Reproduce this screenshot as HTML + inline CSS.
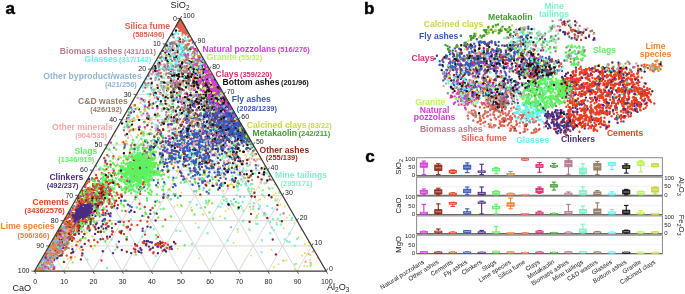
<!DOCTYPE html>
<html><head><meta charset="utf-8"><style>
html,body{margin:0;padding:0;background:#fff;}
svg{display:block;font-family:"Liberation Sans",sans-serif;will-change:transform;}
</style></head><body>
<svg width="685" height="294" viewBox="0 0 685 294">
<rect width="685" height="294" fill="#fff"/>
<g><line x1="49.08" y1="245.94" x2="311.60" y2="245.94" stroke="#d9d9d9" stroke-width="1.00"/><line x1="165.67" y1="43.86" x2="297.03" y2="271.20" stroke="#d9d9d9" stroke-width="1.00"/><line x1="194.84" y1="43.86" x2="63.67" y2="271.20" stroke="#d9d9d9" stroke-width="1.00"/><line x1="63.65" y1="220.68" x2="297.01" y2="220.68" stroke="#d9d9d9" stroke-width="1.00"/><line x1="151.10" y1="69.12" x2="267.86" y2="271.20" stroke="#d9d9d9" stroke-width="1.00"/><line x1="209.44" y1="69.12" x2="92.84" y2="271.20" stroke="#d9d9d9" stroke-width="1.00"/><line x1="78.22" y1="195.42" x2="282.41" y2="195.42" stroke="#d9d9d9" stroke-width="1.00"/><line x1="136.53" y1="94.38" x2="238.69" y2="271.20" stroke="#d9d9d9" stroke-width="1.00"/><line x1="224.03" y1="94.38" x2="122.01" y2="271.20" stroke="#d9d9d9" stroke-width="1.00"/><line x1="92.80" y1="170.16" x2="267.82" y2="170.16" stroke="#d9d9d9" stroke-width="1.00"/><line x1="121.95" y1="119.64" x2="209.52" y2="271.20" stroke="#d9d9d9" stroke-width="1.00"/><line x1="238.63" y1="119.64" x2="151.18" y2="271.20" stroke="#d9d9d9" stroke-width="1.00"/><line x1="107.38" y1="144.90" x2="253.22" y2="144.90" stroke="#d9d9d9" stroke-width="1.00"/><line x1="107.38" y1="144.90" x2="180.35" y2="271.20" stroke="#d9d9d9" stroke-width="1.00"/><line x1="253.22" y1="144.90" x2="180.35" y2="271.20" stroke="#d9d9d9" stroke-width="1.00"/><line x1="121.95" y1="119.64" x2="238.63" y2="119.64" stroke="#d9d9d9" stroke-width="1.00"/><line x1="92.80" y1="170.16" x2="151.18" y2="271.20" stroke="#d9d9d9" stroke-width="1.00"/><line x1="267.82" y1="170.16" x2="209.52" y2="271.20" stroke="#d9d9d9" stroke-width="1.00"/><line x1="136.53" y1="94.38" x2="224.04" y2="94.38" stroke="#d9d9d9" stroke-width="1.00"/><line x1="78.23" y1="195.42" x2="122.01" y2="271.20" stroke="#d9d9d9" stroke-width="1.00"/><line x1="282.41" y1="195.42" x2="238.69" y2="271.20" stroke="#d9d9d9" stroke-width="1.00"/><line x1="151.10" y1="69.12" x2="209.44" y2="69.12" stroke="#d9d9d9" stroke-width="1.00"/><line x1="63.65" y1="220.68" x2="92.84" y2="271.20" stroke="#d9d9d9" stroke-width="1.00"/><line x1="297.01" y1="220.68" x2="267.86" y2="271.20" stroke="#d9d9d9" stroke-width="1.00"/><line x1="165.67" y1="43.86" x2="194.84" y2="43.86" stroke="#d9d9d9" stroke-width="1.00"/><line x1="49.07" y1="245.94" x2="63.67" y2="271.20" stroke="#d9d9d9" stroke-width="1.00"/><line x1="311.60" y1="245.94" x2="297.03" y2="271.20" stroke="#d9d9d9" stroke-width="1.00"/></g>
<g stroke-linecap="round" fill="none"><path stroke="#5ef25e" stroke-width="2.40" d="M145.9 158.1h0M104.4 174.5h0M149.6 161.4h0M123.9 206.4h0M151.4 164.8h0M80.2 213.7h0M139.1 178.6h0M142.3 167.7h0M208.9 200.8h0M131.3 169.9h0M131.1 148.9h0M90.2 229.7h0M126.6 157.9h0M109.2 149.6h0M127.2 163.4h0M104.3 180.1h0M118.2 174.1h0M136.2 171.0h0M54.1 242.0h0M128.8 156.8h0M139.8 173.2h0M75.4 221.3h0M174.1 158.9h0M115.1 185.1h0M96.1 187.0h0M136.8 173.0h0M139.6 186.6h0M153.8 159.7h0M155.1 158.1h0M142.4 132.0h0M136.1 169.3h0M143.3 156.5h0M90.7 221.6h0M73.4 214.2h0M126.6 158.8h0M144.0 165.5h0M184.6 245.3h0M135.2 164.4h0M125.3 175.6h0M150.7 159.6h0"/>
<path stroke="#f2d22c" stroke-width="1.70" d="M189.0 76.8h0M208.4 202.6h0M160.9 93.0h0M173.8 87.6h0M220.0 149.5h0M163.2 172.3h0M179.4 127.2h0M192.3 115.2h0M223.9 135.4h0M161.8 86.2h0M144.9 107.9h0M131.6 124.6h0M194.0 76.1h0M248.9 228.6h0M233.5 125.0h0M152.5 153.4h0M254.2 188.9h0M131.2 145.2h0M225.0 151.8h0M235.2 167.7h0M183.2 154.0h0M199.0 258.3h0M187.5 157.9h0M195.6 148.6h0M185.9 159.4h0M167.4 118.3h0M217.2 183.2h0M274.8 184.6h0M153.0 172.3h0M250.3 203.6h0M203.1 149.5h0M188.5 180.8h0M275.4 199.1h0M168.3 189.7h0M169.0 154.4h0M191.1 149.3h0M170.1 127.7h0M127.2 159.5h0M209.7 189.2h0M169.4 112.3h0"/>
<path stroke="#ee3c1e" stroke-width="2.40" d="M112.3 180.3h0M81.7 231.6h0M127.4 227.6h0M128.9 221.1h0M108.9 173.0h0M168.0 244.7h0M88.9 189.9h0M46.2 253.8h0M78.1 200.8h0M61.1 241.4h0M81.0 221.7h0M82.1 226.9h0M83.6 194.7h0M69.8 224.9h0M85.5 209.9h0M90.2 208.5h0M61.6 226.9h0M80.2 225.4h0M95.0 186.8h0M165.3 219.6h0M97.4 196.0h0M58.4 246.0h0M69.8 222.4h0M149.7 250.1h0M117.3 247.2h0M72.9 215.8h0M54.9 244.2h0M107.3 155.1h0M83.7 202.5h0M76.4 245.3h0M87.5 199.7h0M138.2 251.1h0M76.5 215.1h0M106.5 206.5h0M111.6 189.1h0M93.5 190.1h0M88.4 201.2h0M135.3 252.1h0M92.8 205.8h0M104.2 196.4h0"/>
<path stroke="#3f9e30" stroke-width="2.40" d="M246.5 134.8h0M243.4 132.0h0M245.8 138.9h0M246.4 135.4h0M244.3 134.2h0M245.7 134.7h0M242.4 132.0h0M245.6 136.4h0M249.4 140.6h0M243.9 130.4h0M248.0 137.3h0M243.6 129.7h0M245.6 135.0h0M245.5 134.7h0M239.1 126.0h0M244.8 133.7h0M247.6 138.5h0M245.2 133.8h0M248.2 139.0h0M242.0 135.4h0M244.0 136.1h0M248.0 137.9h0M245.1 132.1h0M243.3 130.8h0M245.6 138.0h0M247.4 136.7h0M241.8 133.1h0M246.0 135.8h0M239.9 127.1h0M244.5 132.3h0M249.3 140.3h0M245.2 136.9h0M242.0 129.0h0M249.1 139.6h0M246.6 135.1h0M241.8 130.5h0M245.2 137.4h0M242.4 130.9h0M243.3 132.3h0M246.8 139.1h0"/>
<path stroke="#6af0f0" stroke-width="2.40" d="M171.9 76.3h0M196.2 73.5h0M190.2 109.9h0M169.0 156.3h0M163.4 57.2h0M176.1 32.6h0M190.6 69.8h0M165.2 59.5h0M151.8 105.2h0M183.8 112.7h0M198.0 63.3h0M189.4 40.6h0M208.5 86.8h0M161.2 58.4h0M178.4 47.1h0M186.2 40.9h0M171.6 66.7h0M218.3 90.7h0M166.0 50.7h0M165.5 67.6h0M144.7 104.9h0M183.7 80.0h0M68.6 222.9h0M53.5 252.1h0M164.3 70.5h0M190.7 65.8h0M177.3 44.7h0M152.9 140.2h0M170.8 73.5h0M59.1 250.8h0M189.9 62.0h0M183.6 77.4h0M151.1 103.8h0M39.2 266.1h0M205.2 75.4h0M44.0 257.8h0M179.5 43.1h0M196.9 51.8h0M174.8 54.9h0M134.1 117.9h0"/>
<path stroke="#5ef25e" stroke-width="2.40" d="M141.1 160.0h0M106.5 165.5h0M83.6 206.9h0M129.0 173.1h0M143.7 169.7h0M135.9 161.3h0M94.2 202.6h0M196.2 191.3h0M113.9 192.0h0M142.6 173.9h0M136.8 171.7h0M144.5 159.9h0M169.8 135.9h0M142.3 169.3h0M138.9 174.6h0M133.5 157.0h0M143.6 151.9h0M145.1 190.8h0M138.3 185.2h0M131.6 166.2h0M143.0 166.9h0M97.9 193.4h0M72.8 221.7h0M78.6 220.0h0M146.9 198.2h0M129.4 189.2h0M144.2 158.5h0M108.2 185.5h0M147.3 172.8h0M141.6 171.1h0M83.7 216.5h0M140.9 153.7h0M138.4 147.7h0M130.8 162.3h0M136.3 171.5h0M135.7 173.1h0M79.4 201.5h0M141.8 159.7h0M132.9 186.4h0M137.0 185.9h0"/>
<path stroke="#3a58b8" stroke-width="2.40" d="M216.6 183.7h0M202.9 132.7h0M233.4 125.1h0M219.8 109.2h0M236.4 121.9h0M229.2 149.2h0M178.2 143.8h0M215.5 116.9h0M187.9 145.6h0M186.0 160.5h0M224.3 122.1h0M211.5 100.7h0M230.8 121.4h0M222.1 136.5h0M154.5 164.6h0M229.4 121.7h0M218.0 108.6h0M171.8 153.2h0M235.1 119.6h0M213.1 144.8h0M171.7 124.0h0M228.2 135.0h0M224.4 165.7h0M204.6 147.8h0M234.0 120.8h0M196.6 119.0h0M222.5 111.7h0M181.1 125.9h0M232.5 113.4h0M166.1 150.6h0M192.8 171.0h0M234.6 122.0h0M221.3 148.8h0M217.4 122.4h0M227.3 111.4h0M175.0 139.8h0M211.6 168.3h0M222.9 102.5h0M198.9 167.0h0M198.8 164.3h0"/>
<path stroke="#4b2b82" stroke-width="2.40" d="M131.1 253.1h0M78.9 233.7h0M101.7 215.0h0M148.1 241.3h0M103.2 189.4h0M72.0 229.1h0M45.9 261.6h0M55.0 242.0h0M102.6 221.1h0M138.9 189.6h0M61.6 254.9h0M102.5 210.1h0M158.0 243.2h0M150.5 210.1h0M60.6 235.5h0M103.3 228.6h0M130.9 112.5h0M117.3 208.3h0M142.7 228.6h0M56.9 244.1h0M127.9 204.6h0M82.9 195.4h0M53.7 259.3h0M83.0 237.2h0M51.5 256.9h0M120.0 221.8h0M158.4 137.9h0M157.9 253.2h0M59.8 231.2h0M141.4 252.6h0M62.5 228.7h0M72.5 224.5h0M134.5 211.9h0M108.5 213.8h0M66.9 235.6h0M86.3 207.6h0M169.7 247.4h0M100.6 239.3h0M72.6 252.4h0M82.4 253.5h0"/>
<path stroke="#f3a7a7" stroke-width="2.40" d="M94.4 195.4h0M205.4 138.5h0M188.8 118.3h0M222.5 128.9h0M205.3 181.1h0M190.0 139.1h0M63.0 234.3h0M215.5 112.9h0M42.0 264.5h0M193.4 84.4h0M227.0 105.6h0M202.0 155.6h0M190.9 117.6h0M41.9 265.3h0M128.9 131.7h0"/>
<path stroke="#e2604c" stroke-width="2.50" d="M183.0 30.0h0M183.6 29.1h0M181.9 25.2h0M182.6 25.8h0M180.9 28.1h0M180.7 21.0h0M182.7 28.3h0M179.9 21.8h0M178.9 22.7h0M180.6 24.1h0M180.3 21.7h0M181.0 22.5h0M182.1 28.6h0M180.9 23.1h0M179.9 20.6h0M183.9 28.4h0M183.4 26.3h0M181.8 24.3h0M182.7 26.1h0M181.4 25.0h0M184.6 30.7h0M180.4 20.4h0M179.8 20.6h0M182.0 23.1h0M182.5 24.2h0M180.5 23.6h0M181.4 22.0h0M181.0 23.4h0M181.9 27.3h0M180.2 23.3h0M182.2 26.4h0M179.5 24.9h0M181.6 22.3h0M184.0 28.2h0M180.2 20.2h0M181.0 26.1h0M180.2 26.1h0M183.0 31.1h0M180.9 22.5h0M186.6 31.0h0"/>
<path stroke="#bcf55c" stroke-width="2.40" d="M209.5 107.2h0M223.0 156.3h0M214.9 83.4h0M192.9 62.3h0M222.1 92.4h0M222.3 100.5h0M223.9 125.6h0M204.5 83.2h0M206.2 82.0h0M170.1 62.7h0M210.2 76.8h0M178.0 71.4h0M219.3 89.8h0M219.2 87.3h0M214.0 96.5h0M200.5 78.2h0M212.0 85.8h0M187.6 48.3h0M180.2 101.1h0M218.3 94.5h0M235.8 128.3h0M193.3 118.3h0M213.9 83.3h0M213.7 79.4h0M213.5 112.3h0M169.4 88.9h0M221.7 93.4h0M200.1 82.7h0M187.1 46.5h0M194.8 66.6h0M221.1 116.2h0M193.0 61.0h0M201.5 57.2h0M197.7 64.5h0M206.7 78.2h0M208.4 77.5h0M207.5 105.5h0M203.0 75.1h0M194.4 55.9h0M193.4 55.8h0"/>
<path stroke="#d8306f" stroke-width="2.40" d="M219.3 98.9h0M217.2 90.8h0M214.1 100.0h0M229.9 124.2h0M218.8 88.2h0M218.2 87.2h0M219.1 98.4h0M222.3 95.7h0M204.2 91.9h0M220.5 93.2h0M229.5 112.1h0M221.4 97.2h0M221.7 94.6h0M221.1 95.9h0M229.4 106.4h0M204.8 74.2h0M215.8 88.9h0M207.2 89.7h0M208.4 73.4h0M225.0 102.0h0M206.1 84.5h0M214.0 93.9h0M211.8 89.2h0M234.4 118.3h0M220.8 106.4h0M214.7 104.8h0M206.7 79.2h0M220.6 100.5h0M216.5 91.4h0M209.4 91.3h0M223.7 100.2h0M221.2 92.0h0M215.9 83.5h0M208.1 102.5h0M216.0 93.9h0M218.6 97.0h0M214.6 86.7h0M227.9 105.6h0M215.4 83.5h0M207.5 68.0h0"/>
<path stroke="#5ef25e" stroke-width="2.40" d="M134.4 169.0h0M143.5 135.6h0M122.0 177.7h0M140.7 177.0h0M138.2 160.2h0M121.0 203.4h0M139.8 180.2h0M208.8 136.0h0M91.9 210.5h0M122.8 166.8h0M87.5 201.2h0M184.5 182.2h0M128.5 182.2h0M104.5 209.4h0M132.0 174.2h0M136.4 157.2h0M142.4 182.9h0M141.2 172.6h0M108.3 167.1h0M84.1 208.3h0M126.3 176.1h0M142.6 173.7h0M104.6 170.3h0M52.2 261.9h0M74.2 217.7h0M100.5 195.2h0M80.2 196.6h0M113.2 181.9h0M163.1 189.5h0M141.7 174.9h0M160.4 160.6h0M139.5 161.2h0M153.6 158.9h0M139.6 177.4h0M151.4 163.4h0M150.5 170.8h0M88.1 206.4h0M148.3 167.3h0M137.2 179.7h0M143.2 162.2h0"/>
<path stroke="#f3a7a7" stroke-width="2.40" d="M179.6 92.9h0M50.8 257.8h0M228.6 130.4h0M241.8 128.6h0M204.5 115.1h0M184.1 76.6h0M163.3 109.4h0M133.1 130.3h0M158.4 86.2h0M240.3 173.4h0M66.9 236.9h0M266.4 182.8h0M192.4 132.8h0M157.2 126.3h0M249.8 164.7h0M243.5 142.3h0M53.1 260.8h0M59.5 231.5h0M182.0 140.3h0M211.1 84.6h0M185.9 145.3h0M185.6 57.6h0M181.4 109.1h0M230.0 110.1h0M209.5 91.3h0M144.9 128.3h0M67.8 234.3h0M212.2 203.4h0M228.2 188.4h0M310.7 262.8h0M188.8 156.7h0M183.7 141.4h0M215.0 152.7h0M173.9 48.8h0M176.8 80.7h0M308.8 254.1h0M137.8 117.3h0M200.7 104.3h0M196.6 110.1h0M313.2 251.4h0"/>
<path stroke="#957d66" stroke-width="2.40" d="M62.0 226.6h0M211.6 163.6h0M95.1 194.2h0M217.7 148.0h0M78.7 231.2h0M171.7 121.0h0M58.6 256.0h0M99.3 169.1h0M162.8 68.6h0M173.4 83.0h0M184.4 71.8h0M89.5 214.8h0M189.9 65.3h0M240.7 128.1h0M179.5 87.8h0M171.1 107.1h0M77.6 223.8h0M201.2 98.7h0M113.0 172.9h0M206.4 111.1h0M184.0 148.5h0M224.4 137.5h0M56.1 258.5h0M235.3 148.5h0M195.5 95.3h0M185.8 81.0h0M207.9 82.0h0M114.0 147.7h0M187.4 132.6h0M211.5 120.6h0M90.0 200.2h0M178.6 95.1h0M220.1 138.8h0M71.0 212.2h0M184.9 80.0h0M69.6 228.6h0M77.6 226.9h0M157.3 85.0h0M203.0 142.2h0M57.3 243.9h0"/>
<path stroke="#5ef25e" stroke-width="2.40" d="M67.2 248.3h0M139.2 190.8h0M144.9 172.7h0M143.1 132.2h0M146.1 181.7h0M105.1 174.3h0M105.0 191.2h0M143.5 171.6h0M141.5 165.4h0M148.7 163.3h0M94.3 211.0h0M119.8 172.5h0M129.9 166.2h0M124.1 179.6h0M181.6 139.2h0M153.9 163.3h0M146.2 166.5h0M146.0 164.8h0M216.0 128.3h0M140.8 180.7h0M142.5 156.7h0M140.0 154.1h0M133.9 177.8h0M133.7 169.6h0M144.8 174.9h0M88.8 211.3h0M110.3 161.1h0M69.2 215.8h0M104.1 157.6h0M150.4 190.0h0M158.6 165.1h0M147.1 161.5h0M95.4 208.2h0M145.1 168.7h0M129.9 162.1h0M171.4 80.0h0M147.4 166.7h0M204.9 174.5h0M141.0 168.2h0M89.7 180.0h0"/>
<path stroke="#8f2a18" stroke-width="2.40" d="M168.2 141.2h0M90.1 189.9h0M70.0 221.2h0M183.0 121.8h0M149.0 246.6h0M97.8 187.0h0M78.1 200.3h0M168.7 144.0h0M178.4 84.2h0M67.6 234.4h0M121.8 196.6h0M130.9 181.4h0M153.5 90.1h0M208.9 99.0h0M232.8 154.6h0M167.1 90.3h0M212.6 139.4h0M194.3 115.3h0M163.2 129.9h0M81.4 200.6h0M206.8 145.0h0M84.8 243.9h0M75.8 214.9h0M235.0 180.8h0M149.6 104.2h0M171.2 161.4h0M77.1 205.2h0M163.3 108.8h0M167.2 116.9h0M227.6 156.0h0M135.7 196.9h0M148.9 102.0h0M224.7 169.0h0M87.2 194.4h0M160.7 143.0h0M183.2 151.3h0M205.1 95.6h0M100.3 184.0h0M236.4 146.7h0M70.5 227.8h0"/>
<path stroke="#3f9e30" stroke-width="2.40" d="M242.5 127.7h0M245.7 133.6h0M241.2 127.8h0M245.9 134.1h0M246.2 135.3h0M244.8 134.1h0M245.4 133.9h0M245.0 132.2h0M249.0 139.6h0M243.6 131.6h0M245.4 134.0h0M246.5 135.0h0M247.3 137.9h0M246.5 135.4h0M245.5 133.1h0M245.3 134.8h0M243.8 137.4h0M243.8 134.3h0M247.7 137.0h0M244.5 131.3h0M242.0 132.2h0M249.5 140.4h0M242.9 128.7h0M247.3 138.4h0M242.0 130.6h0M247.4 138.5h0M240.5 131.8h0M246.7 136.1h0M245.4 133.1h0M244.0 136.5h0M242.0 135.4h0M239.3 126.3h0M247.2 136.3h0M246.0 135.7h0M246.7 136.5h0M245.4 134.8h0M246.7 134.9h0M245.3 133.5h0M249.9 141.3h0M243.7 132.3h0"/>
<path stroke="#b57b90" stroke-width="2.40" d="M178.7 60.4h0M201.0 96.7h0M212.1 78.0h0M176.7 57.7h0M158.4 73.1h0M204.6 106.3h0M189.9 85.5h0M64.6 248.2h0M56.8 239.4h0M171.6 69.3h0M88.2 200.6h0M179.7 76.7h0M53.4 247.2h0M174.0 77.8h0M213.7 83.0h0M211.7 84.2h0M196.9 59.8h0M245.7 183.7h0M167.1 50.6h0M176.7 81.3h0M226.1 130.2h0M167.0 104.2h0M163.3 86.2h0M68.2 216.0h0M223.6 138.8h0M199.1 97.9h0M160.3 73.2h0M222.2 138.3h0M179.5 146.8h0M172.4 43.9h0M191.4 89.2h0M208.3 137.6h0M190.2 80.6h0M212.5 149.2h0M256.1 168.1h0M153.3 72.0h0M177.4 48.8h0M219.8 122.6h0M172.8 46.1h0M178.6 61.7h0"/>
<path stroke="#b57b90" stroke-width="2.40" d="M173.3 42.6h0M173.6 48.8h0M223.6 98.3h0M186.9 129.0h0M204.0 112.6h0M226.0 129.6h0M173.5 110.2h0M198.1 88.4h0M175.7 30.8h0M207.8 115.3h0M178.6 66.3h0M177.3 55.7h0M185.3 97.1h0M179.4 64.6h0M200.0 135.0h0M175.2 99.2h0M191.3 118.0h0M196.2 110.3h0M175.9 83.5h0M194.8 63.7h0M161.5 56.8h0M70.1 232.9h0M193.7 87.9h0M183.9 49.5h0M219.6 104.0h0M226.5 124.5h0M240.4 138.1h0M196.6 121.1h0M205.5 132.9h0M217.5 119.5h0M212.2 164.0h0M166.1 57.2h0M190.8 100.2h0M226.5 112.3h0M198.4 119.8h0M167.9 62.9h0M197.6 131.8h0M193.3 51.9h0M277.1 209.5h0M60.0 234.7h0"/>
<path stroke="#141414" stroke-width="2.40" d="M239.4 136.0h0M209.7 91.3h0M207.4 82.2h0M243.4 140.6h0M191.0 109.6h0M186.6 83.0h0M199.6 136.4h0M217.6 115.0h0M78.7 230.2h0M191.6 134.0h0M177.1 45.4h0M226.0 113.4h0M199.0 69.5h0M197.6 78.5h0M193.7 126.7h0M196.3 72.2h0M177.0 65.9h0M221.4 127.8h0M237.0 132.6h0M216.7 98.7h0M187.9 105.8h0M212.3 105.1h0M167.1 60.4h0M224.4 168.4h0M204.5 140.5h0M198.4 108.0h0M243.8 151.8h0M226.1 106.5h0M207.1 115.7h0M205.0 73.1h0M100.4 199.9h0M236.2 130.0h0M168.4 77.3h0M212.4 138.6h0M206.5 97.5h0M222.6 121.1h0M204.9 75.8h0M193.5 80.7h0M188.4 158.4h0M205.2 117.0h0"/>
<path stroke="#6af0f0" stroke-width="2.40" d="M232.9 129.2h0M187.1 55.2h0M158.2 76.3h0M140.2 98.1h0M176.8 57.4h0M161.7 111.0h0M195.6 60.9h0M185.6 100.0h0M202.7 71.3h0M142.6 87.6h0M59.5 239.4h0M186.0 77.3h0M171.6 55.9h0M224.9 105.6h0M188.7 79.6h0M254.1 203.3h0M179.4 42.7h0M163.0 67.7h0M167.4 46.4h0M220.0 91.5h0M212.7 80.6h0M201.7 124.7h0M169.7 55.3h0M233.2 150.1h0M173.9 44.5h0M195.5 65.3h0M191.5 64.8h0M189.4 50.9h0M173.1 97.4h0M154.4 95.3h0M203.7 85.0h0M62.8 226.1h0M185.0 38.0h0M170.6 50.8h0M200.1 74.8h0M158.0 100.9h0M237.6 127.8h0M174.7 34.3h0M49.6 250.8h0M167.2 57.3h0"/>
<path stroke="#ee3c1e" stroke-width="2.40" d="M140.5 220.7h0M130.0 229.8h0M84.8 218.7h0M62.1 232.7h0M132.3 163.6h0M121.1 233.2h0M78.7 200.3h0M94.2 240.0h0M89.5 211.4h0M109.6 201.5h0M94.8 189.6h0M78.6 199.5h0M62.2 244.3h0M82.7 249.9h0M90.2 210.0h0M93.5 206.2h0M74.7 223.3h0M97.0 223.0h0M97.0 177.9h0M101.9 173.3h0M86.3 202.1h0M58.1 242.3h0M46.5 261.3h0M94.4 179.7h0M64.8 222.4h0M77.4 205.5h0M153.6 252.1h0M66.4 247.4h0M86.9 214.0h0M70.2 223.3h0M67.7 244.0h0M154.0 166.5h0M88.6 199.3h0M82.8 213.2h0M84.5 217.6h0M70.1 227.7h0M59.5 238.1h0M109.1 189.4h0M96.4 197.4h0M166.8 248.0h0"/>
<path stroke="#f2d22c" stroke-width="1.70" d="M200.3 162.3h0M230.1 184.4h0M230.6 154.9h0M221.5 113.0h0M234.0 206.0h0M160.3 69.8h0M197.5 105.3h0M190.2 149.9h0M195.8 131.2h0M181.3 192.5h0M141.4 131.2h0M148.2 122.9h0M258.5 214.1h0M206.6 101.8h0M256.2 167.2h0M216.1 175.7h0M224.5 142.7h0M221.0 98.2h0M277.7 199.1h0M151.7 142.9h0M187.9 132.3h0M183.8 158.0h0M175.2 183.8h0M196.2 113.6h0M163.3 88.1h0M189.7 97.7h0M194.5 86.8h0M177.4 205.2h0M180.9 140.1h0M184.7 177.5h0M149.2 96.4h0M173.5 183.7h0M239.0 165.9h0M256.8 218.1h0M229.3 147.9h0M153.1 165.9h0M177.7 248.7h0M247.6 189.6h0M197.8 131.6h0M182.5 161.1h0"/>
<path stroke="#c9d842" stroke-width="2.40" d="M246.3 134.9h0M222.9 102.3h0M241.6 129.0h0M222.4 98.7h0M245.9 136.6h0M208.5 73.6h0M241.5 131.8h0M254.8 149.7h0M245.3 133.6h0M220.0 91.2h0M217.3 107.2h0M217.1 84.6h0M239.0 130.7h0M234.5 118.9h0M247.5 136.2h0M237.0 125.7h0M243.0 128.5h0M244.8 137.1h0M217.4 88.1h0M242.3 128.6h0M249.7 143.8h0M222.8 101.9h0M198.2 73.4h0M241.7 137.8h0M251.9 147.7h0M247.9 151.0h0M236.2 123.0h0M239.5 125.5h0M246.6 137.9h0M210.2 94.4h0M195.9 77.4h0M246.1 135.1h0M228.8 113.9h0M246.8 137.9h0M242.9 130.5h0M231.4 110.9h0M241.3 130.2h0M247.4 137.4h0M241.5 129.1h0M240.3 124.7h0"/>
<path stroke="#957d66" stroke-width="2.40" d="M191.1 101.2h0M178.3 74.4h0M189.9 109.5h0M164.5 64.6h0M180.4 124.6h0M239.3 158.4h0M45.8 255.4h0M77.2 232.0h0M175.3 115.8h0M107.2 176.9h0M199.6 77.0h0M172.6 100.6h0M74.8 209.6h0M193.6 105.1h0M184.0 150.8h0M208.6 96.0h0M188.4 135.5h0M208.8 103.5h0M132.0 109.9h0M222.3 147.3h0M188.4 82.5h0M183.7 90.2h0M198.9 147.0h0M180.3 124.9h0M56.8 244.7h0M156.9 116.2h0M45.2 267.1h0M180.4 67.1h0M56.9 254.4h0M205.2 108.9h0M195.0 130.4h0M96.9 222.7h0M183.1 164.2h0M170.8 59.1h0M96.3 194.7h0M189.6 102.2h0M218.4 113.8h0M163.2 138.2h0M180.4 81.2h0M194.4 77.2h0"/>
<path stroke="#f3a7a7" stroke-width="2.40" d="M191.8 98.9h0M149.8 119.8h0M167.4 89.1h0M208.6 139.0h0M253.4 206.5h0M163.4 89.3h0M194.3 77.6h0M210.7 133.7h0M110.5 142.9h0M137.5 97.9h0M171.5 129.4h0M53.9 247.8h0M169.9 55.5h0M159.9 90.2h0M182.4 35.3h0M55.5 251.7h0M223.8 107.0h0M194.7 106.0h0M162.2 108.8h0M230.2 113.0h0M187.1 77.2h0M216.5 145.1h0M188.5 113.6h0M199.4 157.3h0M217.1 130.4h0M63.2 240.5h0M260.9 182.5h0M80.6 228.7h0M196.4 123.5h0M61.2 232.4h0M225.8 130.4h0M166.9 87.5h0M158.3 91.5h0M206.8 148.7h0M257.1 159.5h0M225.2 98.7h0M229.2 159.5h0M150.4 73.7h0M305.5 261.8h0M197.9 99.7h0"/>
<path stroke="#141414" stroke-width="2.40" d="M92.4 215.1h0M196.2 92.1h0M179.5 119.1h0M264.6 168.8h0M157.8 98.5h0M221.3 94.1h0M209.4 119.7h0M200.2 98.7h0M199.4 83.2h0M244.8 134.3h0M246.2 134.8h0M126.5 121.6h0M198.4 124.7h0M198.6 119.4h0M210.7 95.9h0M201.9 109.0h0M191.1 131.1h0M160.3 93.3h0M188.7 80.2h0M87.5 208.9h0M211.7 107.3h0M85.9 213.2h0M198.5 95.7h0M194.7 83.9h0M223.2 130.3h0M230.1 116.9h0M221.4 145.8h0M225.4 100.3h0M218.3 141.4h0M127.0 134.1h0"/>
<path stroke="#8f2a18" stroke-width="2.40" d="M206.4 162.2h0M74.2 206.5h0M212.6 140.9h0M61.9 247.5h0M56.4 237.3h0M79.8 210.7h0M45.1 262.2h0M206.1 153.3h0M63.9 261.9h0M65.5 223.9h0M237.6 126.6h0M186.6 122.8h0M181.5 175.9h0M195.4 113.1h0M254.4 192.8h0M194.1 162.6h0M179.8 39.0h0M213.0 113.8h0M237.3 182.3h0M205.8 84.3h0M146.5 159.7h0M125.2 192.4h0M88.7 201.9h0M199.4 155.4h0M127.1 118.5h0M171.4 107.7h0M148.3 217.3h0M101.4 196.6h0M153.3 103.5h0M240.5 140.1h0M267.3 217.9h0M115.6 224.0h0M180.2 41.7h0M139.9 191.4h0M197.3 133.8h0M101.8 195.3h0M191.6 68.3h0M242.9 161.3h0M163.9 122.7h0M237.3 140.6h0"/>
<path stroke="#82f0c8" stroke-width="2.40" d="M197.9 103.4h0M184.8 78.9h0M210.6 152.1h0M187.7 133.7h0M203.0 190.1h0M83.7 216.5h0M105.4 178.9h0M265.2 172.9h0M264.5 183.2h0M233.7 144.7h0M243.3 168.1h0M280.5 214.6h0M191.9 244.3h0M205.5 170.0h0M246.2 170.8h0M228.4 151.5h0M201.5 177.9h0M256.5 170.1h0M248.9 191.5h0M237.9 186.2h0M255.1 173.5h0M273.8 230.0h0M87.3 229.6h0M241.0 206.0h0M209.0 151.3h0M199.1 178.2h0M279.9 220.9h0M272.3 208.3h0M210.1 114.6h0M101.4 189.6h0M276.8 224.4h0M189.8 202.1h0M247.2 180.8h0M224.4 144.2h0M138.3 127.3h0M170.6 145.7h0M238.8 156.7h0M222.1 169.9h0M216.5 183.4h0M266.0 214.4h0"/>
<path stroke="#8fb5d3" stroke-width="2.40" d="M61.9 250.4h0M203.3 99.3h0M78.6 212.4h0M63.9 226.1h0M202.6 103.9h0M53.3 248.6h0M224.2 143.5h0M45.0 268.1h0M168.6 118.5h0M271.9 180.1h0M63.9 230.2h0M219.7 104.1h0M53.6 242.7h0M48.9 248.0h0M48.5 250.2h0M169.1 105.6h0M218.7 174.3h0M60.3 236.1h0M66.0 249.0h0M57.5 242.6h0M60.2 245.8h0M43.6 266.2h0M66.1 230.3h0M53.3 242.1h0M53.6 241.1h0M188.7 87.7h0M56.2 250.0h0M57.7 234.1h0M152.0 74.2h0M62.0 235.8h0M58.3 240.8h0M61.2 238.7h0M44.7 268.0h0M55.8 242.7h0M61.6 236.6h0M45.0 259.1h0M190.1 76.1h0M42.9 258.3h0M194.2 191.4h0M173.9 75.4h0"/>
<path stroke="#5ef25e" stroke-width="2.40" d="M173.8 193.9h0M91.1 211.9h0M152.4 172.9h0M150.9 194.7h0M136.4 164.8h0M148.2 184.5h0M181.5 205.8h0M91.6 208.9h0M115.8 166.2h0M98.1 180.9h0M89.6 196.6h0M61.6 242.3h0M130.4 171.2h0M158.0 179.8h0M71.2 214.7h0M128.7 186.1h0M161.9 155.3h0M129.9 168.4h0M94.3 204.9h0M144.9 164.6h0M131.5 178.2h0M125.6 180.7h0M164.7 184.0h0M133.9 160.8h0M142.9 173.0h0M80.2 201.2h0M151.1 154.0h0M133.3 170.5h0M136.2 173.4h0M137.3 169.6h0M102.5 181.7h0M134.7 180.5h0M90.6 212.0h0M138.5 171.8h0M144.2 174.1h0M129.1 165.7h0M183.8 85.8h0M148.8 168.8h0M145.1 166.2h0M87.0 204.9h0"/>
<path stroke="#5ef25e" stroke-width="2.40" d="M130.3 149.6h0M62.9 239.4h0M77.0 209.0h0M117.3 164.9h0M98.8 201.7h0M149.6 165.5h0M83.5 201.5h0M152.8 171.1h0M142.4 177.3h0M132.4 168.9h0M93.1 196.6h0M128.6 167.2h0M134.8 158.9h0M112.4 198.5h0M240.4 129.8h0M175.6 194.5h0M97.4 192.5h0M138.0 161.0h0M134.6 157.0h0M114.6 181.0h0M148.6 183.6h0M80.6 204.9h0M81.6 204.4h0M174.2 122.9h0M181.5 48.8h0M135.9 179.6h0M137.4 169.2h0M135.7 159.0h0M90.3 194.3h0M149.2 166.8h0M92.5 199.3h0M127.9 182.3h0M137.3 161.0h0M127.7 170.9h0M132.5 163.6h0M135.1 159.2h0M141.1 167.2h0M145.4 161.1h0M131.8 156.5h0M135.8 254.6h0"/>
<path stroke="#5ef25e" stroke-width="2.40" d="M150.0 168.7h0M94.7 245.6h0M71.6 210.6h0M142.5 166.1h0M135.6 172.1h0M160.1 175.0h0M126.9 174.8h0M134.4 178.0h0M143.9 166.4h0M128.6 111.8h0M142.6 176.7h0M133.9 159.5h0M154.3 136.0h0M88.8 191.2h0M48.5 260.7h0M224.5 98.2h0M82.9 220.9h0M152.8 167.5h0M138.0 150.3h0M136.9 165.7h0"/>
<path stroke="#4b2b82" stroke-width="2.40" d="M68.0 233.2h0M156.7 213.6h0M59.5 241.7h0M110.6 213.4h0M81.5 246.9h0M78.4 205.3h0M155.6 220.5h0M65.6 235.3h0M95.1 233.9h0M94.3 206.2h0M101.6 184.5h0M82.6 226.2h0M50.5 255.8h0M68.7 233.5h0M71.7 213.3h0M73.0 213.4h0M45.9 259.7h0M98.8 204.1h0M107.0 236.6h0M113.4 206.9h0M96.1 224.3h0M108.9 203.4h0M65.0 231.7h0M49.5 252.3h0M147.5 142.6h0M131.1 210.5h0M53.9 259.9h0M113.1 253.1h0M84.2 216.8h0M57.8 242.6h0M87.8 204.0h0M162.7 245.9h0M56.8 237.2h0M97.7 212.8h0M58.3 241.1h0M57.2 240.7h0M44.2 255.9h0M150.6 248.9h0M171.4 124.4h0M104.7 218.9h0"/>
<path stroke="#3a58b8" stroke-width="2.40" d="M230.7 148.1h0M199.9 174.8h0M235.8 129.3h0M216.9 114.9h0M220.0 122.8h0M224.8 131.5h0M208.9 108.7h0M220.4 105.6h0M235.9 155.9h0M210.0 121.9h0M158.2 139.8h0M188.2 155.5h0M208.3 149.1h0M170.0 142.4h0M213.7 115.5h0M230.0 135.0h0M237.0 122.5h0M230.9 120.7h0M210.5 160.2h0M253.4 150.7h0M207.4 154.1h0M128.0 226.7h0M222.0 153.8h0M175.3 134.3h0M175.4 143.5h0M189.0 159.4h0M244.5 136.2h0M231.5 123.9h0M219.1 172.3h0M187.1 146.7h0M103.6 219.7h0M201.0 134.8h0M226.3 154.3h0M199.3 142.4h0M195.0 171.4h0M243.5 131.0h0M238.0 125.2h0M211.1 127.1h0M225.3 107.8h0M230.8 127.8h0"/>
<path stroke="#5ef25e" stroke-width="2.40" d="M131.2 180.9h0M155.5 171.8h0M149.6 172.2h0M99.0 187.8h0M135.5 165.8h0M154.9 167.3h0M135.2 168.2h0M147.6 162.3h0M128.9 168.0h0M136.3 163.0h0M158.0 171.2h0M137.5 147.5h0M137.5 192.5h0M101.9 189.3h0M150.3 166.5h0M141.3 154.1h0M72.0 222.2h0M113.9 207.5h0M147.1 200.5h0M137.0 168.6h0M153.6 152.6h0M136.5 168.6h0M132.7 168.6h0M141.7 165.7h0M126.3 159.3h0M137.4 162.6h0M123.0 169.2h0M130.0 183.3h0M106.8 192.8h0M146.3 165.3h0M108.1 194.1h0M131.2 175.3h0M126.1 181.3h0M136.2 173.3h0M89.6 202.0h0M142.3 164.0h0M100.4 168.6h0M146.4 165.2h0M167.8 169.5h0M127.2 126.2h0"/>
<path stroke="#5ef25e" stroke-width="2.40" d="M142.2 175.4h0M149.3 108.6h0M132.4 143.1h0M104.8 170.2h0M150.6 133.4h0M235.9 201.9h0M132.6 159.7h0M236.7 185.8h0M163.4 186.5h0M140.3 178.0h0M129.5 121.7h0M70.3 213.4h0M130.4 184.1h0M140.1 163.1h0M138.2 157.2h0M81.6 192.3h0M82.5 226.1h0M120.7 166.3h0M104.1 231.8h0M72.4 228.2h0M150.6 160.6h0M76.0 206.4h0M145.2 185.0h0M138.8 176.6h0M205.3 171.1h0M106.6 229.4h0M106.0 176.0h0M143.3 166.7h0M145.9 156.4h0M137.0 178.4h0M141.5 162.2h0M79.7 211.6h0M104.5 197.4h0M164.1 174.5h0M148.3 192.6h0M124.9 168.4h0M190.3 90.1h0M135.0 173.2h0M142.2 184.0h0M77.1 222.9h0"/>
<path stroke="#f2d22c" stroke-width="1.80" d="M76.7 241.4h0M298.5 237.5h0M84.7 231.3h0M304.8 244.1h0M311.3 264.6h0M79.0 228.4h0M308.6 242.4h0M286.5 260.2h0M73.7 228.8h0M67.4 245.4h0M87.0 232.9h0M67.7 258.8h0M83.5 238.1h0M72.2 246.7h0M307.0 266.3h0M103.4 224.6h0M83.4 221.6h0M66.5 255.3h0M317.4 257.9h0M310.5 255.2h0M296.4 263.7h0M107.9 222.7h0M286.8 217.7h0M289.5 215.1h0M304.1 265.9h0M84.2 221.2h0M89.7 242.1h0M294.8 269.6h0M79.6 248.8h0M304.8 253.2h0M67.4 235.6h0M283.7 228.3h0M92.0 236.5h0M285.1 206.3h0M53.4 251.0h0M71.2 260.0h0M279.0 192.2h0M310.0 259.9h0M274.2 267.2h0M95.4 245.7h0"/>
<path stroke="#957d66" stroke-width="2.40" d="M171.7 65.0h0M66.5 231.5h0M186.2 109.8h0M190.4 108.9h0M176.8 99.0h0M69.1 224.1h0M196.4 119.4h0M192.4 83.6h0M212.2 99.2h0M217.3 145.2h0M58.2 251.7h0M155.9 77.8h0M89.8 219.7h0M58.5 233.8h0M76.8 221.8h0M269.3 176.2h0M198.5 126.8h0M163.9 149.9h0M172.1 42.4h0M196.9 65.5h0M170.4 44.3h0M187.4 63.1h0M200.2 141.8h0M89.5 210.9h0M151.2 87.7h0M172.7 68.5h0M161.0 135.2h0M220.9 133.4h0M172.2 159.6h0M161.3 82.0h0M211.3 97.4h0M217.5 122.8h0M158.6 65.3h0M172.2 137.5h0M189.5 79.5h0M224.4 124.9h0M180.5 133.9h0M236.9 165.4h0M190.0 74.7h0M150.1 146.8h0"/>
<path stroke="#5ef25e" stroke-width="2.40" d="M138.6 156.7h0M179.8 94.7h0M104.6 199.0h0M73.1 219.0h0M122.2 174.0h0M84.0 199.4h0M78.2 222.1h0M150.8 163.8h0M124.9 191.8h0M96.7 197.0h0M127.0 237.0h0M59.3 230.9h0M147.4 188.6h0M146.8 178.5h0M133.3 170.3h0M202.5 174.7h0M139.8 185.9h0M130.1 179.5h0M143.7 166.9h0M132.9 175.5h0M173.1 150.1h0M207.6 182.2h0M158.1 165.2h0M135.0 170.4h0M124.5 182.0h0M142.8 172.1h0M96.0 203.3h0M142.0 164.7h0M134.0 181.6h0M146.1 142.2h0M143.9 154.0h0M129.7 174.9h0M142.8 154.8h0M142.7 163.0h0M130.7 184.5h0M144.5 166.9h0M130.5 164.3h0M116.7 143.4h0M81.9 226.6h0M159.0 174.3h0"/>
<path stroke="#d63ad8" stroke-width="2.40" d="M222.3 104.5h0M214.9 104.3h0M225.4 102.5h0M175.4 132.0h0M213.4 85.8h0M225.9 114.2h0M215.1 95.6h0M219.9 96.8h0M214.9 86.3h0M209.0 78.6h0M218.8 92.4h0M204.7 84.0h0M195.0 102.7h0M228.3 104.1h0M216.2 88.5h0M221.7 98.1h0M171.8 120.8h0M217.8 85.7h0M93.3 199.1h0M207.9 70.6h0M208.6 79.4h0M185.3 93.5h0M206.2 75.9h0M203.4 81.0h0M215.8 92.7h0M144.8 127.1h0M204.6 77.9h0M215.6 98.8h0M199.7 75.1h0M230.8 115.3h0M212.5 94.6h0M235.8 123.7h0M204.3 71.2h0M202.1 91.0h0M220.3 104.1h0M214.9 101.8h0M234.8 118.2h0M229.4 111.1h0M180.1 98.8h0M201.6 68.4h0"/>
<path stroke="#4b2b82" stroke-width="2.40" d="M108.6 226.4h0M73.1 232.6h0M146.6 241.3h0M144.2 241.2h0M72.6 231.9h0M56.7 237.4h0M66.1 234.2h0M149.0 179.9h0M73.2 238.2h0M46.0 257.7h0M72.4 249.2h0M102.8 251.2h0M133.3 129.4h0M91.5 198.7h0M140.4 248.2h0M140.6 187.4h0M67.0 232.1h0M42.6 268.0h0M109.9 215.7h0M80.9 259.4h0M69.0 216.7h0M161.1 247.4h0M152.9 247.8h0M52.4 265.4h0M71.7 226.4h0M101.5 226.5h0M69.5 221.9h0M78.0 222.0h0M59.4 231.2h0M72.3 224.7h0M155.8 244.5h0M76.5 221.2h0M155.4 201.6h0M169.0 131.0h0M51.4 257.5h0M139.1 127.6h0M61.7 242.9h0M109.9 236.8h0M171.8 249.1h0M77.3 223.9h0"/>
<path stroke="#6af0f0" stroke-width="2.40" d="M209.5 79.6h0M185.5 45.5h0M177.7 45.4h0M164.6 59.2h0M174.4 98.4h0M149.6 78.6h0M167.8 82.2h0M171.3 48.6h0M130.1 115.5h0M180.5 88.7h0M181.2 47.2h0M151.9 82.0h0M179.4 58.1h0M170.5 57.8h0M194.2 72.4h0M174.9 86.1h0M182.4 55.0h0M158.0 60.9h0M185.3 40.4h0M228.4 139.7h0M211.8 93.7h0M168.3 46.4h0M182.2 51.7h0M193.0 42.8h0M226.9 201.6h0M205.4 70.6h0M175.3 73.3h0M51.5 249.8h0M171.5 35.9h0M56.5 252.6h0M177.6 50.6h0M222.8 126.5h0M169.9 50.8h0M184.8 55.9h0M242.8 202.2h0M216.2 93.5h0M182.6 56.0h0M189.9 129.0h0M175.5 95.1h0M176.0 58.2h0"/>
<path stroke="#e2604c" stroke-width="2.50" d="M182.6 27.8h0M179.3 21.9h0M182.0 25.7h0M180.6 23.4h0M180.1 20.4h0M184.4 29.5h0M181.9 27.4h0M179.7 23.4h0M180.2 23.2h0M182.3 25.7h0M182.1 23.2h0M183.5 25.5h0M181.7 23.1h0M181.1 23.0h0M181.9 23.9h0M179.9 22.7h0M180.7 21.3h0M177.8 24.7h0M181.9 23.2h0M183.9 30.5h0M181.4 25.7h0M178.6 23.6h0M180.3 23.8h0M181.0 22.2h0M180.2 24.9h0M181.4 24.7h0M180.6 20.8h0M181.3 23.2h0M180.6 24.9h0M179.9 20.5h0M180.9 24.5h0M179.9 22.7h0M180.3 24.6h0M188.3 37.1h0M179.8 22.9h0M183.9 26.3h0M184.0 29.9h0M180.0 21.2h0M180.2 25.1h0M180.5 22.0h0"/>
<path stroke="#ee3c1e" stroke-width="2.40" d="M88.7 207.8h0M96.1 175.0h0M85.5 192.5h0M151.5 172.4h0M82.5 207.9h0M50.0 254.7h0M83.7 221.4h0M156.9 243.8h0M83.9 201.6h0M76.6 226.4h0M52.1 258.8h0M96.8 212.8h0M83.7 205.5h0M91.0 207.6h0M89.1 181.6h0M91.4 193.1h0M75.1 208.5h0M88.7 208.7h0M93.3 218.4h0M90.8 220.8h0M61.0 236.3h0M100.5 188.8h0M79.4 211.3h0M90.1 190.3h0M90.1 189.0h0M81.3 221.7h0M92.3 206.1h0M163.9 245.1h0M162.4 170.2h0M154.2 143.6h0M91.8 201.2h0M97.3 191.7h0M111.7 203.9h0M104.3 158.3h0M83.1 194.5h0M125.5 211.1h0M91.0 193.2h0M78.7 205.3h0M95.8 201.6h0M89.8 206.7h0"/>
<path stroke="#957d66" stroke-width="2.40" d="M191.6 142.8h0M156.9 128.8h0M59.7 242.0h0M176.7 66.0h0M200.1 55.9h0M47.8 262.1h0M201.4 127.5h0M223.9 133.9h0M189.8 108.9h0M194.0 71.4h0M171.6 164.1h0M64.2 235.3h0M192.1 124.9h0M170.1 56.2h0M53.9 239.2h0M211.7 84.3h0M199.6 147.5h0M201.8 123.6h0M202.7 77.2h0M171.9 152.4h0M221.8 120.1h0M186.5 47.5h0M181.1 138.8h0M204.0 105.5h0M181.1 108.8h0M190.6 67.4h0M153.6 92.6h0M178.9 38.0h0M166.4 112.2h0M66.6 234.3h0M91.1 208.3h0M195.7 59.9h0M220.8 116.7h0M163.9 86.9h0M69.4 236.6h0M172.7 93.1h0M214.7 132.2h0M209.5 120.1h0M190.7 92.6h0M170.7 83.4h0"/>
<path stroke="#d8306f" stroke-width="2.40" d="M231.7 114.7h0M228.3 108.9h0M225.9 106.3h0M234.7 121.1h0M228.3 111.2h0M201.5 73.7h0M225.3 103.7h0M204.8 65.0h0M216.2 92.0h0M221.9 102.4h0M231.1 108.5h0M213.1 85.9h0M216.9 84.5h0M232.7 114.5h0M222.6 116.4h0M213.3 96.4h0M212.8 95.6h0M216.9 98.3h0M221.6 98.1h0M196.9 84.0h0M205.7 80.1h0M215.6 84.1h0M211.3 97.9h0M217.7 96.6h0M217.2 102.9h0M223.4 100.1h0M224.5 110.0h0M223.5 107.4h0M216.7 83.5h0M213.1 85.4h0M218.8 88.3h0M217.0 109.8h0M205.1 92.5h0M225.5 99.7h0M224.6 102.8h0M216.7 94.9h0M231.2 116.1h0M238.9 121.3h0M221.2 109.4h0M215.5 82.0h0"/>
<path stroke="#ee3c1e" stroke-width="2.40" d="M105.8 188.2h0M81.7 216.3h0M79.6 218.0h0M90.5 200.1h0M99.1 203.4h0M43.8 264.2h0M100.6 194.4h0M54.3 268.6h0M62.6 251.8h0M80.6 217.6h0M84.7 209.2h0M54.8 253.5h0M119.5 231.7h0M83.1 219.1h0M94.2 214.9h0M91.6 218.2h0M80.1 210.4h0M55.1 251.2h0M109.4 199.3h0M97.4 188.3h0M57.3 235.4h0M96.1 210.3h0M90.2 189.1h0M131.8 156.9h0M98.4 197.0h0M70.7 257.5h0M82.5 223.5h0M71.2 257.4h0M89.4 217.7h0M85.5 196.1h0M91.4 206.8h0M111.9 196.1h0M123.8 222.1h0M126.4 188.8h0M92.9 213.8h0M81.4 205.0h0M89.2 194.8h0M51.6 253.3h0M57.0 245.3h0M54.8 252.4h0"/>
<path stroke="#d8306f" stroke-width="2.40" d="M233.1 118.4h0M215.4 104.5h0M218.6 103.4h0M218.6 91.9h0M225.0 114.9h0M216.4 93.7h0M226.3 115.2h0M195.8 62.9h0M219.5 98.0h0M217.9 92.0h0M224.1 107.9h0M229.2 104.8h0M212.3 91.1h0M203.7 88.8h0M220.2 102.0h0M218.5 93.0h0M212.4 83.2h0M208.8 74.2h0M209.0 98.1h0M227.9 119.6h0M212.9 101.4h0M213.8 102.1h0M224.0 100.7h0M219.3 104.5h0M209.7 74.0h0M198.6 70.4h0M223.6 106.9h0M225.6 98.6h0M217.2 90.3h0M225.6 104.1h0M219.7 98.4h0M207.3 85.3h0M224.0 110.6h0M228.6 107.3h0M210.4 74.9h0M223.4 113.8h0M216.4 91.8h0M210.9 89.0h0M213.1 90.7h0M224.5 107.0h0"/>
<path stroke="#b57b90" stroke-width="2.40" d="M168.2 60.1h0M214.1 123.6h0M177.4 47.4h0M182.8 97.9h0M189.3 127.1h0M177.8 52.6h0M183.8 59.9h0M182.7 48.5h0M199.5 69.7h0M71.1 225.8h0M174.4 117.0h0M181.1 71.5h0M178.3 65.2h0M153.3 69.2h0M184.7 67.5h0M171.0 50.1h0M182.5 43.1h0M59.4 241.5h0M204.5 68.5h0M157.9 120.6h0"/>
<path stroke="#3a58b8" stroke-width="2.40" d="M220.1 110.4h0M153.6 180.2h0M218.3 117.0h0M250.6 144.0h0M168.5 144.7h0M230.1 108.0h0M175.2 135.8h0M183.1 179.6h0M222.3 125.1h0M225.1 132.5h0M208.5 143.1h0M216.1 132.6h0M182.5 145.6h0M236.3 132.2h0M227.6 127.7h0M205.9 157.8h0M215.7 104.8h0M229.3 125.7h0M193.7 155.1h0M225.8 178.7h0M223.6 123.3h0M190.1 149.9h0M211.7 109.2h0M188.8 150.5h0M234.8 119.8h0M234.6 115.6h0M104.8 219.7h0M217.4 114.5h0M221.8 111.1h0M223.3 122.3h0M237.8 122.9h0M221.4 125.6h0M222.0 125.5h0M197.8 154.1h0M204.3 109.1h0M229.8 140.6h0M213.5 125.0h0M236.5 133.8h0M197.2 174.2h0M235.2 133.7h0"/>
<path stroke="#141414" stroke-width="2.40" d="M203.5 98.3h0M192.6 96.1h0M206.9 83.4h0M212.4 91.6h0M99.3 193.0h0M217.9 102.8h0M207.7 74.7h0M100.8 202.2h0M166.8 108.5h0M219.1 89.6h0M212.6 104.6h0M193.2 149.6h0M177.5 75.5h0M179.2 88.8h0M184.8 76.8h0M202.2 106.6h0M246.8 174.2h0M155.2 66.2h0M216.2 112.3h0M214.3 79.7h0M193.4 103.7h0M228.2 124.9h0M235.9 128.5h0M217.3 110.7h0M200.1 71.5h0M204.3 91.8h0M174.5 84.9h0M213.5 167.4h0M182.8 73.9h0M184.0 166.3h0M194.5 78.2h0M247.8 147.9h0M198.6 80.9h0M219.6 187.8h0M183.2 81.1h0M188.4 126.6h0M261.7 168.3h0M111.4 189.1h0M229.5 116.7h0M96.6 198.4h0"/>
<path stroke="#957d66" stroke-width="2.40" d="M199.9 109.9h0M202.0 127.9h0M173.5 43.3h0M162.8 82.3h0M174.2 58.9h0M130.4 130.3h0M44.4 262.5h0M62.2 244.4h0M219.5 142.3h0M156.7 143.5h0M149.5 133.6h0M70.1 234.3h0M194.7 179.0h0M107.4 191.1h0M127.5 124.6h0M94.8 187.2h0M197.6 118.7h0M88.7 188.5h0M162.1 77.4h0M78.7 206.5h0M216.9 184.7h0M205.7 107.8h0M185.5 62.5h0M227.1 124.1h0M182.6 82.2h0M156.0 71.2h0M60.4 248.4h0M210.9 131.3h0M173.0 98.0h0M165.6 82.9h0M143.4 113.6h0M171.2 73.6h0M86.7 222.3h0M187.4 76.3h0M172.8 103.7h0M193.3 56.3h0M86.1 206.3h0M164.4 98.0h0M157.6 113.7h0M69.7 228.8h0"/>
<path stroke="#3a58b8" stroke-width="2.40" d="M223.5 115.2h0M243.1 129.0h0M214.8 115.5h0M221.5 123.6h0M228.7 127.8h0M228.1 110.5h0M217.1 132.4h0M242.2 132.7h0M224.0 115.4h0M194.1 148.9h0M242.5 131.9h0M216.2 114.5h0M218.5 111.0h0M232.8 120.0h0M150.5 148.6h0M217.9 163.1h0M179.2 144.7h0M184.1 143.9h0M220.1 174.9h0M205.6 126.3h0M202.2 141.9h0M234.1 136.0h0M227.4 109.3h0M194.6 153.1h0M237.9 120.2h0M219.6 128.8h0M225.9 102.7h0M229.8 115.7h0M195.9 141.1h0M181.6 113.2h0M212.9 128.4h0M229.4 115.5h0M149.2 149.4h0M204.7 156.0h0M222.6 106.2h0M184.4 107.8h0M241.5 128.1h0M192.9 142.4h0M206.3 149.8h0M183.0 164.6h0"/>
<path stroke="#5ef25e" stroke-width="2.40" d="M163.6 208.7h0M123.9 163.1h0M148.1 168.4h0M146.0 161.4h0M136.1 178.0h0M146.3 169.9h0M143.9 156.3h0M128.2 165.4h0M148.6 169.5h0M148.3 156.5h0M141.4 168.6h0M209.5 212.4h0M193.7 147.7h0M143.9 172.2h0M145.4 154.1h0M137.0 175.7h0M136.8 170.3h0M151.6 157.6h0M146.2 169.0h0M103.2 179.5h0M130.4 175.5h0M149.2 193.5h0M111.8 223.7h0M136.7 159.7h0M132.8 181.2h0M99.7 216.5h0M146.4 173.4h0M190.6 172.9h0M141.6 158.1h0M162.4 163.1h0M143.8 167.6h0M134.6 168.4h0M101.6 174.4h0M61.5 242.4h0M134.5 163.8h0M161.7 87.6h0M145.0 182.0h0M156.0 163.7h0M148.0 180.2h0M167.4 121.3h0"/>
<path stroke="#8f2a18" stroke-width="2.40" d="M110.6 164.8h0M249.3 176.9h0M88.3 226.0h0M108.3 192.8h0M215.4 176.9h0M92.5 196.0h0M155.3 92.4h0M184.8 158.6h0M77.7 228.9h0M83.4 215.3h0M184.1 48.0h0M94.7 227.0h0M239.2 158.3h0M184.4 153.7h0M158.4 246.5h0M255.8 154.1h0M181.8 73.5h0M101.2 185.3h0M84.4 234.0h0M218.6 163.0h0M193.5 96.6h0M126.8 251.8h0M144.4 121.9h0M63.5 231.8h0M174.0 138.9h0M227.8 185.7h0M157.9 98.9h0M90.2 216.9h0M65.7 231.4h0M173.1 107.3h0M69.3 226.9h0M235.1 147.7h0M161.7 146.4h0M233.8 187.1h0M242.6 164.3h0M134.1 160.4h0M90.5 224.0h0M185.4 120.1h0M177.2 86.2h0M128.5 115.4h0"/>
<path stroke="#d8306f" stroke-width="2.40" d="M218.4 101.8h0M208.0 80.1h0M215.4 90.7h0M209.6 78.6h0M215.8 88.2h0M221.0 98.2h0M229.9 114.9h0M233.4 121.4h0M235.2 125.9h0M213.1 93.2h0M213.3 90.7h0M221.1 92.8h0M227.3 107.0h0M228.1 106.1h0M232.7 111.4h0M220.8 112.3h0M211.0 75.2h0M222.6 105.2h0M226.6 103.0h0M212.3 94.9h0M210.0 89.4h0M214.4 82.3h0M196.8 85.5h0M226.2 109.9h0M216.0 87.6h0M219.4 101.6h0M211.8 84.4h0M229.1 109.4h0M210.2 87.1h0M226.1 100.1h0M220.6 108.2h0M233.4 111.8h0M219.2 105.4h0M221.5 93.8h0M232.4 118.8h0M216.3 94.6h0M206.9 97.8h0M210.6 90.4h0M215.1 88.9h0M211.0 84.5h0"/>
<path stroke="#ee3c1e" stroke-width="2.40" d="M72.7 225.8h0M75.1 221.8h0M60.2 234.0h0M89.9 199.7h0M92.3 193.6h0M90.0 220.3h0M127.8 159.3h0M77.9 223.6h0M96.8 178.0h0M69.3 224.5h0M49.7 248.6h0M77.8 222.3h0M70.9 229.7h0M84.7 208.8h0M73.9 230.8h0M105.6 224.4h0M56.3 253.1h0M58.6 248.9h0M85.0 207.8h0M68.3 242.7h0M92.0 197.7h0M83.0 206.8h0M70.8 233.9h0M70.0 225.8h0M109.5 173.4h0M71.6 226.0h0M95.6 185.3h0M132.9 169.2h0M79.5 216.6h0M143.1 184.2h0M71.2 231.4h0M99.0 199.4h0M69.3 239.9h0M99.9 188.6h0M142.8 242.5h0M95.9 178.1h0M80.2 240.3h0M76.1 214.2h0M78.4 213.7h0M76.7 215.3h0"/>
<path stroke="#4b2b82" stroke-width="2.40" d="M66.5 233.5h0M53.8 245.2h0M55.1 250.1h0M55.6 246.4h0M157.5 246.5h0M64.3 244.8h0M83.9 211.5h0M81.2 196.1h0M102.9 224.2h0M55.7 241.8h0M58.0 246.1h0M60.2 255.6h0M108.0 176.8h0M135.1 244.2h0M73.6 222.0h0M67.0 233.9h0M53.1 256.1h0M150.1 242.1h0M68.5 237.5h0M141.4 249.9h0M67.1 231.9h0M154.4 155.3h0M109.4 194.7h0M147.5 226.6h0M105.6 213.3h0M56.6 235.7h0M92.3 200.9h0M73.2 251.7h0M74.7 217.8h0M76.6 221.1h0M146.2 245.3h0M133.9 111.6h0M89.0 178.9h0M105.4 160.7h0M186.3 156.3h0M77.4 217.5h0M174.0 242.0h0M111.9 228.1h0M95.4 215.9h0M76.5 218.4h0"/>
<path stroke="#ee3c1e" stroke-width="2.40" d="M119.0 197.9h0M96.5 210.5h0M103.8 186.9h0M53.6 248.2h0M65.2 224.7h0M75.1 208.7h0M91.0 220.7h0M82.0 200.4h0M97.1 190.4h0M109.3 203.3h0M81.6 214.0h0M61.5 237.4h0M143.5 182.2h0M78.3 206.8h0M66.7 255.6h0M78.3 218.7h0M111.4 190.3h0M144.1 243.3h0M82.4 193.1h0M90.9 246.2h0M78.7 212.7h0M105.4 162.6h0M114.7 175.1h0M83.8 216.2h0M137.4 225.1h0M96.3 207.3h0M145.1 234.6h0M99.0 213.4h0M144.9 207.0h0M68.7 224.2h0M79.2 204.5h0M89.9 199.3h0M116.7 192.8h0M80.0 222.6h0M93.8 204.9h0M61.3 233.6h0M78.3 216.2h0M79.2 204.7h0M100.0 198.5h0M86.4 196.5h0"/>
<path stroke="#5ef25e" stroke-width="2.40" d="M65.2 236.7h0M89.9 220.3h0M138.5 160.5h0M96.5 184.4h0M130.8 190.2h0M148.7 172.1h0M144.5 179.7h0M104.6 180.6h0M136.1 170.9h0M57.0 245.7h0M154.0 164.8h0M147.7 148.1h0M96.7 200.1h0M141.4 188.9h0M133.3 164.4h0M144.3 176.1h0M141.4 164.2h0M138.6 168.9h0M101.4 178.7h0M106.0 190.3h0M129.3 108.9h0M139.2 172.9h0M103.1 169.1h0M133.6 173.3h0M131.0 180.5h0M84.0 211.2h0M126.2 190.5h0M139.2 160.0h0M120.0 179.1h0M76.4 221.6h0M70.2 225.0h0M155.6 145.0h0M103.4 176.8h0M127.7 157.7h0M122.5 169.4h0M148.9 161.4h0M132.3 166.7h0M147.1 164.6h0M144.0 167.7h0M164.0 70.3h0"/>
<path stroke="#e2604c" stroke-width="2.50" d="M185.7 30.0h0M180.9 22.3h0M179.8 23.2h0M183.5 25.5h0M179.6 23.5h0M180.9 24.6h0M181.8 25.8h0M182.5 24.3h0M180.1 23.9h0M181.8 25.1h0M184.4 29.2h0M181.7 23.6h0M181.9 26.7h0M180.6 28.6h0M178.3 23.8h0M184.9 31.6h0M181.8 24.2h0M186.0 32.7h0M180.4 22.1h0M184.0 27.0h0M185.6 30.7h0M180.8 25.1h0M181.2 27.3h0M181.3 22.3h0M180.2 23.0h0M181.5 23.3h0M180.9 25.5h0M180.6 20.6h0M184.6 30.5h0M179.3 24.9h0M182.1 24.3h0M181.7 22.5h0M182.5 24.9h0M182.1 23.5h0M181.8 27.0h0M180.3 22.1h0M179.0 27.0h0M183.5 26.7h0M180.2 20.2h0M181.7 24.5h0"/>
<path stroke="#d8306f" stroke-width="2.40" d="M207.6 89.1h0M220.7 112.8h0M220.0 91.0h0M204.5 75.5h0M217.0 84.9h0M223.5 97.0h0M218.4 101.7h0M199.3 67.2h0M222.0 104.7h0M234.2 121.1h0"/>
<path stroke="#82f0c8" stroke-width="2.40" d="M97.7 188.7h0M241.4 179.1h0M86.4 195.4h0M106.5 196.0h0M267.3 173.5h0M249.7 230.1h0M217.2 144.0h0M246.1 185.6h0M216.3 174.9h0M267.2 206.0h0M232.5 176.2h0M218.1 130.4h0M247.4 165.9h0M104.0 197.4h0M219.6 131.4h0M206.6 202.2h0M228.7 160.2h0M115.2 249.6h0M195.8 174.2h0M155.6 256.0h0M224.3 183.0h0M248.4 166.1h0M173.3 133.4h0M225.4 154.4h0M270.3 233.3h0M100.6 167.5h0M205.9 155.0h0M198.7 227.5h0M248.4 189.8h0M221.1 141.7h0M219.9 155.7h0M227.7 240.6h0M222.1 203.6h0M259.9 205.7h0M220.4 206.7h0M180.4 231.1h0M238.2 208.9h0M204.1 109.5h0M176.5 177.8h0M72.7 262.4h0"/>
<path stroke="#5ef25e" stroke-width="2.40" d="M114.3 188.5h0M159.1 115.6h0M134.6 174.8h0M95.0 195.9h0M128.2 168.2h0M146.0 148.0h0M134.2 171.8h0M70.7 222.4h0M124.1 175.2h0M106.8 181.5h0M148.5 178.9h0M138.7 176.0h0M138.7 157.0h0M131.3 174.4h0M152.9 148.9h0M94.3 207.3h0M151.2 175.9h0M137.0 159.3h0M128.2 171.9h0M146.1 153.4h0M130.7 167.5h0M159.9 152.8h0M155.1 170.7h0M138.5 183.1h0M141.9 170.8h0M76.2 215.5h0M145.1 176.6h0M143.0 170.0h0M138.7 182.9h0M245.4 178.1h0M171.4 83.3h0M147.5 162.4h0M150.4 152.4h0M144.0 165.2h0M106.2 181.4h0M135.4 165.3h0M127.8 178.2h0M135.2 179.7h0M88.8 214.9h0M137.6 170.7h0"/>
<path stroke="#3a58b8" stroke-width="2.40" d="M69.2 226.7h0M204.9 110.8h0M156.2 185.3h0M203.4 154.7h0M225.0 174.6h0M176.8 97.4h0M220.8 130.7h0M194.9 106.9h0M173.4 177.7h0M240.1 124.5h0M214.8 121.9h0M210.8 125.2h0M234.7 130.5h0M236.6 125.8h0M237.3 123.1h0M202.6 139.6h0M222.8 118.5h0M227.1 133.7h0M174.5 184.3h0M209.9 113.0h0M231.5 136.2h0M205.1 148.7h0M184.4 179.0h0M194.4 141.7h0M218.9 167.2h0M184.0 148.6h0M220.0 114.3h0M244.9 138.3h0M225.7 102.9h0M203.3 119.3h0M219.9 111.3h0M215.9 130.9h0M232.1 113.7h0M173.9 150.7h0M214.7 109.7h0M207.1 129.4h0M219.4 142.2h0M204.0 115.6h0M209.1 156.3h0M143.1 177.1h0"/>
<path stroke="#f2d22c" stroke-width="1.80" d="M309.2 245.6h0M280.5 204.6h0M92.9 249.1h0M68.5 267.8h0M302.1 255.5h0M273.9 195.2h0M74.9 256.9h0M276.2 222.4h0M301.0 229.7h0M101.9 228.6h0M276.8 200.6h0"/>
<path stroke="#ee3c1e" stroke-width="2.40" d="M107.5 238.5h0M113.0 231.7h0M59.9 243.6h0M60.1 233.1h0M59.5 230.4h0M71.9 218.3h0M106.0 194.7h0M93.3 198.4h0M58.3 252.6h0M89.9 189.6h0M75.0 219.6h0M79.7 196.8h0M81.6 199.3h0M53.9 246.9h0M43.8 269.6h0M102.8 187.7h0M100.6 195.6h0M66.8 228.7h0M155.4 244.8h0M81.4 215.3h0M101.2 187.5h0M74.1 234.7h0M141.2 133.4h0M126.7 227.0h0M80.9 205.8h0M83.0 225.5h0M86.7 207.8h0M84.3 201.1h0M132.3 164.3h0M56.2 252.7h0M96.5 204.9h0M85.7 199.8h0M86.8 214.6h0M56.9 243.0h0M71.3 213.0h0M74.7 221.0h0M145.3 87.6h0M103.0 210.2h0M102.8 186.3h0M102.9 189.2h0"/>
<path stroke="#5ef25e" stroke-width="2.40" d="M126.0 164.2h0M141.9 156.7h0M147.7 170.8h0M75.7 222.8h0M132.0 182.1h0M148.6 157.4h0M95.3 202.0h0M146.1 171.4h0M172.8 180.1h0M153.3 174.8h0M135.2 172.0h0M125.9 200.7h0M136.9 163.3h0M140.3 171.1h0M95.8 200.8h0M138.2 163.3h0M75.9 223.0h0M139.0 172.9h0M148.8 186.5h0M140.9 169.1h0M93.4 202.7h0M152.2 178.4h0M142.6 165.7h0M133.6 149.0h0M148.0 171.5h0M111.3 180.4h0M109.3 173.8h0M124.6 173.4h0M140.6 165.9h0M102.7 198.9h0M129.0 174.0h0M135.1 167.5h0M135.0 170.8h0M146.4 181.3h0M158.8 138.0h0M81.1 224.7h0M138.4 159.6h0M221.0 143.7h0M86.8 202.5h0M138.6 172.3h0"/>
<path stroke="#5ef25e" stroke-width="2.40" d="M138.6 165.0h0M151.7 191.8h0M133.3 173.0h0M147.4 163.6h0M146.3 173.0h0M143.2 161.9h0M154.1 139.8h0M138.2 155.9h0M88.2 217.7h0M129.0 179.9h0M138.7 155.8h0M137.3 176.7h0M122.2 189.9h0M138.2 162.3h0M126.4 177.4h0M143.6 165.7h0M141.4 168.8h0M177.9 197.8h0M132.3 174.9h0M127.2 184.3h0M157.8 147.4h0M140.9 170.5h0M103.8 201.9h0M85.4 238.2h0M144.0 175.0h0M127.8 174.3h0M131.0 171.5h0M130.9 165.3h0M78.7 214.5h0M134.9 178.4h0M113.2 168.9h0M128.1 174.3h0M126.3 178.2h0M154.6 157.3h0M141.4 171.7h0M144.5 156.8h0M151.4 153.7h0M108.0 192.3h0M136.0 178.7h0M131.3 181.5h0"/>
<path stroke="#ee3c1e" stroke-width="2.40" d="M120.7 232.7h0M97.4 186.2h0M87.1 182.9h0M67.1 225.1h0M93.9 211.8h0M82.2 202.3h0M87.0 209.3h0M99.4 185.5h0M70.2 236.1h0M91.7 193.8h0M123.4 142.2h0M97.7 200.9h0M134.2 176.8h0M78.0 223.0h0M94.3 193.3h0M138.9 159.7h0M79.0 198.7h0M77.9 208.5h0M63.4 247.5h0M152.7 172.4h0M77.4 209.8h0M73.5 226.7h0M86.0 209.0h0M162.7 250.7h0M106.8 223.4h0M91.8 209.4h0M161.2 246.3h0M93.0 184.2h0M147.3 221.6h0M97.3 187.8h0M72.9 225.4h0M43.2 259.5h0M85.0 219.3h0M57.0 234.3h0M106.5 169.1h0M107.1 163.9h0M87.5 228.2h0M158.1 236.9h0M79.5 203.7h0M110.1 183.0h0"/>
<path stroke="#5ef25e" stroke-width="2.40" d="M136.2 171.3h0M148.2 164.8h0M138.2 163.5h0M137.0 154.6h0M150.2 145.7h0M108.6 188.1h0M89.4 201.0h0M141.7 171.6h0M148.8 160.7h0M140.4 157.9h0M57.0 248.1h0M135.3 168.1h0M143.8 133.3h0M140.7 169.4h0M103.1 173.7h0M143.9 164.3h0M81.0 193.6h0M120.7 169.1h0M131.5 171.7h0M135.2 155.7h0M72.5 224.5h0M159.2 57.4h0M145.2 212.6h0M149.9 173.7h0M144.5 122.6h0M142.9 164.7h0M145.0 171.4h0M124.4 188.2h0M126.1 176.3h0M131.0 175.3h0M154.0 163.2h0M153.6 152.1h0M92.2 194.4h0M126.9 172.8h0M56.0 247.6h0M132.9 165.6h0M143.8 169.5h0M137.9 165.9h0M128.0 187.2h0M148.3 170.2h0"/>
<path stroke="#b57b90" stroke-width="2.40" d="M75.4 222.7h0M192.3 140.0h0M178.0 70.3h0M189.6 73.2h0M182.4 62.4h0M210.2 103.7h0M170.5 48.8h0M186.7 92.8h0M173.6 37.4h0M191.3 69.4h0M62.0 253.9h0M214.0 107.6h0M233.6 117.3h0M173.1 88.2h0M89.8 200.1h0M208.3 98.5h0M180.1 68.5h0M182.5 100.3h0M240.1 158.8h0M173.0 84.4h0M191.1 67.6h0M186.9 68.7h0M238.6 130.0h0M190.5 117.4h0M213.5 128.9h0M222.5 94.7h0M66.3 243.4h0M191.6 75.1h0M178.3 120.0h0M248.4 159.5h0M156.8 97.1h0M195.5 84.7h0M208.6 82.9h0M222.9 97.2h0M174.6 87.2h0M201.9 75.0h0M188.2 127.0h0M177.6 50.2h0M68.7 248.1h0M213.1 127.5h0"/>
<path stroke="#3a58b8" stroke-width="2.40" d="M237.1 156.9h0M225.7 140.9h0M186.5 159.5h0M221.3 114.3h0M227.2 115.1h0M236.7 128.4h0M191.4 177.6h0M218.5 122.9h0M216.9 123.5h0M214.4 144.1h0M177.3 161.6h0M175.8 151.0h0M234.6 127.7h0M211.9 124.9h0M197.6 134.0h0M222.1 108.0h0M203.1 124.3h0M217.6 115.2h0M186.4 131.6h0M142.6 231.0h0M142.4 215.9h0M215.4 154.5h0M167.4 166.3h0M209.6 120.0h0M221.9 149.0h0M225.2 129.1h0M203.4 180.5h0M241.9 137.4h0M236.5 145.9h0M209.4 95.9h0M213.9 106.3h0M249.1 140.0h0M234.1 133.0h0M219.6 115.8h0M217.4 115.7h0M228.0 104.1h0M197.6 172.0h0M220.4 101.0h0M196.7 150.4h0M236.1 125.9h0"/>
<path stroke="#6af0f0" stroke-width="2.40" d="M178.9 45.5h0M173.1 67.8h0M192.0 63.4h0M184.4 100.4h0M171.6 61.0h0M235.2 116.3h0M184.3 53.3h0M167.7 42.1h0M150.6 85.2h0M215.6 163.6h0"/>
<path stroke="#8f2a18" stroke-width="2.40" d="M200.1 130.8h0M57.6 241.7h0M99.6 183.8h0M194.2 131.3h0M228.7 162.9h0M76.1 217.8h0M132.4 121.0h0M70.0 214.0h0M149.2 133.9h0M110.1 191.2h0M177.0 93.0h0M162.9 95.5h0M71.2 253.1h0M158.2 132.9h0M250.9 175.5h0M164.3 65.8h0M175.4 243.6h0M82.9 195.8h0M160.1 243.9h0M49.3 259.5h0M82.1 204.8h0M187.0 97.5h0M60.8 232.6h0M162.6 242.6h0M211.3 141.8h0M213.8 121.4h0M79.4 228.0h0M171.9 150.5h0M149.2 134.0h0M197.3 143.8h0M97.7 207.5h0M62.6 229.8h0M251.2 171.1h0M246.4 149.0h0M219.3 143.7h0M234.3 181.9h0M75.2 218.0h0M275.9 254.4h0M272.7 239.5h0M92.8 196.6h0"/>
<path stroke="#3a58b8" stroke-width="2.40" d="M214.3 119.2h0M234.5 118.7h0M199.5 144.4h0M209.7 116.5h0M221.1 133.9h0M183.1 129.1h0M196.4 159.2h0M233.2 122.3h0M234.1 123.0h0M193.4 144.5h0M207.2 148.6h0M205.9 101.5h0M232.4 120.9h0M175.7 157.7h0M224.8 115.5h0M221.7 112.9h0M191.0 158.7h0M171.4 159.8h0M195.0 164.8h0M234.3 156.7h0M224.6 107.3h0M187.8 96.2h0M226.5 114.1h0M207.4 106.7h0M199.6 139.5h0M226.5 115.5h0M227.1 163.9h0M118.5 221.9h0M214.2 120.1h0M234.3 172.5h0M191.6 153.5h0M215.1 114.5h0M255.8 165.3h0M225.6 126.1h0M240.7 130.7h0M236.7 141.4h0M235.5 129.8h0M238.3 160.9h0M224.4 111.6h0M232.7 131.0h0"/>
<path stroke="#8f2a18" stroke-width="2.40" d="M101.1 189.7h0M91.1 219.6h0M248.5 177.4h0M86.6 207.0h0M235.7 141.0h0M73.6 227.7h0M198.7 137.0h0M215.1 106.0h0M119.5 186.9h0M60.9 235.5h0M141.6 99.1h0M207.4 163.2h0M234.8 141.3h0M231.9 167.8h0M209.0 162.4h0M61.8 255.4h0M99.9 203.2h0M201.8 167.0h0"/>
<path stroke="#8fb5d3" stroke-width="2.40" d="M206.2 123.5h0M238.2 122.6h0M44.0 260.9h0M190.1 181.4h0M192.8 96.5h0M236.8 142.6h0M184.9 139.7h0M65.7 228.3h0M43.9 258.6h0M73.3 239.4h0M222.8 127.2h0M191.0 123.5h0M177.6 99.2h0M144.5 109.4h0M188.4 106.8h0M171.1 160.4h0M58.2 239.1h0M129.4 113.2h0M190.5 135.1h0M51.5 257.9h0M46.1 266.9h0M269.3 188.6h0M160.9 83.0h0M189.6 109.7h0M191.4 75.5h0M57.0 242.9h0M56.2 253.4h0M51.6 245.3h0M186.4 131.6h0M45.4 262.6h0M236.7 153.7h0M184.9 114.8h0M148.4 156.3h0M43.6 267.6h0M57.4 244.8h0M50.7 244.9h0M72.6 232.7h0M62.0 235.4h0M212.7 126.4h0M154.5 89.4h0"/>
<path stroke="#957d66" stroke-width="2.40" d="M198.1 94.6h0M185.8 48.5h0M91.4 214.3h0M191.7 122.7h0M81.2 222.0h0M206.5 82.5h0M209.0 109.6h0M53.7 249.7h0M238.8 183.6h0M183.8 126.8h0M60.2 243.0h0M193.8 105.5h0M189.8 123.0h0M191.4 75.3h0M49.8 252.9h0M208.6 93.4h0M188.1 112.1h0M171.0 69.0h0M206.9 148.7h0M190.3 69.9h0M151.6 146.9h0M202.4 60.6h0M109.6 191.1h0M72.5 224.5h0M73.8 227.4h0M179.1 119.3h0M96.7 187.9h0M186.8 59.8h0M125.4 135.3h0M76.5 202.5h0M201.9 80.1h0M51.9 261.9h0M183.0 41.8h0M216.0 131.6h0M101.4 178.9h0M197.9 119.5h0M68.3 224.0h0M68.7 223.2h0M206.3 151.8h0M188.9 137.3h0"/>
<path stroke="#3a58b8" stroke-width="2.40" d="M182.1 135.5h0M205.8 128.0h0M138.2 160.2h0M219.7 125.9h0M179.7 140.8h0M199.1 115.8h0M245.3 135.3h0M204.0 121.9h0M184.2 161.8h0M235.0 145.4h0M224.3 119.4h0M234.4 129.5h0M241.6 132.4h0M223.3 127.6h0M192.8 145.4h0M217.8 111.7h0M213.5 149.0h0M197.0 141.8h0M235.9 149.1h0M235.9 116.1h0M239.6 130.5h0M180.2 135.8h0M220.3 174.0h0M213.4 145.8h0M208.2 155.0h0M184.5 142.1h0M230.4 139.0h0M226.3 126.4h0M208.8 156.0h0M230.4 129.5h0M212.0 129.1h0M195.3 131.2h0M232.3 132.3h0M168.6 170.7h0M228.5 127.6h0M213.1 107.0h0M218.7 126.2h0M215.7 137.6h0M237.7 137.0h0M193.7 106.2h0"/>
<path stroke="#5ef25e" stroke-width="2.40" d="M152.3 166.2h0M209.3 132.4h0M137.3 168.7h0M134.0 164.0h0M107.6 201.4h0M149.1 178.5h0M207.1 160.2h0M139.5 175.8h0M143.1 161.8h0M135.4 144.6h0M127.9 168.7h0M129.7 168.0h0M135.5 163.1h0M145.6 171.8h0M98.9 231.9h0M150.3 177.4h0M143.9 165.9h0M156.0 163.1h0M136.2 171.4h0M90.2 212.3h0M143.5 172.6h0M144.2 150.7h0M176.6 136.9h0M106.1 183.7h0M140.1 157.6h0M154.7 163.1h0M123.4 161.0h0M140.8 167.3h0M80.7 214.4h0M149.4 166.6h0M120.6 157.4h0M147.1 153.7h0M130.0 181.2h0M134.5 152.2h0M181.6 155.0h0M124.1 189.0h0M96.1 166.1h0M119.1 171.8h0M141.8 166.1h0M142.3 166.9h0"/>
<path stroke="#5ef25e" stroke-width="2.40" d="M76.0 207.1h0M146.0 174.0h0M105.5 241.3h0M127.0 174.8h0M110.4 186.9h0M77.0 220.7h0M136.2 177.8h0M125.3 187.2h0M143.0 187.9h0M138.9 179.8h0M134.0 190.6h0M151.4 162.8h0M153.3 151.7h0M134.3 177.6h0M139.4 145.6h0M81.0 222.8h0M130.4 165.5h0M147.3 155.2h0M146.0 170.3h0M116.2 149.5h0M145.0 161.8h0M128.3 163.6h0M132.2 157.7h0M143.3 133.6h0M160.1 163.4h0M141.5 176.9h0M131.2 193.2h0M150.0 158.8h0M215.6 124.5h0M97.8 212.1h0M140.0 168.8h0M155.0 157.1h0M83.1 207.9h0M98.1 200.4h0M89.6 205.5h0M134.9 166.5h0M135.1 163.6h0M96.5 190.2h0M94.6 222.0h0M135.2 147.6h0"/>
<path stroke="#5ef25e" stroke-width="2.40" d="M74.6 217.4h0M143.2 158.5h0M150.6 133.1h0M146.1 167.6h0M76.7 217.8h0M80.7 239.2h0M177.6 135.4h0M73.3 229.5h0M128.9 190.9h0M167.6 197.8h0M113.9 164.4h0M144.3 162.9h0M142.0 169.1h0M80.8 225.5h0M154.8 174.8h0M145.1 107.3h0M146.5 148.1h0M119.4 173.1h0M194.4 214.5h0M136.5 155.1h0M156.2 235.3h0M129.2 167.8h0M139.1 163.5h0M142.2 165.2h0M96.5 196.6h0M140.1 158.2h0M136.7 207.4h0M100.2 182.9h0M134.1 157.6h0M65.8 230.4h0M98.0 214.7h0M149.1 168.4h0M170.9 154.9h0M144.2 158.4h0M142.2 174.9h0M138.3 164.8h0M147.1 182.1h0M84.9 193.3h0M104.6 165.6h0M114.9 172.7h0"/>
<path stroke="#f3a7a7" stroke-width="2.40" d="M237.3 120.9h0M223.8 95.6h0M205.0 107.9h0M187.6 164.7h0M153.3 90.3h0M202.3 180.8h0M283.4 260.6h0M134.6 120.6h0M144.8 157.6h0M224.6 140.5h0M195.0 121.3h0M184.7 105.2h0M189.2 89.4h0M194.6 88.4h0M232.2 128.2h0M147.8 145.9h0M196.9 109.3h0M194.1 144.4h0M255.7 161.3h0M77.6 205.7h0M166.0 75.2h0M251.6 158.5h0M50.5 247.3h0M197.0 131.7h0M71.0 239.3h0M186.7 128.3h0M62.7 241.9h0M81.1 213.1h0M207.0 137.6h0M216.5 140.7h0M207.4 105.0h0M226.5 108.5h0M163.6 91.0h0M199.8 98.9h0M57.0 247.8h0M193.4 94.6h0M228.9 111.9h0M52.5 266.9h0M188.2 99.5h0M74.1 222.8h0"/>
<path stroke="#5ef25e" stroke-width="2.40" d="M131.2 179.2h0M124.9 169.9h0M159.5 202.1h0M130.1 175.7h0M85.8 187.6h0M121.6 163.3h0M158.3 167.5h0M104.2 188.3h0M134.9 170.4h0M128.5 158.6h0M143.7 157.1h0M237.2 121.0h0M108.8 180.2h0M141.1 144.2h0M142.1 161.1h0M142.0 157.6h0M150.4 162.0h0M144.8 150.6h0M79.3 200.1h0M85.7 223.7h0M68.0 229.7h0M135.6 191.4h0M97.5 188.3h0M131.9 163.5h0M113.1 163.0h0M132.7 148.7h0M136.6 173.1h0M190.5 102.5h0M75.7 219.0h0M147.8 162.7h0M94.1 186.1h0M141.4 188.1h0M103.3 202.7h0M92.8 205.9h0M180.9 182.6h0M166.6 108.4h0M78.7 206.4h0M134.5 168.4h0M176.7 157.5h0M129.4 126.6h0"/>
<path stroke="#5ef25e" stroke-width="2.40" d="M56.9 254.6h0M223.0 105.8h0M136.9 187.8h0M143.3 143.1h0M91.3 189.8h0M121.6 181.1h0M122.6 174.1h0M110.7 166.8h0M129.1 163.1h0M153.4 172.1h0M119.0 170.4h0M98.9 199.7h0M98.4 213.9h0M107.1 198.3h0M149.4 165.4h0M143.1 162.0h0M145.0 140.0h0M144.8 168.1h0M138.5 175.1h0M151.4 155.3h0M64.5 229.0h0M125.5 168.8h0M105.1 188.3h0M126.9 170.5h0M124.3 156.2h0M135.5 180.1h0M144.1 178.4h0M139.2 170.1h0M212.9 179.2h0M126.9 169.0h0M143.1 161.4h0M124.0 148.6h0M94.6 184.0h0M154.6 173.4h0M105.4 183.2h0M178.0 94.5h0M65.2 225.8h0M101.9 204.7h0M132.7 154.1h0M104.9 197.7h0"/>
<path stroke="#3f9e30" stroke-width="2.40" d="M247.6 138.7h0M246.6 135.2h0M252.8 145.6h0M248.0 137.2h0M246.4 137.1h0M247.7 140.1h0M246.1 136.4h0M245.8 133.7h0M246.2 137.3h0M243.6 132.3h0M243.0 133.6h0M246.2 135.8h0M244.4 133.9h0M246.0 134.0h0M246.3 138.1h0M246.7 136.4h0M246.7 136.8h0M246.2 135.8h0M243.9 130.2h0M244.2 130.9h0M245.4 134.4h0M248.4 139.7h0M249.0 139.7h0M242.6 135.5h0M247.2 138.6h0M240.4 128.9h0M241.0 130.9h0M244.9 133.5h0M249.5 140.4h0M242.0 128.2h0M247.3 138.0h0M244.7 131.5h0M246.2 138.6h0M241.2 131.6h0M240.8 127.7h0M248.2 137.6h0M241.9 132.0h0M247.7 136.7h0M241.8 133.6h0M243.5 131.2h0"/>
<path stroke="#141414" stroke-width="2.40" d="M224.2 98.0h0M216.3 125.1h0M223.2 108.6h0M196.7 91.9h0M182.1 89.5h0M246.6 143.4h0M188.5 83.5h0M184.7 77.7h0M209.7 78.9h0M197.0 102.0h0M204.7 125.8h0M200.8 120.1h0M199.5 132.4h0M212.4 102.6h0M94.8 211.0h0M199.7 162.8h0M213.8 92.0h0M66.5 238.4h0M75.6 223.5h0M207.5 71.3h0M204.3 172.5h0M181.9 63.8h0M216.3 84.1h0M214.6 164.5h0M176.5 87.3h0M208.9 107.7h0M269.0 195.3h0M164.1 82.5h0M202.2 97.8h0M206.7 74.6h0M182.9 51.7h0M218.6 132.2h0M177.3 51.8h0M174.8 148.0h0M157.6 87.9h0M165.3 52.6h0M220.5 127.1h0M188.2 78.3h0M224.9 183.0h0M213.2 80.8h0"/>
<path stroke="#8fb5d3" stroke-width="2.40" d="M65.6 225.1h0M189.3 146.6h0M52.2 260.2h0M38.2 266.3h0M56.1 246.7h0M61.7 238.1h0M65.6 238.8h0M57.8 240.4h0M63.4 228.0h0M222.1 134.6h0M50.4 248.0h0M51.0 260.3h0M219.8 119.7h0M217.7 114.7h0M240.1 196.6h0M71.1 237.7h0M208.0 81.2h0M66.4 226.4h0M258.3 165.5h0M215.5 142.2h0M185.9 127.6h0M70.3 227.2h0M48.2 254.4h0M49.2 249.5h0M172.3 98.8h0M164.7 87.7h0M59.5 236.2h0M264.4 213.2h0M40.4 267.4h0M203.9 188.3h0M108.6 156.2h0M211.8 155.6h0M44.4 256.3h0M179.6 112.8h0M187.5 120.0h0M61.4 235.9h0M45.1 258.5h0M154.7 164.9h0M65.7 240.2h0M57.0 240.7h0"/>
<path stroke="#4b2b82" stroke-width="2.40" d="M62.7 247.9h0M164.4 249.8h0M73.0 216.1h0M57.7 236.3h0M166.1 251.4h0M151.9 242.5h0M118.9 241.6h0M105.4 189.5h0M50.3 251.5h0M69.0 213.5h0M135.3 249.6h0M99.7 199.0h0M139.2 251.9h0M121.8 250.0h0M96.0 199.6h0M164.9 250.3h0M86.8 223.7h0M89.5 230.5h0M163.3 146.3h0M57.3 258.0h0M58.7 244.6h0M171.2 246.8h0M106.0 228.2h0"/>
<path stroke="#f28232" stroke-width="2.40" d="M57.9 240.9h0M48.1 253.5h0M94.9 199.7h0M63.6 240.8h0M76.6 230.8h0M83.3 203.3h0M71.3 213.9h0M47.8 256.8h0M66.7 221.4h0M63.9 223.3h0M67.1 217.1h0M67.4 225.8h0M47.8 259.4h0M52.0 252.9h0M59.9 243.3h0M45.1 262.9h0M87.2 209.6h0M66.8 217.4h0M58.1 235.7h0M78.2 202.0h0M88.1 213.8h0M45.9 268.6h0M61.4 234.1h0M88.8 191.7h0M88.3 197.1h0M58.6 250.2h0M58.5 240.1h0M48.0 261.7h0M88.7 205.0h0M66.0 222.3h0M75.0 213.4h0M52.9 252.5h0M49.3 259.7h0M50.7 262.1h0M52.4 251.1h0M54.6 241.2h0M72.2 214.9h0M83.0 208.4h0M59.3 242.4h0M43.6 259.1h0"/>
<path stroke="#5ef25e" stroke-width="2.40" d="M150.6 151.2h0M146.6 169.9h0M136.5 169.0h0M138.4 178.3h0M145.7 178.8h0M81.6 214.7h0M175.9 109.7h0M137.8 173.2h0M146.0 164.5h0M137.8 163.5h0M228.6 167.4h0M162.7 158.1h0M140.3 182.0h0M133.7 173.2h0M145.8 176.6h0M126.6 170.7h0M87.9 190.3h0M146.3 167.8h0M153.2 172.7h0M191.9 210.3h0M78.1 215.0h0M223.5 134.7h0M98.4 186.3h0M152.6 167.9h0M151.1 175.4h0M121.7 169.9h0M137.1 168.1h0M112.3 177.2h0M122.0 194.6h0M209.1 79.4h0M90.6 198.9h0M138.3 168.2h0M73.5 207.9h0M140.3 208.9h0M153.2 151.7h0M148.4 168.9h0M131.8 189.7h0M140.6 112.0h0M129.9 174.1h0M205.1 207.3h0"/>
<path stroke="#3a58b8" stroke-width="2.40" d="M216.8 113.5h0M228.6 109.9h0M233.9 117.2h0M182.2 142.8h0M232.8 117.6h0M196.6 172.4h0M202.5 149.1h0M182.2 130.6h0M206.7 132.0h0M207.8 148.1h0M230.1 110.4h0M196.2 162.1h0M245.7 135.3h0M189.7 157.6h0M164.2 182.2h0M214.5 141.7h0M235.0 129.0h0M234.1 119.5h0M219.7 140.7h0M110.5 216.3h0M225.8 134.1h0M196.9 109.6h0M170.7 124.1h0M162.1 136.3h0M187.0 148.0h0M171.7 157.7h0M239.9 127.2h0M204.2 146.6h0M218.1 148.9h0M223.8 110.5h0M230.5 131.1h0M180.2 150.0h0M236.4 126.3h0M216.5 118.1h0M229.2 205.0h0M230.7 116.5h0M237.3 119.4h0M224.1 135.4h0M202.4 182.5h0M226.1 133.8h0"/>
<path stroke="#3a58b8" stroke-width="2.40" d="M193.1 161.9h0M163.3 161.9h0M189.0 134.9h0M214.2 155.2h0M252.4 146.6h0M129.5 212.0h0M239.6 128.8h0M236.0 123.4h0M238.4 121.2h0M238.8 123.8h0M205.9 115.2h0M214.2 144.6h0M191.8 155.1h0M176.8 135.6h0M230.1 138.5h0M202.2 158.5h0M225.3 102.0h0M196.3 115.2h0M202.2 180.6h0M169.6 162.1h0M220.9 147.2h0M223.3 121.4h0M195.0 134.7h0M228.5 123.0h0M237.4 127.8h0M124.5 200.7h0M193.4 160.4h0M205.1 159.1h0M167.2 163.3h0M204.5 163.2h0M197.9 151.9h0M238.8 126.9h0M205.4 150.5h0M207.9 128.0h0M218.7 128.9h0M217.0 126.6h0M221.6 185.7h0M234.2 145.1h0M188.9 128.6h0M188.7 125.7h0"/>
<path stroke="#3a58b8" stroke-width="2.40" d="M191.5 161.4h0M224.3 108.7h0M229.4 117.2h0M238.8 144.9h0M185.2 151.3h0M228.7 121.3h0M214.8 119.8h0M168.6 158.8h0M216.3 113.8h0M159.9 154.2h0M220.4 184.9h0M208.0 154.2h0M236.3 125.5h0M205.1 113.1h0M181.0 172.6h0M224.6 147.1h0M183.2 152.5h0M238.9 132.7h0M175.4 128.9h0M232.9 123.7h0M218.6 122.1h0M227.0 122.7h0M234.0 134.4h0M173.0 187.1h0M173.4 141.9h0M178.2 167.3h0M213.0 154.8h0M180.4 147.7h0M205.7 114.4h0M222.8 125.4h0M237.5 119.3h0M236.9 169.3h0M206.0 145.0h0M201.6 146.4h0M240.5 128.9h0M243.5 130.9h0M165.5 162.5h0M216.0 118.7h0M229.6 116.8h0M187.0 122.2h0"/>
<path stroke="#3a58b8" stroke-width="2.40" d="M223.6 104.0h0M150.3 213.9h0M102.2 203.7h0M222.8 132.1h0M234.3 127.7h0M217.6 135.0h0M165.6 141.1h0M194.9 130.4h0M162.9 141.8h0M206.7 191.8h0M225.4 143.2h0M227.0 137.6h0M216.0 125.8h0M225.6 137.9h0M197.6 103.9h0M125.1 144.7h0M227.8 117.6h0M206.6 143.4h0M211.1 125.4h0M219.9 111.8h0M199.6 149.3h0M229.0 104.3h0M212.7 124.6h0M169.4 138.7h0M243.8 141.7h0M222.7 122.9h0M195.6 131.1h0M129.7 205.8h0M222.2 114.8h0M187.3 155.1h0M163.7 194.5h0M238.0 149.0h0M214.3 121.3h0M185.0 154.2h0M231.2 109.8h0M242.4 138.5h0M229.6 111.2h0M207.8 134.7h0M185.7 102.1h0M227.4 116.4h0"/>
<path stroke="#3a58b8" stroke-width="2.40" d="M178.6 155.1h0M145.2 141.2h0M229.6 113.2h0M183.0 148.4h0M213.7 99.2h0M240.8 137.9h0M239.3 130.6h0M160.3 142.8h0M230.3 151.4h0M173.4 168.0h0M243.2 133.9h0M188.4 131.6h0M202.5 158.2h0M213.3 115.3h0M231.8 149.9h0M220.0 103.4h0M241.7 133.7h0M222.8 119.3h0M196.8 138.0h0M177.9 122.5h0M205.7 115.0h0M209.8 133.1h0M230.1 110.4h0M198.6 141.6h0M247.0 144.1h0M216.5 125.1h0M227.2 123.5h0M189.5 148.0h0M190.7 157.8h0M232.4 130.0h0M215.9 93.9h0M230.6 129.8h0M223.1 183.3h0M237.7 131.8h0M218.6 168.8h0M121.1 200.7h0M239.1 134.4h0M201.9 139.6h0M223.1 165.8h0M246.9 163.4h0"/>
<path stroke="#5ef25e" stroke-width="2.40" d="M195.5 182.8h0M152.0 170.5h0M147.1 173.3h0M170.9 216.4h0M131.2 177.6h0M104.3 184.7h0M134.4 170.7h0M149.8 161.7h0M143.9 157.2h0M161.2 175.8h0M132.8 182.3h0M162.8 226.4h0M136.6 175.2h0M140.9 163.5h0M213.1 218.6h0M96.5 194.8h0M72.9 215.8h0M142.3 162.4h0M90.5 192.5h0M95.1 189.8h0M151.0 158.5h0M104.6 221.8h0M138.9 181.6h0M147.8 152.2h0M137.9 155.4h0M136.8 159.7h0M143.5 159.5h0M123.5 225.3h0M139.0 175.3h0M124.2 181.9h0M153.8 172.9h0M122.1 172.4h0M139.3 156.0h0M137.4 166.0h0M142.0 166.2h0M133.0 173.8h0M158.3 217.4h0M163.4 163.5h0M161.1 159.6h0M132.0 166.4h0"/>
<path stroke="#d63ad8" stroke-width="2.40" d="M221.1 92.3h0M203.5 64.9h0M211.7 91.6h0M215.1 86.2h0M201.4 75.4h0M180.9 65.2h0M203.1 85.2h0M205.0 66.6h0M198.9 57.9h0M85.4 212.2h0M213.1 96.5h0M157.5 108.2h0M216.4 86.8h0M223.7 97.5h0M213.8 91.8h0M48.0 252.5h0M216.3 91.8h0M220.1 109.0h0M82.5 201.4h0M230.8 122.2h0M42.8 265.2h0M207.7 89.4h0M200.2 60.4h0M187.9 54.0h0M216.1 84.3h0M168.7 136.1h0M210.2 79.9h0M181.8 107.4h0M215.0 108.4h0M214.2 87.2h0M206.7 84.2h0M181.1 102.2h0M213.5 83.4h0M213.9 90.1h0M233.6 113.9h0M219.0 96.0h0M208.0 81.4h0M208.3 88.7h0M203.2 75.5h0M205.6 95.3h0"/>
<path stroke="#82f0c8" stroke-width="2.40" d="M84.3 210.8h0M181.0 147.7h0M262.8 190.2h0M238.6 203.0h0M139.2 191.5h0M207.6 233.2h0M245.5 184.2h0M224.6 154.2h0M91.3 217.6h0M224.7 97.2h0M200.6 208.0h0M216.9 155.9h0M244.3 196.9h0M202.4 109.5h0M203.2 158.3h0M280.9 224.5h0M184.5 166.7h0M156.3 124.7h0M231.0 138.9h0M235.4 164.5h0M250.7 154.5h0M270.2 222.3h0M234.4 132.3h0M208.9 182.9h0M130.8 219.1h0M253.2 209.2h0M126.2 270.2h0M213.2 162.8h0M102.1 179.8h0M149.3 118.2h0M178.7 59.9h0M272.5 188.1h0M212.4 129.0h0M232.2 147.9h0M170.2 97.5h0M189.6 152.9h0M252.3 183.9h0M193.3 153.9h0M145.1 231.4h0M238.4 180.9h0"/>
<path stroke="#ee3c1e" stroke-width="2.40" d="M74.8 207.8h0M88.0 202.5h0M89.1 227.8h0M153.3 253.2h0M88.7 217.9h0M76.1 219.6h0M93.0 186.2h0M54.0 255.2h0M85.5 190.1h0M65.7 242.4h0M53.5 244.9h0M118.0 205.0h0M73.9 238.4h0M84.8 212.5h0M98.0 205.5h0M82.7 211.0h0M90.2 200.0h0M120.9 194.7h0M95.7 195.8h0M99.1 201.4h0M113.8 170.8h0M135.2 172.4h0M97.2 184.2h0M75.6 220.5h0M82.7 216.8h0M79.3 212.1h0M87.7 189.4h0M105.9 181.5h0M110.5 194.0h0M103.1 239.0h0M103.4 187.4h0M140.2 193.9h0M158.9 244.5h0M82.6 206.3h0M82.1 220.6h0M127.2 180.8h0M84.5 223.1h0M88.1 188.2h0M83.1 208.1h0M52.4 246.1h0"/>
<path stroke="#f2d22c" stroke-width="1.70" d="M278.5 264.2h0M260.8 159.7h0M263.4 168.1h0M215.9 164.8h0M156.3 135.0h0M152.7 85.8h0M220.0 216.3h0M255.5 217.5h0M179.1 107.2h0M163.1 139.3h0M187.7 98.7h0M212.2 182.9h0M195.2 105.4h0M144.5 175.8h0M242.3 208.0h0M248.0 176.2h0M149.8 154.7h0M250.3 162.1h0M159.4 172.8h0M142.7 141.4h0M229.1 125.3h0M223.7 196.9h0M245.4 155.0h0M202.5 213.8h0M204.8 100.4h0M233.6 242.9h0M184.1 110.7h0M218.4 154.4h0M258.1 158.7h0M228.7 108.6h0M217.7 152.6h0M131.6 119.8h0M170.9 74.2h0M229.2 114.7h0M183.5 106.5h0M185.7 112.0h0M238.7 145.3h0M186.0 138.1h0M223.8 199.8h0M250.5 185.5h0"/>
<path stroke="#f2d22c" stroke-width="1.70" d="M260.2 199.4h0M156.4 89.2h0M176.4 51.4h0M195.5 223.3h0M191.2 207.5h0M294.4 222.5h0M189.6 150.4h0M161.9 122.9h0M174.0 165.6h0M198.2 121.2h0M223.3 190.9h0M148.4 85.3h0M177.4 133.4h0M203.5 214.7h0M171.0 191.1h0M200.0 94.5h0M178.3 152.3h0M246.8 136.3h0M121.8 142.0h0M239.0 124.3h0"/>
<path stroke="#141414" stroke-width="2.40" d="M179.0 76.5h0M224.3 101.3h0M201.1 81.6h0M228.3 204.3h0M180.3 158.1h0M209.3 111.3h0M172.3 75.7h0M197.0 67.4h0M174.3 56.6h0M178.7 115.1h0M211.6 91.0h0M252.7 146.2h0M184.9 97.2h0M212.1 92.8h0M101.9 184.1h0M208.8 124.4h0M157.2 106.3h0M200.7 89.7h0M227.8 139.7h0M215.6 86.9h0M236.4 166.9h0M230.8 111.6h0M186.5 119.0h0M225.4 109.1h0M237.3 134.6h0M238.5 147.9h0M222.2 119.8h0M155.1 114.7h0M223.7 133.2h0M200.4 59.1h0M185.6 165.8h0M203.5 94.6h0M213.3 95.1h0M212.0 119.6h0M211.2 87.7h0M213.3 102.8h0M236.7 122.9h0M194.5 89.8h0M195.3 49.1h0M237.5 148.9h0"/>
<path stroke="#e2604c" stroke-width="2.50" d="M181.5 24.8h0M183.1 25.5h0M180.7 23.2h0M180.7 24.4h0M178.9 25.8h0M183.9 26.9h0M180.5 21.9h0M182.5 26.4h0M183.4 25.8h0M180.3 22.8h0M187.4 33.4h0M182.1 23.2h0M180.6 27.9h0M178.8 26.8h0M177.5 25.8h0M181.4 23.6h0M182.9 25.6h0M180.9 21.9h0M184.0 26.4h0M180.9 23.9h0M179.8 26.3h0M179.4 24.7h0M178.8 23.0h0M182.4 26.0h0M183.3 27.4h0M184.0 28.8h0M182.8 26.9h0M180.1 21.8h0M182.7 27.2h0M179.0 28.1h0M183.3 27.5h0M180.9 23.5h0M181.2 23.5h0M181.7 26.0h0M186.5 31.3h0M180.2 25.3h0M181.1 21.4h0M180.9 25.0h0M184.3 28.4h0M179.1 24.4h0"/>
<path stroke="#3a58b8" stroke-width="2.40" d="M211.1 109.7h0M196.4 117.6h0M163.3 197.3h0M181.5 133.4h0M221.9 104.9h0M238.2 135.5h0M207.3 121.1h0M218.2 189.5h0M194.1 136.8h0M240.0 124.0h0M199.5 151.1h0M173.5 133.5h0M199.1 157.7h0M189.3 150.0h0M232.4 159.1h0M232.3 116.9h0M242.3 138.8h0M227.6 133.8h0M182.8 150.8h0M205.0 141.2h0M220.2 94.6h0M235.3 122.6h0M220.4 160.0h0M188.5 174.6h0M193.7 118.3h0M208.4 104.6h0M219.1 135.8h0M244.9 132.6h0M244.3 134.8h0M201.3 104.2h0M232.0 118.3h0M216.6 131.5h0M192.7 153.4h0M178.4 106.8h0M195.5 162.9h0M232.8 135.4h0M216.3 112.9h0M235.8 126.7h0M166.8 166.4h0M197.9 144.4h0"/>
<path stroke="#957d66" stroke-width="2.40" d="M225.3 115.6h0M214.5 88.5h0M165.3 118.8h0M207.7 79.0h0M172.5 144.5h0M70.0 232.7h0M147.7 107.5h0M172.6 90.7h0M218.6 125.8h0M67.7 226.2h0M146.0 152.5h0M144.6 82.8h0M222.1 135.4h0M97.7 208.9h0M168.8 48.6h0M229.3 118.0h0M197.3 110.3h0M148.6 75.7h0M168.0 84.8h0M145.7 84.8h0M202.6 124.9h0M177.6 65.5h0M79.7 203.8h0M148.6 116.1h0M73.0 219.1h0M182.8 68.6h0M161.6 85.9h0M61.3 234.6h0M216.3 116.4h0M220.4 102.2h0M171.0 78.9h0M220.3 114.4h0M188.1 118.5h0M237.1 155.1h0M159.0 67.7h0M93.6 179.1h0M52.0 247.8h0M161.2 125.0h0M159.0 79.4h0M175.6 67.0h0"/>
<path stroke="#b57b90" stroke-width="2.40" d="M202.5 76.2h0M59.5 244.3h0M185.3 107.2h0M180.9 69.3h0M211.6 117.9h0M180.9 90.6h0M188.4 49.8h0M159.0 75.6h0M224.4 101.8h0M218.1 123.5h0M167.5 63.8h0M186.7 59.6h0M76.4 215.3h0M200.1 133.7h0M59.2 251.7h0M61.5 244.7h0M173.8 53.8h0M169.8 77.4h0M189.4 78.0h0M205.0 157.9h0M193.0 74.0h0M201.2 120.5h0M70.6 237.5h0M201.8 83.1h0M228.1 119.1h0M182.4 101.0h0M209.3 126.5h0M182.4 83.8h0M188.6 43.9h0M217.4 110.1h0M218.5 139.6h0M183.3 67.1h0M201.1 67.8h0M204.4 148.5h0M232.4 116.6h0M174.1 76.9h0M192.8 47.3h0M66.4 237.9h0M197.2 87.2h0M178.0 82.5h0"/>
<path stroke="#5ef25e" stroke-width="2.40" d="M122.8 166.1h0M120.9 186.6h0M94.6 199.2h0M140.2 183.6h0M97.4 210.9h0M136.2 175.1h0M171.3 155.5h0M133.4 174.0h0M137.8 153.2h0M133.1 174.3h0M120.1 166.2h0M147.2 159.7h0M130.9 173.3h0M64.0 227.7h0M139.5 173.9h0M135.1 199.2h0M143.7 160.6h0M125.4 183.8h0M140.4 180.1h0M138.3 148.3h0M93.6 221.2h0M196.1 164.9h0M132.2 163.7h0M116.3 183.7h0M143.4 173.6h0M210.9 133.5h0M139.5 170.1h0M144.2 173.0h0M143.2 166.5h0M156.0 130.5h0M162.5 190.1h0M153.7 162.5h0M153.9 172.9h0M149.0 181.6h0M141.1 168.4h0M117.8 183.7h0M136.2 172.7h0M141.6 157.8h0M141.3 159.3h0M133.4 178.9h0"/>
<path stroke="#d8306f" stroke-width="2.40" d="M208.1 69.4h0M217.6 103.3h0M217.7 89.2h0M206.8 67.8h0M231.5 111.4h0M213.5 93.5h0M233.1 121.2h0M207.6 71.6h0M204.8 72.5h0M225.5 102.9h0M211.7 88.3h0M220.6 109.9h0M215.5 103.9h0M225.1 101.9h0M227.7 105.8h0M202.6 75.5h0M201.7 77.8h0M198.0 66.6h0M232.0 118.8h0M206.3 67.8h0M218.1 95.3h0M214.5 83.5h0M221.6 97.0h0M224.1 96.6h0M221.5 96.8h0M216.2 83.7h0M222.1 99.8h0M231.8 115.0h0M202.5 72.6h0M222.9 98.1h0M231.4 118.1h0M211.6 85.9h0M216.5 108.0h0M221.8 98.1h0M208.3 97.6h0M202.1 69.4h0M204.9 63.7h0M203.9 81.0h0M223.5 100.7h0M223.9 102.8h0"/>
<path stroke="#f2d22c" stroke-width="1.70" d="M275.7 193.2h0M216.3 156.4h0M167.9 90.5h0M163.4 156.5h0M231.6 184.3h0M205.9 170.0h0M238.0 232.0h0M155.5 73.6h0M233.0 185.1h0M209.9 180.1h0M264.9 197.2h0M202.0 120.2h0M163.2 105.5h0M168.0 56.4h0M209.7 219.0h0M166.7 85.7h0M256.9 215.3h0M115.1 135.9h0M137.1 107.5h0M193.0 143.4h0M228.8 184.8h0M140.2 102.9h0M249.4 157.7h0M249.7 143.8h0M189.6 120.6h0M217.2 179.9h0M204.9 174.4h0M192.3 210.8h0M128.1 121.6h0M223.8 197.0h0M209.3 160.0h0M207.7 205.0h0M250.8 209.1h0M258.7 200.1h0M121.8 167.0h0M144.7 216.0h0M264.7 166.7h0M251.6 191.4h0M271.6 249.6h0M248.7 176.3h0"/>
<path stroke="#d63ad8" stroke-width="2.40" d="M200.8 75.4h0M216.3 89.1h0M220.9 94.1h0M194.1 58.4h0M215.3 87.3h0M199.3 146.8h0M190.8 73.6h0M197.7 61.1h0M207.1 72.3h0M186.4 56.7h0M211.6 84.0h0M214.6 90.5h0M212.5 84.8h0M215.5 96.4h0M216.9 88.6h0M213.1 90.4h0M206.6 69.6h0M206.3 80.9h0M203.2 73.7h0M210.2 93.9h0M219.6 98.8h0M200.5 75.6h0M205.5 75.9h0M213.5 83.1h0M214.3 82.6h0M219.3 90.9h0M205.1 72.7h0M208.4 95.3h0M50.5 261.3h0M128.5 127.3h0M64.4 229.5h0M210.8 85.8h0M195.2 70.4h0M208.2 80.4h0M212.6 83.7h0M207.8 74.0h0M203.4 81.2h0M215.8 89.5h0M229.2 106.8h0M205.6 72.5h0"/>
<path stroke="#f28232" stroke-width="2.40" d="M54.2 243.8h0M70.6 227.3h0M71.0 223.2h0M81.6 210.1h0M78.4 196.8h0M79.7 218.9h0M53.4 250.6h0M59.6 240.8h0M60.6 232.9h0M48.4 257.3h0M54.6 239.3h0M51.0 245.8h0M52.8 252.7h0M77.7 223.9h0M39.4 270.2h0M52.3 247.8h0M55.6 242.3h0M76.1 224.7h0M82.2 195.6h0M52.9 249.0h0M71.9 229.1h0M80.7 205.1h0M63.2 235.5h0M85.3 212.4h0M66.5 222.5h0M60.6 227.8h0M64.9 228.9h0M49.6 252.2h0M79.4 220.3h0M78.5 208.4h0M47.3 266.6h0M69.0 232.3h0M78.7 210.7h0M80.8 205.5h0M89.0 210.1h0M68.4 215.9h0M62.1 234.5h0M56.0 248.4h0M89.6 197.7h0M78.0 241.6h0"/>
<path stroke="#82f0c8" stroke-width="2.40" d="M126.2 238.4h0M190.1 111.4h0M237.0 181.7h0M287.2 241.3h0M295.2 264.3h0M223.5 133.5h0M226.5 198.9h0M186.5 102.9h0M200.0 117.6h0M269.5 174.5h0M237.6 119.5h0M199.1 137.6h0M279.6 192.7h0M264.0 215.2h0M89.7 196.7h0M232.4 164.7h0M168.2 110.2h0M196.8 204.7h0M230.1 156.5h0M219.2 145.5h0M209.1 92.5h0M222.5 172.6h0M95.5 202.6h0M250.7 196.0h0M237.7 229.4h0M136.4 186.1h0M294.8 245.6h0M310.3 265.8h0M277.8 219.0h0M217.8 107.3h0M224.2 161.7h0M231.9 180.4h0M202.2 179.2h0M237.2 187.6h0M273.0 219.3h0M156.3 238.7h0M83.8 207.3h0M192.3 177.6h0M261.9 240.3h0M242.9 170.4h0"/>
<path stroke="#6af0f0" stroke-width="2.40" d="M170.7 68.1h0M197.8 62.9h0M195.4 72.2h0M38.9 270.1h0M157.4 64.1h0M196.3 69.2h0M212.1 85.5h0M248.5 188.1h0M175.7 40.7h0M146.5 115.8h0M175.4 70.4h0M189.7 50.7h0M126.7 123.5h0M194.8 70.7h0M228.0 112.7h0M229.1 150.6h0M206.4 72.8h0M154.5 91.2h0M176.5 64.2h0M194.1 44.2h0M163.4 98.2h0M169.4 69.2h0M129.0 116.8h0M42.9 261.3h0M179.7 44.0h0M194.2 62.5h0M189.2 155.8h0M151.5 90.2h0M157.3 76.5h0M64.2 227.9h0M169.5 66.6h0M46.6 270.5h0M193.6 52.5h0M171.6 64.4h0M181.8 47.2h0M233.3 113.0h0M177.9 37.8h0M192.7 55.3h0M200.4 63.3h0M190.0 61.9h0"/>
<path stroke="#6af0f0" stroke-width="2.40" d="M177.2 48.6h0M180.3 46.2h0M166.3 70.4h0M166.4 44.7h0M206.3 94.7h0M168.3 46.6h0M175.5 57.4h0M174.9 50.6h0M175.5 59.7h0M196.1 62.2h0M211.6 138.3h0M188.8 112.9h0M173.9 78.3h0M147.8 84.6h0M183.6 109.8h0M160.0 76.5h0M150.6 117.9h0M157.9 64.7h0M184.2 77.3h0M131.2 120.2h0M176.5 60.1h0M168.9 46.0h0M62.8 241.0h0M132.2 108.7h0M163.8 92.2h0M218.8 92.3h0M196.4 67.9h0M206.9 143.0h0M57.2 240.8h0M215.6 101.5h0M195.8 130.9h0M202.0 101.4h0M173.6 47.9h0M178.2 67.4h0M167.0 66.3h0M162.3 86.3h0M188.2 40.3h0M143.1 85.4h0M147.8 94.0h0M178.8 44.6h0"/>
<path stroke="#8fb5d3" stroke-width="2.40" d="M222.8 121.3h0M162.3 104.3h0M206.3 86.2h0M197.1 125.7h0M72.6 214.5h0M252.1 180.0h0M57.8 237.7h0M44.0 269.8h0M172.3 130.0h0M46.8 263.8h0M59.6 244.0h0M190.4 109.9h0M151.2 141.0h0M206.0 129.2h0M59.1 248.8h0M60.1 244.4h0M57.9 244.0h0M45.7 263.0h0M171.7 100.8h0M73.5 217.5h0M61.7 242.2h0M45.0 268.6h0M232.7 142.9h0M60.8 231.9h0M197.2 135.8h0M232.1 134.5h0M63.2 238.7h0M69.5 229.2h0M151.5 134.0h0M85.0 207.2h0M185.4 130.8h0M184.1 66.5h0M63.3 233.7h0M50.4 269.6h0M172.4 161.8h0M56.9 238.6h0M46.3 263.2h0M55.3 241.6h0M46.4 262.4h0M130.2 169.9h0"/>
<path stroke="#d63ad8" stroke-width="2.40" d="M204.6 117.3h0M218.4 94.3h0M203.1 61.1h0M218.2 94.7h0M206.3 85.7h0M221.9 94.9h0M193.7 48.6h0M157.8 130.2h0M238.2 123.6h0M217.1 104.2h0M203.6 63.9h0M141.8 99.0h0M204.9 69.5h0M62.8 234.0h0M206.2 69.4h0M215.0 83.6h0M217.8 85.6h0M212.9 92.5h0M62.3 231.0h0M64.8 229.4h0M220.2 97.5h0M201.8 73.7h0M196.9 63.6h0M215.9 85.7h0M206.8 87.1h0M212.5 87.5h0M199.5 61.4h0M194.2 75.6h0M213.9 82.9h0M54.3 266.9h0M213.4 80.3h0M192.9 58.6h0M219.8 88.8h0M81.9 213.4h0M219.3 104.7h0M225.4 100.1h0M198.6 71.3h0M218.8 113.6h0M225.9 102.0h0M199.1 68.5h0"/>
<path stroke="#8f2a18" stroke-width="2.40" d="M39.4 268.4h0M74.9 225.2h0M52.8 252.2h0M193.6 138.7h0M111.7 207.5h0M80.1 225.4h0M222.4 125.8h0M169.6 156.3h0M194.4 101.7h0M139.0 109.3h0M197.2 141.4h0M200.4 94.6h0M261.6 179.4h0M79.8 226.9h0M147.4 125.2h0M227.3 120.4h0M168.8 124.4h0M215.2 140.4h0M175.3 159.2h0M74.4 219.9h0M163.1 129.2h0M222.0 136.7h0M162.5 141.4h0M96.9 187.3h0M172.5 111.8h0M239.8 150.8h0M197.6 116.3h0M181.9 124.5h0M177.5 146.7h0M206.3 185.5h0M192.6 126.3h0M129.9 152.8h0M216.8 143.2h0M93.4 192.8h0M57.5 240.1h0M162.9 50.8h0M210.5 124.4h0M89.3 199.4h0M91.2 201.7h0M134.7 105.2h0"/>
<path stroke="#e2604c" stroke-width="2.50" d="M184.0 30.5h0M185.5 30.3h0M181.5 27.2h0M178.6 23.0h0M183.8 28.3h0M182.0 25.6h0M180.4 22.0h0M180.0 22.3h0M180.3 23.1h0M181.5 24.2h0M182.8 26.5h0M181.7 24.3h0M179.2 21.8h0M179.2 22.4h0M181.0 24.6h0M185.0 30.2h0M180.7 22.2h0M179.8 21.3h0M184.0 26.7h0M181.6 25.9h0M183.0 27.8h0M179.6 21.0h0M183.3 28.3h0M180.1 22.3h0M180.0 21.6h0M182.3 24.0h0M183.4 28.3h0M178.2 23.5h0M180.5 20.3h0M179.4 22.4h0M180.4 22.1h0M182.7 24.3h0M181.2 24.1h0M176.9 25.9h0M179.4 25.9h0M180.0 21.8h0M182.7 25.3h0M180.7 21.9h0M180.7 24.8h0M180.4 23.1h0"/>
<path stroke="#8fb5d3" stroke-width="2.40" d="M52.2 247.4h0M208.3 83.3h0M44.8 264.3h0M160.2 148.9h0M47.7 251.2h0M165.9 115.0h0M182.6 69.6h0M60.7 247.5h0M155.3 79.9h0M54.2 239.3h0M209.0 117.9h0M155.6 78.1h0M144.4 101.8h0M52.9 256.6h0M189.4 116.2h0M209.7 119.0h0M63.2 229.3h0M227.8 134.0h0M232.3 142.5h0M54.4 244.3h0M224.2 148.8h0M62.6 233.1h0M55.4 252.8h0M52.2 260.2h0M210.5 132.0h0M168.1 126.5h0M64.6 232.5h0M65.1 234.0h0M213.8 168.3h0M54.1 256.7h0M54.2 247.1h0M48.4 267.2h0M64.9 243.9h0M53.4 252.2h0M66.4 223.0h0M153.2 89.6h0M231.1 227.1h0M64.6 238.8h0M183.2 69.9h0M227.3 156.4h0"/>
<path stroke="#bcf55c" stroke-width="2.40" d="M199.3 80.6h0M235.8 156.6h0M193.2 60.1h0M203.3 79.1h0M204.9 74.1h0M211.9 105.0h0M204.4 96.9h0M205.8 96.8h0M184.3 60.2h0M203.4 96.4h0M227.5 108.4h0M224.0 102.1h0M189.4 66.1h0M204.7 127.5h0M181.6 60.0h0M215.4 95.1h0M207.9 103.4h0M219.8 93.9h0M219.0 97.7h0M231.0 153.4h0M168.8 86.8h0M198.4 61.4h0M200.9 83.8h0M237.1 127.3h0M202.5 81.6h0M218.0 95.5h0M197.6 74.5h0M163.8 74.1h0M213.0 81.7h0M164.3 54.5h0M204.3 74.8h0M213.0 82.7h0M198.9 76.3h0M212.5 76.4h0M199.7 62.8h0M222.8 107.4h0M215.9 82.9h0M219.8 109.4h0M198.8 89.5h0M268.5 187.6h0"/>
<path stroke="#f2d22c" stroke-width="2.40" d="M133.5 105.2h0M126.1 141.3h0M150.1 118.5h0M150.7 129.6h0M119.3 157.0h0M144.7 110.9h0M163.3 146.4h0M131.4 129.4h0M172.4 145.3h0M193.7 155.9h0M137.0 115.7h0M135.5 129.2h0M131.8 119.7h0M177.0 171.2h0M176.8 129.7h0M138.1 134.9h0M145.4 106.6h0M178.0 151.5h0M200.4 132.1h0M212.1 150.2h0"/>
<path stroke="#957d66" stroke-width="2.40" d="M160.6 103.7h0M162.5 153.4h0M217.5 121.9h0M61.0 231.1h0M41.6 265.3h0M180.4 80.6h0M158.7 66.6h0M231.9 132.6h0M221.1 115.9h0M131.8 157.3h0M174.0 128.8h0M188.1 115.6h0M163.2 123.7h0M158.6 133.1h0M150.3 94.2h0M168.0 88.5h0M176.5 137.5h0M62.6 253.5h0M176.7 86.7h0M152.0 126.9h0M190.4 112.8h0M165.5 59.9h0M184.6 72.3h0M210.8 165.7h0M87.3 181.2h0M114.5 200.6h0M80.9 224.8h0M100.2 196.3h0M188.2 78.0h0M192.7 61.6h0M86.0 220.2h0M58.0 242.8h0M252.9 151.2h0M230.6 137.0h0M191.8 121.8h0M72.2 228.2h0M67.5 241.6h0M187.4 84.8h0M183.8 132.8h0M143.6 145.3h0"/>
<path stroke="#8f2a18" stroke-width="2.40" d="M182.3 82.5h0M59.3 239.5h0M208.2 128.3h0M219.8 116.7h0M172.6 95.7h0M165.3 100.8h0M84.1 216.7h0M101.4 188.1h0M149.2 105.6h0M58.1 231.6h0M101.1 231.6h0M198.6 157.5h0M134.5 145.0h0M209.9 160.5h0M221.2 139.1h0M154.2 173.1h0M237.7 126.0h0M247.0 160.0h0M240.0 172.8h0M269.7 179.4h0M86.6 194.2h0M206.0 150.7h0M176.9 114.7h0M97.9 231.9h0M151.0 78.6h0M281.9 221.2h0M213.8 94.5h0M94.7 187.5h0M84.9 186.5h0M86.5 214.8h0M108.6 184.1h0M230.2 125.0h0M228.9 107.1h0M66.3 227.1h0M90.5 222.1h0M154.1 95.1h0M180.9 125.3h0M82.7 190.6h0M248.4 181.2h0M212.3 149.0h0"/>
<path stroke="#ee3c1e" stroke-width="2.40" d="M102.1 190.8h0M86.2 208.6h0M110.0 193.9h0M114.8 203.0h0M55.5 242.8h0M125.7 173.8h0M100.1 216.1h0M91.3 190.5h0M152.6 208.0h0M112.1 231.2h0M47.3 254.3h0M55.7 239.7h0M130.4 229.1h0M78.1 226.1h0M83.4 215.3h0M96.1 189.4h0M88.0 207.1h0M77.1 230.5h0M65.8 219.2h0M70.0 224.6h0M131.6 224.8h0M87.7 196.2h0M74.7 218.5h0M98.7 204.8h0M77.5 209.3h0M102.5 202.1h0M117.6 194.6h0M71.1 233.2h0M102.1 193.4h0M105.4 215.1h0M89.7 201.3h0M92.4 193.5h0M66.4 231.8h0M78.8 196.9h0M87.3 196.1h0M108.8 199.9h0M86.9 216.7h0M103.0 184.5h0M92.1 203.0h0M85.7 184.6h0"/>
<path stroke="#5ef25e" stroke-width="2.40" d="M131.2 168.5h0M65.0 242.7h0M138.5 162.5h0M78.0 213.6h0M130.6 162.1h0M122.9 167.0h0M140.3 167.7h0M145.0 183.9h0M137.5 175.4h0M120.7 178.9h0M144.1 176.7h0M142.6 161.6h0M80.9 192.4h0M192.8 101.7h0M146.0 157.9h0M144.3 178.3h0M90.7 196.7h0M141.3 170.6h0M137.0 173.2h0M56.9 244.3h0M126.5 170.7h0M156.4 173.6h0M151.6 163.0h0M132.8 188.8h0M138.8 161.6h0M161.0 157.1h0M139.3 158.6h0M148.0 168.8h0M143.6 162.6h0M124.0 176.6h0M139.8 153.0h0M146.7 181.7h0M171.1 114.6h0M119.3 179.4h0M141.5 161.7h0M139.5 177.8h0M139.0 163.7h0M130.3 173.0h0M125.6 173.7h0M151.1 166.3h0"/>
<path stroke="#8f2a18" stroke-width="2.40" d="M249.6 221.8h0M184.2 153.5h0M251.6 196.2h0M244.2 174.3h0M81.3 204.8h0M211.9 166.5h0M199.7 147.4h0M85.4 222.1h0M144.7 150.8h0M100.7 231.8h0M198.6 103.5h0M180.8 88.7h0M164.7 163.9h0M208.8 145.2h0M199.3 102.1h0M148.3 157.9h0M200.3 194.6h0M226.2 171.2h0M70.1 238.8h0M167.8 98.1h0M180.0 171.5h0M89.6 204.8h0M102.9 191.8h0M212.6 114.5h0M176.6 120.3h0M126.7 239.5h0M90.7 218.9h0M271.5 197.2h0M112.3 182.4h0M235.8 153.6h0M194.0 168.4h0M193.9 88.3h0M204.9 114.0h0M137.0 245.6h0M178.4 58.6h0M95.7 229.2h0M162.4 122.5h0M209.9 89.5h0M165.7 119.1h0M62.0 241.9h0"/>
<path stroke="#3a58b8" stroke-width="2.40" d="M195.4 152.9h0M229.8 124.8h0M155.3 141.2h0M209.1 168.4h0M235.3 137.8h0M232.9 123.6h0M124.5 147.2h0M208.8 156.7h0M185.2 136.2h0M207.1 131.5h0M226.1 116.0h0M243.2 145.7h0M238.0 131.8h0M203.6 158.2h0M238.3 134.1h0M246.4 138.0h0M234.1 114.2h0M233.3 121.2h0M219.0 141.0h0M209.9 152.1h0M203.3 126.5h0M231.1 126.3h0M213.4 126.6h0M206.4 145.1h0M217.0 104.7h0M163.3 145.5h0M226.9 130.2h0M220.5 178.0h0M209.5 100.3h0M207.3 159.4h0M162.3 170.4h0M220.0 130.3h0M103.3 215.1h0M193.1 176.1h0M193.2 135.1h0M174.3 145.9h0M224.7 130.1h0M195.8 150.0h0M203.5 158.3h0M160.5 134.3h0"/>
<path stroke="#c9d842" stroke-width="2.40" d="M246.9 136.8h0M205.3 90.1h0M197.0 67.1h0M235.0 123.4h0M241.5 127.9h0M213.7 80.3h0M244.0 132.3h0M245.3 132.5h0M229.1 114.6h0M252.3 145.9h0M244.4 134.0h0M242.9 132.8h0M210.3 76.8h0M237.9 121.7h0M214.7 82.2h0M214.6 86.8h0M227.1 106.1h0M232.7 117.5h0M243.0 130.9h0M249.3 142.9h0M241.5 129.7h0M218.9 92.9h0M244.1 132.0h0M235.8 130.9h0M237.4 124.9h0M240.7 126.7h0M243.8 142.2h0M213.1 81.8h0M238.7 132.4h0M223.5 99.4h0M254.7 154.5h0M235.7 129.9h0M247.4 138.9h0M248.8 142.6h0M217.4 96.4h0M205.8 77.0h0M235.9 123.8h0M243.5 137.1h0M205.4 77.0h0M233.1 128.9h0"/>
<path stroke="#5ef25e" stroke-width="2.40" d="M76.1 232.5h0M132.6 170.4h0M152.4 170.3h0M130.5 126.0h0M141.2 178.4h0M148.2 184.6h0M125.7 156.3h0M131.7 186.1h0M152.0 172.5h0M64.6 233.9h0M154.5 212.8h0M149.4 180.8h0M123.8 174.7h0M155.1 205.5h0M148.8 176.2h0M154.0 174.3h0M173.1 100.6h0M136.8 167.4h0M138.5 162.4h0M133.8 180.7h0M138.7 185.7h0M128.3 167.7h0M126.7 175.0h0M146.4 154.7h0M183.3 142.2h0M110.1 180.9h0M144.2 173.4h0M149.2 164.5h0M159.6 141.4h0M133.3 162.4h0M55.4 237.8h0M132.1 157.6h0M135.9 174.4h0M136.9 186.6h0M136.6 162.7h0M199.5 188.8h0M105.9 185.7h0M128.4 166.3h0M149.3 168.3h0M122.3 179.4h0"/>
<path stroke="#82f0c8" stroke-width="2.40" d="M83.5 229.7h0M238.4 190.2h0M155.8 117.0h0M292.2 217.7h0M236.8 195.3h0M206.3 203.4h0M99.5 209.8h0M217.8 140.9h0M284.8 239.3h0M223.3 185.5h0M238.1 174.7h0M242.7 181.6h0M204.0 112.6h0M230.8 201.1h0M257.0 216.7h0M174.9 132.8h0M224.9 218.4h0M250.9 184.3h0M98.1 187.4h0M291.5 219.7h0M251.8 188.7h0M116.5 244.4h0M267.2 180.5h0M82.3 225.1h0M214.1 104.4h0M178.5 121.3h0M221.1 173.8h0M261.5 252.2h0M257.6 223.9h0M84.9 210.7h0M250.1 193.8h0M160.6 209.0h0M208.2 124.6h0M232.9 204.8h0M297.1 238.9h0M175.1 140.3h0M224.0 200.4h0M223.3 176.0h0M87.4 259.6h0M199.1 155.2h0"/>
<path stroke="#6af0f0" stroke-width="2.40" d="M195.1 53.0h0M200.9 64.8h0M173.0 88.7h0M203.7 62.7h0M175.3 55.8h0M143.4 91.2h0M178.6 69.5h0M54.3 241.7h0M170.9 64.4h0M172.3 49.8h0M159.3 68.4h0M174.9 139.6h0M156.0 74.3h0M190.9 70.0h0M174.2 53.9h0M249.8 148.0h0M207.3 73.3h0M175.4 61.9h0M176.4 61.6h0M185.2 53.8h0M221.4 92.0h0M178.3 33.8h0M183.8 66.1h0M159.4 90.0h0M180.0 71.7h0M179.3 53.6h0M184.4 47.5h0M39.3 264.5h0M181.3 52.7h0M165.2 50.7h0M218.9 96.5h0M202.2 58.7h0M191.0 47.2h0M191.6 55.2h0M182.4 44.1h0M162.6 76.7h0M193.2 152.0h0M204.3 62.6h0M50.3 265.1h0M164.4 78.1h0"/>
<path stroke="#b57b90" stroke-width="2.40" d="M160.7 53.8h0M209.9 75.6h0M198.9 124.5h0M174.6 73.4h0M221.9 119.0h0M186.8 58.3h0M211.0 84.9h0M154.5 70.6h0M166.7 51.8h0M182.9 39.6h0M56.4 249.4h0M212.9 77.4h0M195.2 52.9h0M254.2 159.8h0M159.2 70.2h0M173.3 66.1h0M211.9 89.4h0M193.1 67.0h0M198.1 97.3h0M221.5 141.1h0M233.9 117.9h0M179.4 60.9h0M166.5 69.1h0M184.6 60.9h0M165.6 49.1h0M46.3 266.6h0M196.4 95.6h0M198.0 61.5h0M198.4 73.2h0M220.5 112.7h0M175.6 64.2h0M168.0 65.8h0M175.2 53.0h0M219.3 167.8h0M168.8 69.7h0M211.1 150.5h0M169.5 51.5h0M57.5 249.2h0M179.5 91.5h0M210.2 134.2h0"/>
<path stroke="#5ef25e" stroke-width="2.40" d="M119.1 184.9h0M103.0 178.4h0M191.7 163.5h0M112.2 188.5h0M162.5 174.6h0M103.5 207.9h0M66.3 234.6h0M138.1 170.3h0M141.4 181.5h0M111.4 203.6h0M123.5 170.0h0M130.6 186.7h0M145.1 160.0h0M152.3 159.7h0M144.6 157.3h0M124.5 127.2h0M142.2 174.4h0M147.3 171.7h0M135.7 159.3h0M137.8 177.6h0M139.0 164.4h0M126.0 187.1h0M137.4 175.2h0M113.0 158.4h0M148.2 170.0h0M129.3 168.3h0M158.2 173.4h0M84.3 197.7h0M170.7 199.2h0M97.1 193.2h0M147.2 175.1h0M121.6 172.9h0M203.0 178.4h0M189.3 168.2h0M140.6 175.2h0M140.1 165.3h0M113.3 189.3h0M135.1 166.4h0M64.9 231.0h0M140.1 178.3h0"/>
<path stroke="#f2d22c" stroke-width="1.70" d="M242.0 145.3h0M165.2 85.6h0M227.5 105.2h0M197.3 99.2h0M208.4 203.4h0M182.7 120.4h0M202.3 134.2h0M145.4 183.0h0M234.7 167.4h0M192.2 124.7h0M213.8 132.9h0M190.6 115.8h0M220.5 129.6h0M227.4 154.4h0M230.1 150.5h0M211.9 186.0h0M192.7 75.5h0M263.7 172.9h0M174.5 206.7h0M232.7 134.2h0M174.5 166.3h0M186.8 167.2h0M228.8 209.2h0M259.4 187.7h0M215.3 127.2h0M201.5 195.8h0M158.6 133.8h0M191.4 159.0h0M175.9 134.4h0M198.1 157.7h0M158.1 116.2h0M132.7 118.8h0M215.6 142.1h0M157.5 218.1h0M230.0 180.2h0M251.1 255.6h0M180.8 204.6h0M225.4 211.0h0M201.4 90.9h0M166.4 72.4h0"/>
<path stroke="#ee3c1e" stroke-width="2.40" d="M97.6 242.2h0M63.5 239.7h0M91.9 192.8h0M64.7 237.2h0M53.4 268.9h0M81.7 200.3h0M48.5 268.6h0M81.7 199.0h0M79.1 214.0h0M113.4 156.2h0M86.7 220.5h0M95.4 198.3h0M165.4 243.1h0M73.0 209.4h0M73.5 218.5h0M93.3 186.3h0M92.2 179.6h0M85.3 214.6h0M54.8 243.1h0M79.9 214.0h0M101.9 198.2h0M75.3 234.4h0M68.9 230.0h0M68.7 221.8h0M99.1 188.5h0M107.3 182.0h0M100.2 184.7h0M133.9 248.8h0M85.0 201.8h0M111.9 234.4h0M67.6 218.3h0M139.5 203.8h0M69.3 227.4h0M115.2 174.5h0M58.5 245.2h0M94.7 189.8h0M89.8 203.0h0M71.9 236.6h0"/>
<path stroke="#d63ad8" stroke-width="2.40" d="M228.3 114.9h0M223.5 97.7h0M131.1 107.5h0M191.6 130.6h0M220.7 95.2h0M228.8 108.4h0M85.3 185.9h0M212.6 80.9h0M226.6 105.4h0M218.9 89.6h0M219.3 109.6h0M210.8 79.8h0"/>
<path stroke="#141414" stroke-width="2.40" d="M220.6 92.1h0M193.3 82.5h0M148.3 118.8h0M233.7 151.7h0M189.3 61.2h0M196.5 82.4h0M214.5 80.6h0M192.6 105.0h0M215.9 149.1h0M214.1 124.9h0M98.0 205.4h0M199.8 69.3h0M223.3 140.5h0M205.3 82.6h0M180.3 110.0h0M111.4 175.6h0M191.4 62.1h0M206.9 108.4h0M160.8 101.2h0M178.0 78.7h0M209.7 95.2h0M224.9 116.6h0M221.5 136.1h0M210.3 87.7h0M164.2 108.4h0M233.1 122.8h0M217.0 91.4h0M224.7 110.4h0M198.6 83.0h0M188.4 112.8h0M201.7 115.9h0M241.3 135.4h0M198.4 85.3h0M169.0 54.0h0M216.9 133.0h0M244.2 134.0h0M184.1 159.0h0M189.9 125.4h0M228.3 120.1h0M203.0 72.7h0"/>
<path stroke="#3a58b8" stroke-width="2.40" d="M234.9 124.4h0M214.6 172.4h0M193.9 126.4h0M248.2 140.8h0M218.7 121.5h0M172.0 156.7h0M182.3 139.2h0M232.4 118.0h0M228.3 138.9h0M215.2 97.7h0M218.6 109.8h0M240.2 137.8h0M218.5 124.2h0M187.5 160.8h0M237.9 143.1h0M242.7 133.2h0M216.6 118.0h0M209.5 122.9h0M181.4 173.3h0M143.2 154.5h0M177.5 141.0h0M213.9 111.2h0M226.2 120.3h0M193.4 143.0h0M225.4 108.8h0M245.4 134.4h0M212.3 102.1h0M238.8 127.3h0M197.0 134.7h0M213.2 106.7h0M228.2 115.0h0M211.4 147.0h0M241.6 142.4h0M221.4 183.4h0M207.6 176.8h0M218.9 180.6h0M220.3 101.9h0M217.7 175.3h0M230.8 120.3h0M220.2 134.7h0"/>
<path stroke="#5ef25e" stroke-width="2.40" d="M118.3 173.3h0M96.0 188.7h0M141.7 159.0h0M97.1 192.7h0M134.2 162.1h0M169.3 189.4h0M131.7 178.9h0M130.2 168.7h0M145.2 165.0h0M119.8 180.3h0M157.0 200.9h0M154.4 173.4h0M141.8 165.4h0M131.2 147.9h0M146.9 168.3h0M151.6 164.9h0M133.0 171.1h0M106.7 148.4h0M137.1 181.3h0M93.8 205.7h0M234.6 144.4h0M86.5 197.2h0M95.9 203.4h0M134.7 177.8h0M147.8 175.4h0M146.6 163.4h0M95.1 181.2h0M209.2 190.1h0M115.1 184.1h0M141.5 189.2h0M84.0 223.5h0M86.1 192.8h0M151.3 164.4h0M84.5 193.9h0M144.8 162.2h0M90.2 215.9h0M89.7 199.9h0M130.4 165.5h0M160.3 161.9h0M92.5 179.2h0"/>
<path stroke="#3a58b8" stroke-width="2.40" d="M217.8 93.6h0M225.6 115.5h0M179.8 157.8h0M234.0 134.1h0M215.5 119.2h0M165.7 138.1h0M203.8 170.7h0M189.8 151.1h0M225.0 164.7h0M242.7 136.4h0M230.1 126.0h0M173.5 157.8h0M167.3 149.5h0M225.2 102.2h0M184.8 118.3h0M183.8 139.9h0M176.6 138.4h0M219.6 113.4h0M195.5 136.9h0M219.8 103.3h0M180.5 144.1h0M232.6 118.2h0M209.9 102.5h0M204.7 131.3h0M191.6 138.6h0M200.0 114.5h0M231.9 130.2h0M205.7 166.2h0M181.3 136.7h0M165.1 151.4h0M202.7 182.5h0M216.0 125.4h0M192.0 103.2h0M223.5 121.2h0M208.2 107.1h0M212.3 161.0h0M199.6 179.3h0M181.1 132.7h0M221.5 134.3h0M234.8 125.7h0"/>
<path stroke="#82f0c8" stroke-width="2.40" d="M231.1 149.8h0M191.1 184.1h0M250.0 206.7h0M222.3 158.5h0M172.4 111.9h0M228.9 165.6h0M256.2 223.6h0M96.4 203.5h0M232.0 203.8h0M275.6 200.2h0M229.9 169.7h0M242.8 221.3h0M243.3 210.7h0M218.0 206.4h0M87.1 224.3h0M193.0 156.2h0M289.5 242.0h0M289.5 233.8h0M222.8 196.4h0M142.3 236.7h0M178.7 115.0h0M153.8 229.2h0M206.0 200.8h0M106.9 267.9h0M262.2 194.7h0M207.5 130.1h0M198.5 160.2h0M243.7 220.4h0M111.6 239.5h0M176.3 230.7h0M190.6 133.9h0M233.8 147.1h0M100.8 215.5h0M237.0 142.7h0M263.3 195.6h0M212.1 177.0h0M232.0 158.3h0M225.4 157.5h0M241.0 185.1h0M242.9 176.0h0"/>
<path stroke="#3f9e30" stroke-width="2.40" d="M246.8 136.1h0M241.4 130.0h0M236.7 124.9h0M240.9 130.4h0M248.6 140.8h0M245.7 134.3h0M247.7 137.5h0M245.7 134.2h0M243.1 128.9h0M244.5 132.9h0M240.7 127.9h0M244.0 130.9h0M245.9 136.3h0M243.7 132.4h0M246.0 136.3h0M247.5 139.1h0M240.4 129.0h0M243.9 134.9h0M247.2 136.7h0M242.8 132.8h0M242.3 130.1h0M246.9 136.5h0M248.0 137.2h0M244.7 134.3h0M246.5 134.9h0M246.6 135.0h0M248.5 139.1h0M244.5 135.2h0M246.3 135.3h0M250.0 141.0h0"/>
<path stroke="#d63ad8" stroke-width="2.40" d="M208.6 82.5h0M56.0 243.2h0M70.9 210.7h0M241.3 131.6h0M230.6 110.1h0M202.7 84.0h0M221.2 106.0h0M157.4 71.1h0M188.5 69.6h0M193.2 68.8h0M170.4 139.0h0M90.7 194.1h0M207.0 83.6h0M199.4 69.1h0M211.9 82.6h0M216.0 85.0h0M211.3 84.4h0M199.5 58.8h0M231.1 107.8h0M207.9 77.2h0M221.0 113.7h0M207.7 72.1h0M200.9 90.0h0M205.2 80.2h0M215.3 81.6h0M193.6 65.2h0M194.7 106.7h0M128.6 118.1h0M201.0 67.2h0M192.8 42.3h0M215.6 82.8h0M224.9 111.9h0M226.4 100.3h0M185.4 55.0h0M227.9 110.6h0M80.3 216.5h0M212.0 81.2h0M175.1 82.6h0M202.2 59.8h0M220.2 95.9h0"/>
<path stroke="#3a58b8" stroke-width="2.40" d="M200.3 152.4h0M180.4 156.7h0M222.8 139.5h0M209.1 136.9h0M212.6 116.6h0M214.4 111.8h0M212.8 104.2h0M187.2 134.2h0M229.8 122.6h0M202.9 149.2h0M206.6 138.6h0M230.8 122.0h0M240.8 125.1h0M237.0 135.8h0M177.6 151.5h0M227.2 114.0h0M186.5 132.0h0M245.0 133.4h0M185.0 147.1h0M215.9 114.7h0M210.0 180.8h0M224.1 138.0h0M188.3 133.6h0M227.7 113.0h0M188.4 114.0h0M235.6 140.0h0M195.9 160.4h0M211.0 100.6h0M175.6 185.6h0M227.3 114.1h0M196.8 141.5h0M222.0 112.4h0M238.7 122.5h0M208.2 141.2h0M199.9 169.2h0M200.0 155.5h0M224.9 152.0h0M196.3 133.1h0M230.8 134.2h0M237.6 122.6h0"/>
<path stroke="#3a58b8" stroke-width="2.40" d="M162.8 159.3h0M236.8 119.6h0M220.5 140.8h0M222.7 150.7h0M239.3 144.6h0M224.6 133.1h0M218.7 116.5h0M174.1 154.2h0M235.1 127.9h0M218.8 121.7h0M226.1 101.6h0M218.0 150.8h0M221.3 120.7h0M244.2 141.8h0M230.0 126.3h0M231.9 114.7h0M236.9 120.5h0M151.4 146.2h0M215.4 113.1h0M228.2 124.5h0M199.2 99.4h0M228.4 130.2h0M232.2 179.1h0M207.6 168.1h0M222.3 129.6h0M206.0 138.3h0M157.7 128.6h0M200.7 113.8h0M231.3 157.6h0M225.8 107.3h0"/>
<path stroke="#f3a7a7" stroke-width="2.40" d="M160.0 93.6h0M128.2 119.3h0M184.1 145.1h0M177.3 122.5h0M155.7 128.4h0M192.8 120.5h0M154.5 97.9h0M183.1 144.4h0M172.9 53.9h0M78.1 214.1h0M224.0 177.1h0M217.3 161.6h0M53.6 244.7h0M182.1 108.9h0M194.0 144.6h0M69.0 229.2h0M152.1 82.0h0M210.8 143.6h0M197.5 138.9h0M201.0 133.2h0M207.4 181.8h0M204.9 107.2h0M222.9 134.9h0M198.0 80.5h0M262.3 174.3h0M211.5 132.5h0M128.0 137.8h0M58.8 247.0h0M192.2 171.7h0M212.6 146.1h0M126.8 143.8h0M211.2 153.6h0M52.6 259.7h0M227.5 160.9h0M180.7 81.4h0M172.0 119.8h0M182.7 83.5h0M221.7 109.2h0M206.6 182.1h0M48.2 255.0h0"/>
<path stroke="#5ef25e" stroke-width="2.40" d="M80.9 228.2h0M136.9 165.5h0M128.0 172.2h0M94.2 214.9h0M133.5 165.3h0M103.8 194.2h0M135.5 159.0h0M121.3 188.0h0M146.2 166.8h0M93.7 194.8h0M99.0 181.1h0M143.8 170.2h0M138.5 164.5h0M154.5 163.5h0M135.0 173.3h0M143.5 175.0h0M157.8 187.1h0M160.4 171.2h0M146.5 140.2h0M151.1 179.9h0M145.5 168.6h0M143.0 169.4h0M147.3 157.5h0M134.0 162.5h0M135.7 172.8h0M127.6 168.3h0M147.8 175.8h0M81.0 224.0h0M150.6 176.1h0M120.9 173.1h0M186.1 181.5h0M137.5 165.0h0M136.5 195.9h0M131.9 163.3h0M142.5 168.0h0M154.0 171.3h0M129.2 170.8h0M145.8 214.1h0M113.0 198.4h0M129.7 182.2h0"/>
<path stroke="#d63ad8" stroke-width="2.40" d="M215.5 106.3h0M221.9 92.5h0M211.9 82.4h0M206.1 72.2h0M194.1 89.5h0M238.2 124.3h0M200.8 78.4h0M219.2 95.1h0M211.4 85.4h0M50.7 251.4h0M204.2 86.4h0M230.1 106.1h0M218.5 101.7h0M205.4 77.5h0M219.7 90.0h0M222.0 92.6h0M87.4 193.4h0M214.8 87.5h0M198.9 80.5h0M201.6 61.2h0M200.0 82.9h0M226.4 100.4h0M206.6 81.8h0M203.9 85.4h0M211.2 97.4h0M207.6 77.6h0M211.1 83.0h0M234.3 113.7h0M110.9 142.6h0M194.3 54.7h0M217.9 88.3h0M188.1 63.3h0M212.6 90.5h0M152.6 108.0h0M214.9 104.7h0M228.7 103.9h0M217.8 100.3h0M217.4 103.9h0M206.5 72.9h0M202.2 61.0h0"/>
<path stroke="#3a58b8" stroke-width="2.40" d="M195.6 169.4h0M228.4 114.3h0M218.9 123.6h0M158.0 182.8h0M239.4 126.0h0M192.2 102.3h0M187.2 143.3h0M195.0 170.1h0M219.6 143.1h0M231.0 124.1h0M171.8 156.1h0M195.3 161.1h0M216.4 113.0h0M220.2 114.2h0M204.7 161.1h0M207.2 99.6h0M219.6 154.6h0M214.1 141.5h0M205.4 131.2h0M146.0 167.9h0M178.0 162.4h0M241.6 133.1h0M241.0 130.0h0M231.8 115.1h0M227.3 172.3h0M221.5 118.1h0M231.5 122.8h0M160.0 153.1h0M206.5 156.5h0M224.9 121.3h0M164.8 147.8h0M150.6 227.2h0M228.3 149.1h0M222.5 109.1h0M200.7 138.3h0M231.6 172.6h0M238.9 134.3h0M166.0 142.4h0M213.5 185.9h0M206.5 113.6h0"/>
<path stroke="#141414" stroke-width="2.40" d="M205.6 85.5h0M214.5 93.1h0M186.9 128.6h0M209.2 89.2h0M241.8 164.0h0M237.8 157.0h0M188.8 77.3h0M238.1 148.5h0M190.4 107.3h0M251.3 171.0h0M207.5 136.1h0M202.4 161.3h0M156.7 142.0h0M105.9 175.1h0M221.0 99.0h0M202.7 80.1h0M233.0 113.0h0M194.5 70.8h0M206.3 92.2h0M180.3 66.5h0M229.8 156.6h0M175.8 111.3h0M243.0 130.3h0M171.5 97.1h0M237.9 138.9h0M200.1 56.6h0M201.9 66.5h0M170.8 73.6h0M263.8 174.4h0M225.5 136.8h0M194.9 149.7h0M227.1 107.4h0M227.1 126.3h0M195.8 78.0h0M232.4 132.8h0M170.9 72.0h0M195.7 100.9h0M201.0 100.5h0M210.6 123.1h0M200.2 131.1h0"/>
<path stroke="#3a58b8" stroke-width="2.40" d="M188.8 120.5h0M236.4 130.3h0M238.3 131.4h0M207.2 132.0h0M220.3 131.3h0M184.6 159.8h0M208.3 107.0h0M232.4 131.1h0M216.5 135.5h0M179.0 152.8h0M221.2 112.5h0M232.5 120.7h0M196.3 144.5h0M220.1 168.0h0M233.6 116.7h0M175.0 195.6h0M203.2 149.0h0M212.3 143.4h0M217.7 139.5h0M194.6 167.4h0M224.0 173.4h0M188.6 127.8h0M233.3 125.3h0M204.2 159.6h0M218.1 116.3h0M226.4 127.3h0M187.5 150.7h0M232.8 122.4h0M212.9 145.4h0M241.6 138.4h0M217.9 113.5h0M223.2 122.6h0M209.5 110.8h0M234.1 128.6h0M171.9 159.6h0M207.0 112.5h0M194.5 133.5h0M217.9 169.5h0M195.9 154.4h0M230.2 131.9h0"/>
<path stroke="#b57b90" stroke-width="2.40" d="M207.0 110.2h0M168.5 115.4h0M180.0 83.2h0M180.4 85.6h0M283.6 213.4h0M158.2 63.6h0M159.4 63.0h0M183.6 70.2h0M157.2 74.4h0M220.1 94.5h0M186.2 70.9h0M196.1 104.2h0M183.9 119.1h0M160.5 64.6h0M198.4 60.7h0M63.9 227.3h0M66.4 245.7h0M180.9 114.1h0M215.1 92.7h0M189.6 62.9h0M191.2 103.4h0M193.7 62.1h0M218.5 132.9h0M210.5 142.2h0M216.2 111.5h0M166.5 55.1h0M182.1 66.6h0M187.8 50.3h0M172.0 48.4h0M180.7 55.2h0M208.5 77.6h0M175.2 57.1h0M229.1 134.8h0M196.6 119.4h0M169.7 73.6h0M194.2 71.7h0M161.0 73.0h0M184.9 66.4h0M84.6 200.4h0M184.0 47.4h0"/>
<path stroke="#141414" stroke-width="2.40" d="M190.6 94.9h0M187.9 76.0h0M217.6 116.4h0M222.4 150.3h0M189.0 99.8h0M173.8 117.5h0M204.2 116.7h0M122.0 123.4h0M206.8 101.8h0M176.5 75.3h0M224.5 110.8h0M172.5 34.4h0M199.1 107.1h0M209.4 83.6h0M155.7 93.3h0M162.8 155.3h0M192.8 110.4h0M155.6 68.3h0M171.0 92.5h0M204.2 87.5h0M182.4 76.4h0M85.6 190.6h0M234.3 124.2h0M203.8 69.5h0M217.9 87.1h0M226.2 108.0h0M190.4 48.7h0M123.9 153.2h0M159.3 63.0h0M224.3 102.4h0M204.7 126.6h0M214.1 110.2h0M204.2 98.0h0M178.1 102.0h0M165.5 103.6h0M247.5 144.9h0M214.9 138.9h0M182.1 68.1h0M203.9 109.6h0M176.1 30.4h0"/>
<path stroke="#141414" stroke-width="2.40" d="M167.9 60.9h0M182.2 62.5h0M229.1 124.2h0M216.7 103.6h0M203.8 109.9h0M243.3 151.8h0M198.7 103.3h0M171.0 117.3h0M132.0 124.6h0M241.3 140.6h0M228.1 103.0h0M222.1 130.8h0M206.0 94.7h0M174.2 75.2h0M240.3 161.2h0M198.1 87.6h0M210.8 84.3h0M80.5 209.1h0M88.7 207.3h0M178.7 87.6h0M197.7 75.1h0M190.2 105.1h0M221.3 118.9h0M197.7 94.9h0M174.7 56.7h0M229.3 120.4h0M180.0 84.4h0M180.7 131.6h0M192.1 74.4h0M198.3 87.9h0M168.5 109.6h0M66.6 222.4h0M206.8 84.9h0M101.1 192.8h0M213.1 135.4h0M252.7 173.7h0M170.8 80.9h0M211.7 124.2h0M212.6 185.8h0M204.3 81.8h0"/>
<path stroke="#3a58b8" stroke-width="2.40" d="M208.9 175.7h0M231.2 115.0h0M222.5 126.3h0M243.7 134.4h0M209.1 119.0h0M194.9 124.8h0M205.4 142.5h0M217.9 158.0h0M237.3 123.7h0M238.4 124.9h0M209.4 145.4h0M225.8 114.2h0M221.3 96.6h0M180.4 195.9h0M191.6 143.0h0M184.0 156.9h0M214.7 106.6h0M231.9 143.2h0M204.6 160.0h0M187.3 145.6h0M221.9 124.1h0M232.0 142.0h0M153.3 153.9h0M238.4 126.5h0M231.5 133.3h0M238.3 125.6h0M197.4 141.1h0M219.9 135.0h0M210.0 115.8h0M188.3 141.2h0M211.1 130.7h0M171.5 157.8h0M242.1 135.5h0M171.4 147.1h0M218.0 120.6h0M176.4 144.7h0M234.4 121.0h0M240.1 174.5h0M224.0 127.3h0M217.5 139.9h0"/>
<path stroke="#e2604c" stroke-width="2.40" d="M184.2 41.1h0M196.7 60.1h0M189.5 63.1h0M188.6 35.9h0M200.5 56.6h0M193.3 79.2h0M175.8 43.7h0M187.7 44.3h0M191.0 47.7h0M195.4 49.7h0M191.3 39.7h0M194.1 72.5h0M191.6 58.6h0M186.5 59.8h0M208.8 71.9h0M192.6 53.4h0M189.4 41.0h0M186.6 68.5h0M185.8 45.4h0M188.2 44.7h0M179.7 30.9h0M179.4 30.9h0M204.9 62.8h0M204.8 63.8h0M178.5 41.0h0M194.2 51.5h0M198.3 56.1h0M197.0 53.4h0M196.6 53.5h0M197.4 50.8h0"/>
<path stroke="#141414" stroke-width="2.40" d="M187.8 99.5h0M189.1 68.8h0M196.7 70.1h0M219.6 103.8h0M220.4 127.7h0M186.5 77.9h0M211.8 96.9h0M228.2 103.5h0M172.1 145.6h0M177.0 45.6h0M208.0 86.7h0M165.8 58.1h0M82.6 215.7h0M230.6 110.9h0M224.4 99.8h0M230.8 116.3h0M214.8 136.6h0M105.0 198.1h0M214.3 80.1h0M172.9 50.1h0M103.6 194.6h0M233.2 163.0h0M231.6 134.8h0M240.5 133.2h0M206.9 121.8h0M173.6 100.6h0M174.2 91.9h0M221.1 93.9h0M186.8 116.3h0M235.7 178.3h0M206.2 162.3h0M183.9 103.1h0M235.8 128.1h0M182.0 113.0h0M190.5 67.4h0M230.9 126.4h0M154.9 93.7h0M166.7 45.4h0M220.9 111.3h0M177.6 119.2h0"/>
<path stroke="#3a58b8" stroke-width="2.40" d="M225.5 118.0h0M217.8 151.5h0M204.5 154.7h0M204.3 114.6h0M242.0 142.8h0M222.3 112.9h0M218.8 137.3h0M199.4 146.7h0M197.4 152.6h0M226.0 113.2h0M229.7 132.4h0M199.9 164.6h0M208.2 158.5h0M172.4 133.1h0M171.7 149.7h0M195.1 175.2h0M193.4 106.1h0M233.0 112.7h0M216.2 145.4h0M173.8 120.7h0M201.3 150.6h0M198.3 133.7h0M241.2 129.1h0M234.8 119.4h0M226.5 109.3h0M246.5 134.8h0M217.8 90.7h0M170.3 157.9h0M230.1 118.7h0M199.3 142.4h0M189.1 143.9h0M241.0 125.0h0M168.0 124.8h0M174.9 144.6h0M229.4 131.5h0M206.8 167.7h0M212.7 119.3h0M193.9 105.2h0M186.4 131.0h0M239.8 126.7h0"/>
<path stroke="#3a58b8" stroke-width="2.40" d="M197.0 114.4h0M221.7 122.0h0M203.6 133.6h0M191.9 143.5h0M187.9 108.8h0M188.9 164.4h0M160.3 162.4h0M198.2 122.9h0M219.5 121.0h0M179.1 128.1h0M234.3 118.6h0M198.9 143.1h0M195.5 153.5h0M221.0 142.6h0M207.5 153.1h0M214.7 117.3h0M223.0 118.8h0M237.6 135.4h0M205.5 137.0h0M140.2 168.3h0M245.7 137.5h0M161.1 133.3h0M230.4 122.5h0M209.7 138.6h0M204.8 150.0h0M217.7 172.3h0M183.4 176.6h0M197.9 133.8h0M233.9 121.3h0M227.7 109.3h0M150.1 147.2h0M235.6 121.1h0M233.6 132.5h0M209.3 114.6h0M206.0 116.8h0M227.6 112.9h0M167.5 152.4h0M238.6 132.9h0M241.0 128.8h0M227.0 127.2h0"/>
<path stroke="#3a58b8" stroke-width="2.40" d="M233.5 180.7h0M221.9 117.1h0M179.1 157.1h0M223.9 124.2h0M250.2 148.9h0M197.6 137.3h0M217.8 116.8h0M233.9 125.7h0M157.8 168.7h0M207.7 144.1h0M230.8 125.9h0M233.4 130.6h0M199.6 119.2h0M221.7 103.4h0M155.3 145.8h0M242.2 136.2h0M214.6 97.3h0M199.0 186.2h0M215.3 135.9h0M243.6 129.8h0M198.5 144.5h0M230.5 128.2h0M218.9 107.7h0M179.6 161.1h0M217.7 125.7h0M226.2 122.6h0M165.8 159.6h0M213.6 129.7h0M198.4 172.8h0M202.0 163.9h0M169.2 144.4h0M212.5 106.9h0M244.5 136.9h0M197.4 125.2h0M144.1 187.1h0M220.0 114.9h0M129.9 181.7h0M170.5 153.0h0M219.6 136.2h0M214.0 125.5h0"/>
<path stroke="#8fb5d3" stroke-width="2.40" d="M169.7 116.7h0M58.7 242.3h0M60.2 229.0h0M47.9 251.2h0M172.0 108.0h0M234.4 168.7h0M56.5 238.9h0M63.8 227.0h0M63.3 235.9h0M193.3 113.6h0M172.6 142.0h0M55.3 255.9h0M50.0 261.7h0M43.6 259.0h0M151.7 123.4h0M242.4 171.8h0M86.4 208.9h0M49.0 258.7h0M61.0 252.0h0M192.9 140.1h0M42.0 261.1h0M50.7 257.6h0M65.5 242.5h0M49.3 254.6h0M164.4 69.8h0M50.5 254.0h0M61.8 239.6h0M49.7 247.8h0M76.8 204.1h0M186.8 113.7h0M49.6 255.9h0M211.5 147.1h0M50.9 246.6h0M63.4 239.4h0M55.1 257.6h0M50.5 254.1h0M224.6 114.2h0M55.8 255.7h0M63.3 239.5h0M51.0 267.0h0"/>
<path stroke="#141414" stroke-width="2.40" d="M143.1 148.5h0M207.5 90.4h0M190.4 95.2h0M155.2 70.8h0M236.7 152.1h0M61.3 239.0h0M98.6 228.0h0M218.3 100.1h0M238.7 207.5h0M196.7 98.9h0M220.4 104.3h0M212.0 107.9h0M187.0 136.7h0M211.7 108.2h0M202.6 129.2h0M216.2 93.0h0M227.9 171.7h0M217.1 101.8h0M187.6 130.7h0M193.6 71.7h0M213.0 124.8h0M165.8 97.0h0M194.0 85.9h0M153.8 147.3h0M193.9 69.1h0M222.3 110.2h0M194.2 81.6h0M232.5 148.2h0M231.7 121.6h0M264.1 172.3h0M139.1 119.9h0M246.4 135.2h0M192.1 117.6h0M207.3 79.6h0M224.6 135.9h0M238.1 131.0h0M163.8 123.8h0M188.2 129.2h0M176.2 56.8h0M171.3 86.4h0"/>
<path stroke="#8fb5d3" stroke-width="2.40" d="M143.0 100.6h0M180.8 92.4h0M48.8 251.8h0M56.0 240.5h0M211.5 98.3h0M204.5 141.6h0M206.6 159.0h0M215.7 105.1h0M64.9 234.0h0M53.8 239.9h0M61.6 247.2h0M58.0 240.2h0M47.7 257.8h0M221.5 114.3h0M157.9 126.2h0M59.5 241.4h0M146.2 84.3h0M159.5 122.8h0M67.0 232.8h0M187.8 86.1h0M51.0 265.5h0M52.6 264.6h0M258.6 208.8h0M50.7 252.3h0M67.0 230.8h0M234.1 199.1h0M185.0 131.5h0M197.4 95.1h0M203.6 148.9h0M188.9 122.1h0M53.2 251.8h0M235.8 135.9h0M46.1 260.4h0M155.9 102.3h0M44.1 259.0h0M67.0 239.6h0M49.5 255.8h0M50.3 254.0h0M229.3 146.9h0M59.6 246.8h0"/>
<path stroke="#8f2a18" stroke-width="2.40" d="M80.3 203.2h0M96.6 196.2h0M237.7 144.1h0M79.1 210.2h0M45.5 257.5h0M71.9 223.5h0M203.4 87.8h0M70.3 233.4h0M240.4 124.3h0M219.5 119.8h0M183.6 111.1h0M215.8 143.3h0M91.7 189.3h0M70.1 227.7h0M96.0 204.4h0M107.7 226.4h0M206.7 104.1h0M174.5 134.4h0M163.4 197.8h0M195.5 116.8h0M79.7 219.3h0M226.5 153.0h0M197.2 115.3h0M147.0 118.1h0M160.1 241.6h0M176.6 122.0h0M154.4 136.8h0M188.7 109.7h0M151.2 157.9h0M121.6 230.9h0M235.1 160.0h0M76.4 216.5h0M187.2 93.9h0M206.8 134.1h0M74.4 221.6h0M161.3 242.9h0M215.3 117.7h0M144.1 100.1h0M214.3 134.8h0M191.7 86.0h0"/>
<path stroke="#c9d842" stroke-width="2.40" d="M247.9 140.6h0M247.5 142.5h0M240.4 130.3h0M246.3 136.5h0M248.2 140.1h0M235.8 121.1h0M210.8 82.9h0M212.1 86.9h0M239.9 127.9h0M246.5 135.5h0"/>
<path stroke="#f3a7a7" stroke-width="2.40" d="M70.2 228.9h0M162.7 159.2h0M244.1 177.9h0M206.9 143.9h0M221.5 144.3h0M224.4 166.1h0M42.5 269.7h0M224.0 161.4h0M216.2 154.0h0M141.7 115.3h0M223.1 182.7h0M60.8 238.3h0M168.5 131.2h0M229.8 147.0h0M230.9 136.0h0M149.8 100.1h0M67.3 235.3h0M197.1 142.5h0M163.6 65.0h0M238.3 120.9h0M64.9 229.9h0M219.3 167.0h0M260.1 159.1h0M214.6 136.4h0M206.7 76.7h0M223.2 111.8h0M199.6 129.7h0M225.6 131.5h0M72.5 223.6h0M186.4 101.2h0M179.9 128.1h0M52.4 251.3h0M178.7 118.4h0M208.9 93.0h0M174.3 48.4h0M229.4 137.1h0M220.9 173.7h0M144.4 147.6h0M221.1 138.0h0M252.2 153.1h0"/>
<path stroke="#bcf55c" stroke-width="2.40" d="M201.6 75.7h0M235.0 119.2h0M196.2 71.5h0M211.8 100.7h0M168.2 104.4h0M215.3 92.9h0M220.3 103.3h0M215.3 96.9h0M204.8 81.7h0M193.1 55.0h0M230.9 112.0h0M190.5 69.1h0M214.2 111.8h0M203.8 88.5h0M210.8 87.7h0M199.7 70.9h0M207.3 68.5h0M209.1 85.2h0M221.8 94.8h0M195.6 124.4h0M195.5 70.8h0M213.2 93.1h0M220.9 93.0h0M186.7 88.1h0M183.0 68.6h0M204.6 87.7h0M213.3 98.5h0M201.5 72.7h0M201.2 150.7h0M196.1 116.3h0M215.9 100.7h0M169.3 111.5h0M138.0 108.0h0M218.9 101.4h0M220.9 95.8h0M207.7 146.6h0M200.5 55.4h0M205.8 106.0h0M207.0 72.6h0M193.1 54.6h0"/>
<path stroke="#f28232" stroke-width="2.40" d="M43.3 270.4h0M49.8 263.9h0M53.1 257.9h0M55.2 248.4h0M66.3 245.1h0M77.2 229.6h0M77.3 212.2h0M70.7 233.3h0M95.4 187.9h0M55.6 242.5h0M39.5 268.6h0M80.2 216.8h0M84.1 218.7h0M47.8 249.7h0M54.7 245.2h0M57.5 255.5h0M89.1 216.0h0M54.0 246.9h0M49.5 246.8h0M73.0 209.5h0M52.7 248.9h0M51.2 254.7h0M81.2 207.3h0M57.0 238.0h0M50.3 253.4h0M54.7 252.9h0M61.1 227.7h0M96.2 195.9h0M76.9 216.4h0M66.9 232.7h0M63.3 233.1h0M51.3 255.2h0M79.4 208.0h0M41.0 262.5h0M78.4 206.3h0M53.5 242.5h0M64.6 249.9h0M79.7 216.2h0M75.2 222.4h0M86.8 182.3h0"/>
<path stroke="#e2604c" stroke-width="2.50" d="M183.1 25.9h0M181.7 25.1h0M183.1 27.8h0M180.9 27.8h0M181.1 30.3h0M180.1 30.6h0M184.2 29.4h0M181.3 25.4h0M182.4 23.5h0M180.0 23.0h0M181.3 24.5h0M182.4 24.1h0M180.0 25.3h0M180.1 21.1h0M179.0 22.7h0M182.8 25.6h0M185.8 30.1h0M180.2 21.4h0M184.1 29.4h0M181.9 23.0h0M184.6 28.2h0M181.4 29.5h0M183.0 26.2h0M183.4 29.4h0M180.7 21.8h0M178.6 23.3h0M182.1 24.8h0M185.1 31.0h0M184.5 28.2h0M181.2 30.0h0M180.6 25.6h0M182.6 25.9h0M180.3 26.0h0M179.9 21.1h0M186.2 30.5h0M184.5 27.3h0M177.5 26.7h0M182.0 24.7h0M184.0 31.1h0M187.6 33.3h0"/>
<path stroke="#f28232" stroke-width="2.40" d="M76.0 212.9h0M50.7 246.6h0M58.3 250.8h0M44.8 266.2h0M64.8 221.3h0M64.9 237.5h0M41.4 270.3h0M36.7 270.0h0M60.9 241.9h0M80.7 219.8h0M86.8 216.6h0M40.2 269.2h0M37.0 269.4h0M47.8 263.4h0M90.9 191.0h0M71.9 217.0h0M61.0 236.1h0M87.6 191.0h0M57.6 253.2h0M54.1 239.0h0M59.3 252.8h0M46.9 262.7h0M54.0 245.8h0M55.5 253.8h0M75.7 225.6h0"/>
<path stroke="#5ef25e" stroke-width="2.40" d="M133.6 170.7h0M139.0 180.6h0M136.1 184.2h0M142.3 163.5h0M115.9 178.1h0M143.7 173.9h0M135.0 177.5h0M156.0 171.9h0M140.0 154.6h0M149.7 149.6h0M68.7 243.4h0M156.9 194.5h0M137.7 170.5h0M125.7 171.1h0M129.9 169.4h0M79.4 215.7h0M149.7 175.0h0M136.6 171.1h0M149.6 170.6h0M85.6 214.6h0M141.5 167.2h0M143.0 166.3h0M110.8 180.4h0M139.0 180.5h0M145.9 177.6h0M121.5 167.9h0M91.3 202.2h0M138.3 182.0h0M140.9 164.3h0M137.1 172.0h0M144.5 158.6h0M101.3 183.8h0M130.8 171.6h0M145.4 170.3h0M154.8 163.6h0M131.0 176.0h0M130.2 174.9h0M140.2 180.8h0M145.5 165.8h0M144.2 159.4h0"/>
<path stroke="#8f2a18" stroke-width="2.40" d="M75.0 234.5h0M229.3 142.0h0M79.0 212.1h0M86.2 200.5h0M217.5 126.8h0M72.1 240.7h0M146.3 243.9h0M120.9 232.4h0M139.9 167.8h0M88.6 240.5h0M69.0 233.8h0M78.1 225.2h0M254.9 196.7h0M121.8 196.5h0M173.6 89.2h0M69.7 216.5h0M78.3 197.9h0M189.9 111.4h0M101.7 196.0h0M234.6 120.9h0M258.0 177.0h0M277.5 205.1h0M187.4 137.6h0M251.0 213.9h0M161.3 76.4h0M176.3 151.4h0M59.6 234.3h0M180.0 96.4h0M116.2 200.8h0M114.4 205.7h0M79.2 201.4h0M167.7 171.7h0M234.7 158.9h0M87.0 210.0h0M207.6 153.5h0M60.4 230.5h0M90.4 207.4h0M205.6 184.6h0M188.1 73.7h0M159.5 130.2h0"/>
<path stroke="#f3a7a7" stroke-width="2.40" d="M186.8 178.6h0M214.9 144.1h0M178.9 134.1h0M202.0 129.5h0M194.3 88.5h0M168.1 127.3h0M173.5 84.9h0M192.4 146.3h0M193.8 142.9h0M229.8 125.2h0M54.7 253.2h0M67.3 231.3h0M193.4 127.6h0M66.1 223.3h0M203.4 102.8h0M206.3 141.0h0M198.7 178.2h0M187.9 159.1h0M63.0 235.3h0M229.6 146.7h0M219.4 115.5h0M196.5 74.3h0M173.9 141.2h0M174.6 80.0h0M234.4 162.1h0M183.1 100.2h0M230.2 111.0h0M162.8 146.0h0M271.7 227.4h0M219.5 133.8h0M181.7 122.5h0M146.5 156.8h0M212.4 133.6h0M203.2 92.8h0M129.3 156.3h0M144.9 100.3h0M63.6 237.7h0M169.5 82.1h0M241.2 179.6h0M196.3 121.5h0"/>
<path stroke="#d63ad8" stroke-width="2.40" d="M201.3 80.8h0M221.9 101.6h0M215.2 95.1h0M222.0 93.8h0M204.5 64.4h0M208.4 74.5h0M214.0 88.4h0M220.8 90.3h0M203.5 91.0h0M207.5 67.2h0M220.3 100.0h0M209.1 96.1h0M204.4 65.3h0M207.5 81.4h0M227.0 104.8h0M210.7 79.7h0M225.2 114.9h0M210.3 77.5h0M205.9 72.1h0M205.5 76.5h0M92.1 193.5h0M197.0 51.8h0M226.7 145.6h0M229.5 105.6h0M200.6 68.4h0M216.9 83.9h0M204.3 79.6h0M180.7 148.2h0M201.7 77.6h0M207.1 71.8h0M216.6 84.7h0M73.8 214.0h0M218.0 92.5h0M211.8 101.0h0M213.9 84.5h0M213.9 98.2h0M215.0 84.8h0M207.6 80.9h0M218.2 90.1h0M214.0 99.0h0"/>
<path stroke="#957d66" stroke-width="2.40" d="M66.1 227.2h0M177.3 107.8h0M209.3 120.4h0M57.4 252.3h0M131.1 145.5h0M188.4 81.2h0M221.8 122.8h0M118.3 159.3h0M179.6 70.8h0M186.9 65.9h0M200.9 113.3h0M62.9 238.3h0M77.4 224.0h0M67.4 243.4h0M93.3 225.3h0M90.3 201.8h0M183.2 109.1h0M174.7 89.5h0M210.7 123.4h0M124.6 144.0h0M99.0 181.2h0M92.1 178.2h0M100.8 204.4h0M89.0 219.1h0M90.4 212.2h0M148.6 115.6h0M96.3 187.1h0M95.1 195.0h0M201.1 78.2h0M172.3 61.1h0M206.2 138.0h0M188.3 55.5h0M160.2 58.0h0M50.1 257.9h0M165.1 46.6h0M65.0 233.7h0M93.0 205.5h0M94.8 188.2h0M123.9 130.3h0M69.5 237.6h0"/>
<path stroke="#141414" stroke-width="2.40" d="M202.8 61.9h0M267.3 180.5h0M208.8 91.2h0M245.0 132.3h0M211.6 98.9h0M223.4 103.2h0M197.1 84.0h0M205.8 96.3h0M219.3 89.6h0M229.8 134.9h0M218.2 87.4h0M191.2 76.7h0M233.3 152.3h0M259.2 172.9h0M206.4 82.4h0M236.0 123.9h0M229.9 114.3h0M223.4 145.2h0M139.2 129.6h0M217.0 98.6h0M200.0 77.0h0M92.4 198.3h0M223.5 98.1h0M195.6 73.5h0M239.5 136.3h0M113.4 182.8h0M223.7 117.7h0M212.6 105.7h0M197.3 123.3h0M231.6 108.9h0M151.7 83.3h0M185.9 87.2h0M226.1 130.1h0M204.7 105.7h0M196.5 81.7h0M120.9 170.6h0M228.5 128.8h0M215.7 98.0h0M172.8 137.9h0M178.9 74.1h0"/>
<path stroke="#5ef25e" stroke-width="2.40" d="M132.5 176.4h0M122.0 210.7h0M95.9 192.8h0M84.5 205.0h0M146.8 162.6h0M143.9 167.5h0M125.5 170.8h0M147.5 134.2h0M141.9 178.0h0M130.5 183.1h0M141.4 139.0h0M132.2 155.1h0M145.7 168.8h0M134.1 171.7h0M104.8 189.4h0M138.6 159.7h0M124.0 174.6h0M137.1 165.4h0M105.9 179.0h0M137.2 166.9h0M143.9 155.4h0M155.9 151.8h0M87.5 215.4h0M106.2 195.5h0M142.9 149.1h0M135.4 178.2h0M144.6 153.9h0M194.9 181.4h0M115.6 195.7h0M123.5 205.1h0M141.4 165.4h0M137.6 173.2h0M167.4 95.2h0M136.1 160.5h0M141.9 163.4h0M130.4 177.3h0M131.3 181.0h0M141.7 161.2h0M173.2 104.2h0M100.4 200.3h0"/>
<path stroke="#3a58b8" stroke-width="2.40" d="M163.9 166.7h0M227.3 170.1h0M226.2 121.6h0M232.0 122.4h0M190.5 143.6h0M169.7 145.0h0M179.0 132.1h0M178.6 101.4h0M223.4 131.2h0M163.2 150.2h0M230.5 113.3h0M220.4 131.8h0M240.9 125.3h0M216.2 141.7h0M226.7 139.3h0M194.4 133.7h0M238.7 124.3h0M230.6 133.4h0M186.8 148.5h0M219.0 92.1h0M194.2 163.5h0M218.2 134.0h0M190.5 139.2h0M238.7 121.4h0M228.6 126.5h0M196.9 155.9h0M194.4 148.2h0M223.4 132.5h0M203.4 125.9h0M228.8 134.0h0M228.3 120.5h0M201.3 137.1h0M222.5 107.8h0M220.8 130.4h0M228.5 124.1h0M237.1 123.2h0M230.3 116.8h0M205.3 146.7h0M230.0 115.3h0M202.3 133.7h0"/>
<path stroke="#b57b90" stroke-width="2.40" d="M178.8 45.5h0M198.8 83.0h0M170.6 82.6h0M173.2 80.8h0M229.9 163.0h0M167.9 67.1h0M174.8 59.8h0M209.3 119.5h0M175.0 162.6h0M158.1 63.7h0M199.5 66.2h0M226.1 133.0h0M182.1 103.9h0M233.7 154.4h0M187.1 70.6h0M166.4 73.7h0M174.2 42.4h0M70.5 229.4h0M55.3 253.9h0M165.2 67.1h0M173.3 70.2h0M186.6 72.4h0M171.9 85.7h0M209.8 111.7h0M168.2 77.8h0M168.6 73.2h0M64.6 244.1h0M170.0 47.0h0M212.7 105.2h0M213.3 82.3h0M60.9 250.5h0M173.7 72.7h0M188.4 58.5h0M208.2 134.3h0M192.8 65.0h0M218.3 135.0h0M204.4 102.8h0M161.8 61.0h0M206.6 105.7h0M178.5 59.2h0"/>
<path stroke="#6af0f0" stroke-width="2.40" d="M251.5 146.3h0M159.4 97.1h0M174.4 56.0h0M232.3 110.3h0M147.3 86.7h0M183.3 51.9h0M196.5 52.9h0M169.8 48.2h0M169.8 52.8h0M169.5 68.1h0M179.0 59.8h0M177.7 44.3h0M183.7 30.8h0M226.9 108.7h0M199.0 75.0h0M185.9 35.4h0M226.1 119.1h0M180.1 49.6h0M74.1 207.7h0M201.5 75.1h0M132.3 111.1h0M175.8 63.3h0M146.8 79.1h0M201.1 59.1h0M192.2 117.1h0M209.6 79.4h0M171.2 72.6h0M200.5 67.8h0M162.8 120.3h0M200.7 66.8h0M154.9 94.7h0M180.3 56.2h0M188.7 62.5h0M178.5 57.3h0M183.2 48.9h0M168.9 60.0h0M163.9 58.9h0M203.3 61.3h0M222.3 94.0h0M195.7 71.6h0"/>
<path stroke="#3a58b8" stroke-width="2.40" d="M192.3 141.6h0M134.6 149.2h0M227.8 105.8h0M219.9 131.2h0M187.9 111.7h0M209.2 157.4h0M237.4 129.5h0M232.6 180.1h0M236.0 123.4h0M226.9 122.3h0M174.5 151.1h0M222.9 148.8h0M247.5 139.7h0M231.7 125.8h0M233.9 129.5h0M207.6 138.3h0M233.8 125.1h0M161.7 157.0h0M236.7 124.9h0M225.7 113.7h0M210.5 113.2h0M239.3 136.6h0M192.6 184.8h0M174.9 158.8h0M246.4 141.5h0M241.6 138.9h0M198.3 183.4h0M200.9 157.3h0M230.6 135.5h0M226.8 126.6h0M236.3 157.8h0M183.3 137.1h0M199.9 141.2h0M211.7 133.7h0M232.0 147.7h0M208.3 117.2h0M230.1 120.1h0M161.8 153.8h0M233.3 129.1h0M168.3 195.5h0"/>
<path stroke="#ee3c1e" stroke-width="2.40" d="M124.0 234.1h0M82.2 207.9h0M103.2 212.8h0M202.6 160.3h0M104.0 199.7h0M66.1 247.4h0M85.2 207.6h0M105.2 192.4h0M100.1 192.3h0M86.5 194.6h0M86.8 216.8h0M169.8 249.0h0M98.7 202.0h0M135.7 245.5h0M95.9 196.7h0M72.8 208.1h0M107.0 210.7h0M81.2 205.8h0M121.6 176.7h0M77.0 206.9h0M85.0 209.5h0M101.5 260.5h0M98.0 203.5h0M86.2 193.9h0M87.3 205.7h0M86.5 212.8h0M108.2 186.9h0M73.7 213.5h0M109.7 220.6h0M110.0 190.2h0M107.8 177.2h0M65.7 223.9h0M78.4 204.9h0M117.8 184.4h0M87.8 210.1h0M111.5 206.8h0M81.9 255.4h0M82.9 203.9h0M86.7 197.8h0M91.7 196.3h0"/>
<path stroke="#e2604c" stroke-width="2.50" d="M182.3 23.8h0M181.0 23.1h0M181.2 30.2h0M181.7 24.9h0M179.9 26.7h0M180.0 23.9h0M181.4 23.6h0M180.3 21.0h0M182.2 29.1h0M183.8 31.7h0M182.9 25.4h0M180.6 21.5h0M185.7 33.8h0M183.1 25.8h0M180.7 23.1h0M182.9 31.4h0M182.6 33.2h0M180.6 21.0h0M181.2 21.5h0M181.0 25.6h0M181.4 25.2h0M180.9 22.2h0M182.9 29.7h0M179.9 22.2h0M180.8 28.4h0M180.5 22.1h0M177.4 24.9h0M183.8 30.7h0M178.9 24.1h0M181.6 27.3h0M180.5 24.1h0M179.9 21.0h0M185.3 33.5h0M180.1 24.4h0M180.4 20.5h0M179.4 23.6h0M182.1 25.9h0M185.5 31.1h0M180.1 20.3h0M180.8 24.7h0"/>
<path stroke="#5ef25e" stroke-width="2.40" d="M139.6 182.3h0M127.4 173.1h0M130.0 165.3h0M126.6 170.6h0M115.9 175.0h0M149.5 185.3h0M139.8 173.3h0M134.3 163.5h0M93.2 180.7h0M141.7 155.9h0M150.9 149.3h0M134.8 166.0h0M133.0 173.6h0M143.5 149.6h0M151.1 157.7h0M129.5 155.1h0M162.6 179.0h0M94.3 199.9h0M141.2 157.4h0M133.9 185.3h0M162.6 135.7h0M160.5 104.4h0M133.1 140.2h0M96.9 189.2h0M152.0 172.4h0M157.3 175.1h0M136.8 137.2h0M90.1 187.4h0M135.4 155.6h0M144.9 166.7h0M85.0 190.1h0M139.1 171.1h0M140.9 159.7h0M138.4 175.9h0M168.6 177.3h0M203.7 96.4h0M143.1 175.0h0M130.0 169.1h0M131.4 178.1h0M74.7 214.0h0"/>
<path stroke="#957d66" stroke-width="2.40" d="M226.6 123.7h0M224.2 163.1h0M135.5 109.1h0M231.8 123.8h0M98.2 180.7h0M210.4 107.0h0M152.7 67.9h0M164.6 121.5h0M204.9 101.5h0M64.7 232.4h0M192.6 121.5h0M184.4 54.5h0M170.9 108.2h0M228.4 119.9h0M191.4 111.6h0M146.9 152.4h0M148.4 83.1h0M210.4 108.9h0M242.2 161.6h0M98.3 201.0h0M80.0 196.7h0M215.1 88.5h0M218.8 106.1h0M53.1 243.6h0M198.6 58.8h0M170.3 43.1h0M72.2 219.9h0M177.6 84.2h0M171.2 95.5h0M175.9 118.8h0M184.9 105.2h0M190.0 72.2h0M218.5 141.1h0M69.9 216.7h0M160.9 132.0h0M74.6 228.5h0M60.0 246.0h0M196.0 124.0h0M156.9 134.3h0M185.1 117.7h0"/>
<path stroke="#8fb5d3" stroke-width="2.40" d="M163.1 89.6h0M65.7 229.6h0M65.9 234.6h0M224.2 106.5h0M55.6 243.1h0M52.3 264.4h0M43.3 266.5h0M180.0 99.6h0M202.0 116.5h0M252.6 155.7h0"/>
<path stroke="#3a58b8" stroke-width="2.40" d="M204.9 181.0h0M248.9 141.6h0M236.3 133.3h0M226.5 137.0h0M238.9 122.1h0M186.9 118.7h0M190.0 168.4h0M246.7 147.9h0M232.7 128.4h0M210.1 130.1h0M224.1 134.1h0M212.9 167.8h0M212.8 146.7h0M169.3 153.4h0M215.7 112.6h0M131.7 207.1h0M234.6 124.6h0M220.2 122.3h0M217.1 117.5h0M175.7 154.4h0M235.8 149.0h0M208.7 193.4h0M205.6 157.9h0M229.5 121.9h0M192.1 101.0h0M210.5 130.4h0M226.5 127.1h0M190.5 171.0h0M199.7 130.6h0M242.2 133.3h0M221.0 108.5h0M241.1 133.6h0M209.3 172.3h0M201.7 145.8h0M228.7 169.2h0M218.6 108.3h0M184.3 137.1h0M218.6 108.6h0M150.4 149.4h0M234.7 136.8h0"/>
<path stroke="#d63ad8" stroke-width="2.40" d="M167.4 152.4h0M207.0 81.6h0M208.6 84.3h0M220.0 91.2h0M207.6 76.8h0M210.6 75.5h0M209.5 74.1h0M139.7 126.8h0M233.3 115.1h0M61.0 236.1h0M47.8 259.9h0M59.7 242.5h0M226.5 103.8h0M214.4 81.4h0M228.8 118.1h0M210.8 88.9h0M210.4 95.5h0M216.9 102.8h0M199.9 75.3h0M201.6 78.5h0M216.9 91.2h0M215.8 90.8h0M108.3 188.0h0M45.1 266.7h0M195.5 64.6h0M213.1 80.5h0M187.2 122.4h0M216.2 93.5h0M203.1 130.8h0M225.5 109.2h0M225.9 102.9h0M212.9 82.8h0M199.4 81.3h0M231.1 108.0h0M217.1 104.8h0M145.1 106.4h0M92.5 213.0h0M147.3 113.5h0M218.6 90.1h0M234.2 116.1h0"/>
<path stroke="#4b2b83" stroke-width="2.40" d="M86.1 205.6h0M83.0 216.6h0M92.1 205.8h0M80.4 215.9h0M90.5 208.7h0M77.0 215.1h0M80.9 211.3h0M81.8 208.5h0M84.7 215.2h0M82.8 213.1h0M84.3 210.7h0M80.9 208.2h0M79.4 212.4h0M84.5 209.3h0M77.5 217.1h0M75.8 219.5h0M80.6 209.7h0M90.9 207.2h0M84.7 216.2h0M75.1 216.2h0M79.6 209.6h0M80.5 210.7h0M79.4 210.3h0M82.8 211.7h0M76.9 217.2h0M88.1 212.6h0M86.7 208.1h0M84.0 212.4h0M82.4 210.6h0M84.3 213.6h0M84.0 213.5h0M75.7 220.3h0M89.4 208.8h0M77.1 214.4h0M82.4 214.8h0M83.6 209.4h0M86.9 208.4h0M87.2 207.6h0M79.5 215.4h0M87.5 209.1h0"/>
<path stroke="#4b2b83" stroke-width="2.40" d="M76.2 215.5h0M78.7 214.9h0M84.5 212.7h0M85.4 209.6h0M87.9 210.3h0M89.6 212.9h0M84.5 214.1h0M85.7 209.4h0M81.2 211.4h0M75.2 216.7h0M84.1 213.8h0M88.1 211.9h0M80.0 213.6h0M89.3 207.6h0M82.6 212.4h0M89.2 205.2h0M81.3 216.3h0M86.1 214.1h0M89.2 215.6h0M85.9 213.3h0M76.3 215.0h0M81.8 213.4h0M79.7 213.4h0M82.7 210.2h0M83.6 204.7h0M85.3 205.1h0M85.0 211.7h0M85.3 210.7h0M83.3 209.8h0M82.8 213.3h0M87.9 207.8h0M85.3 205.6h0M79.7 213.7h0M77.9 217.9h0M83.6 210.6h0M84.0 212.7h0M86.8 206.4h0M80.5 213.8h0M82.5 211.7h0M75.3 219.5h0"/>
<path stroke="#4b2b83" stroke-width="2.40" d="M80.6 213.7h0M82.1 212.8h0M89.3 213.3h0M88.7 207.4h0M75.2 215.3h0M82.4 208.3h0M82.6 212.4h0M84.9 212.7h0M82.0 213.7h0M84.6 209.3h0M82.5 209.9h0M88.8 208.9h0M75.4 218.4h0M83.0 218.5h0M87.7 211.6h0M78.3 213.2h0M77.0 216.7h0M80.4 208.0h0M82.5 210.1h0M88.0 205.9h0M78.6 218.2h0M85.4 212.8h0M84.7 217.0h0M76.8 209.7h0M85.8 209.2h0M80.8 212.9h0M77.7 212.7h0M85.1 216.5h0M81.2 206.3h0M80.2 212.9h0M77.5 216.5h0M80.7 212.2h0M79.9 215.6h0M84.3 208.2h0M87.1 211.9h0M85.2 211.9h0M90.0 208.3h0M77.7 217.7h0M81.8 208.0h0M81.8 215.7h0"/>
<path stroke="#4b2b83" stroke-width="2.40" d="M77.1 215.8h0M89.7 211.7h0M75.9 215.9h0M89.2 211.3h0M87.1 213.9h0M77.6 214.3h0M90.4 208.8h0M84.2 208.1h0M87.3 211.8h0M82.9 211.0h0M81.3 212.7h0M84.6 211.3h0M79.7 210.2h0M76.0 215.5h0M75.7 214.3h0M87.3 208.5h0M79.0 218.6h0M81.0 208.1h0M81.8 215.7h0M81.0 212.9h0M82.0 213.7h0M84.7 212.6h0M84.6 211.3h0M81.3 217.1h0M83.3 214.1h0M88.3 206.3h0M77.9 212.2h0M80.1 214.2h0M89.6 212.0h0M72.5 215.5h0M80.4 216.2h0M82.4 212.1h0M83.2 214.2h0M81.6 215.9h0M82.5 212.9h0M81.7 213.6h0M87.8 210.5h0M83.6 214.5h0M78.5 214.9h0M81.6 209.3h0"/>
<path stroke="#4b2b83" stroke-width="2.40" d="M86.5 208.4h0M78.6 216.2h0M83.4 211.4h0M80.8 212.0h0M87.2 205.4h0M89.6 207.5h0M84.3 213.4h0M76.3 218.3h0M78.5 209.4h0M86.6 211.6h0M84.9 213.4h0M90.0 208.5h0M87.4 209.3h0M91.2 211.7h0M85.1 216.0h0M81.3 208.6h0M86.4 213.7h0M79.5 214.7h0M80.2 210.8h0M85.3 207.2h0M82.9 217.1h0M83.9 212.8h0M83.8 213.1h0M81.6 213.4h0M78.1 212.3h0M86.2 209.7h0M79.9 208.1h0M79.7 214.1h0M81.4 210.8h0M78.1 215.9h0M77.0 215.7h0M79.8 211.7h0M79.2 212.2h0M85.1 207.0h0M78.6 214.4h0M81.2 213.7h0M84.5 209.4h0M88.1 209.0h0M80.7 214.4h0M85.3 213.5h0"/>
<path stroke="#4b2b83" stroke-width="2.40" d="M79.8 214.6h0M92.2 208.9h0M90.8 207.7h0M95.4 204.1h0M86.8 213.9h0M78.8 211.4h0M78.5 221.7h0M86.4 213.4h0M72.8 214.9h0M76.5 212.3h0M85.2 207.8h0M84.2 211.4h0M88.0 208.1h0M77.0 219.9h0M84.2 213.7h0M86.0 215.7h0M81.0 211.7h0M84.5 207.6h0M77.9 215.0h0M86.0 211.5h0M87.0 214.2h0M80.0 213.9h0M86.8 209.7h0M73.7 215.8h0M88.3 208.9h0M87.5 204.6h0M87.6 215.2h0M81.2 205.5h0M78.9 214.4h0M80.6 215.5h0M86.8 211.4h0M80.1 215.7h0M86.8 214.0h0M85.7 212.0h0M85.2 209.9h0M87.0 212.5h0M77.3 209.9h0M76.3 212.6h0M82.7 214.9h0M87.5 211.0h0"/>
<path stroke="#4b2b83" stroke-width="2.40" d="M76.0 210.3h0M87.3 205.4h0M85.9 207.0h0M84.1 215.5h0M77.3 214.0h0M89.3 212.2h0M77.9 211.0h0M87.4 209.4h0M81.3 213.2h0M82.7 211.5h0M79.9 217.8h0M78.6 206.1h0M83.6 212.2h0M86.1 211.7h0M86.6 208.1h0M79.6 212.5h0M89.8 208.8h0M81.2 205.9h0M81.8 208.0h0M87.4 211.6h0M87.4 214.6h0M81.1 213.3h0M81.8 213.6h0M87.3 208.7h0M85.8 213.0h0M78.9 211.6h0M86.5 211.6h0M77.6 213.1h0M80.3 212.5h0M86.6 208.1h0M77.9 214.6h0M85.6 214.2h0M79.1 210.0h0M87.3 209.5h0M87.4 206.9h0M85.5 212.8h0M78.1 211.3h0M75.2 221.7h0M88.0 209.2h0M87.1 214.0h0"/>
<path stroke="#4b2b83" stroke-width="2.40" d="M78.8 215.4h0M79.8 215.5h0M77.2 213.5h0M80.9 213.7h0M86.6 210.3h0M84.2 212.6h0M79.1 208.7h0M85.1 212.2h0M79.1 218.2h0M82.7 211.9h0M88.1 212.6h0M86.8 207.1h0M88.6 207.2h0M75.2 215.3h0M84.0 209.6h0M83.6 212.0h0M86.5 209.4h0M89.5 212.3h0M79.7 214.7h0M80.0 214.0h0M85.3 207.6h0M89.2 211.6h0M81.2 213.2h0M91.1 209.2h0M79.5 211.5h0M88.4 209.5h0M78.2 214.6h0M82.5 213.4h0M79.3 212.1h0M83.6 216.7h0M90.5 204.2h0M79.9 214.9h0M73.3 217.5h0M78.8 214.6h0M85.7 213.2h0M86.4 210.0h0M78.6 211.2h0M88.4 207.5h0M80.8 210.2h0M79.3 213.4h0"/></g>
<path d="M180.25 18.60L34.50 271.20L326.20 271.20Z" fill="none" stroke="#3a3a3a" stroke-width="1.2" stroke-linejoin="miter"/>
<g><line x1="180.25" y1="18.60" x2="177.25" y2="18.60" stroke="#3a3a3a" stroke-width="0.80"/><line x1="180.25" y1="18.60" x2="181.75" y2="16.00" stroke="#3a3a3a" stroke-width="0.80"/><line x1="34.50" y1="271.20" x2="36.00" y2="273.80" stroke="#3a3a3a" stroke-width="0.80"/><line x1="165.68" y1="43.86" x2="162.68" y2="43.86" stroke="#3a3a3a" stroke-width="0.80"/><line x1="194.84" y1="43.86" x2="196.34" y2="41.26" stroke="#3a3a3a" stroke-width="0.80"/><line x1="63.67" y1="271.20" x2="65.17" y2="273.80" stroke="#3a3a3a" stroke-width="0.80"/><line x1="151.10" y1="69.12" x2="148.10" y2="69.12" stroke="#3a3a3a" stroke-width="0.80"/><line x1="209.44" y1="69.12" x2="210.94" y2="66.52" stroke="#3a3a3a" stroke-width="0.80"/><line x1="92.84" y1="271.20" x2="94.34" y2="273.80" stroke="#3a3a3a" stroke-width="0.80"/><line x1="136.53" y1="94.38" x2="133.53" y2="94.38" stroke="#3a3a3a" stroke-width="0.80"/><line x1="224.03" y1="94.38" x2="225.53" y2="91.78" stroke="#3a3a3a" stroke-width="0.80"/><line x1="122.01" y1="271.20" x2="123.51" y2="273.80" stroke="#3a3a3a" stroke-width="0.80"/><line x1="121.95" y1="119.64" x2="118.95" y2="119.64" stroke="#3a3a3a" stroke-width="0.80"/><line x1="238.63" y1="119.64" x2="240.13" y2="117.04" stroke="#3a3a3a" stroke-width="0.80"/><line x1="151.18" y1="271.20" x2="152.68" y2="273.80" stroke="#3a3a3a" stroke-width="0.80"/><line x1="107.38" y1="144.90" x2="104.38" y2="144.90" stroke="#3a3a3a" stroke-width="0.80"/><line x1="253.22" y1="144.90" x2="254.72" y2="142.30" stroke="#3a3a3a" stroke-width="0.80"/><line x1="180.35" y1="271.20" x2="181.85" y2="273.80" stroke="#3a3a3a" stroke-width="0.80"/><line x1="92.80" y1="170.16" x2="89.80" y2="170.16" stroke="#3a3a3a" stroke-width="0.80"/><line x1="267.82" y1="170.16" x2="269.32" y2="167.56" stroke="#3a3a3a" stroke-width="0.80"/><line x1="209.52" y1="271.20" x2="211.02" y2="273.80" stroke="#3a3a3a" stroke-width="0.80"/><line x1="78.23" y1="195.42" x2="75.23" y2="195.42" stroke="#3a3a3a" stroke-width="0.80"/><line x1="282.41" y1="195.42" x2="283.91" y2="192.82" stroke="#3a3a3a" stroke-width="0.80"/><line x1="238.69" y1="271.20" x2="240.19" y2="273.80" stroke="#3a3a3a" stroke-width="0.80"/><line x1="63.65" y1="220.68" x2="60.65" y2="220.68" stroke="#3a3a3a" stroke-width="0.80"/><line x1="297.01" y1="220.68" x2="298.51" y2="218.08" stroke="#3a3a3a" stroke-width="0.80"/><line x1="267.86" y1="271.20" x2="269.36" y2="273.80" stroke="#3a3a3a" stroke-width="0.80"/><line x1="49.07" y1="245.94" x2="46.07" y2="245.94" stroke="#3a3a3a" stroke-width="0.80"/><line x1="311.61" y1="245.94" x2="313.11" y2="243.34" stroke="#3a3a3a" stroke-width="0.80"/><line x1="297.03" y1="271.20" x2="298.53" y2="273.80" stroke="#3a3a3a" stroke-width="0.80"/><line x1="34.50" y1="271.20" x2="31.50" y2="271.20" stroke="#3a3a3a" stroke-width="0.80"/><line x1="326.20" y1="271.20" x2="327.70" y2="268.60" stroke="#3a3a3a" stroke-width="0.80"/><line x1="326.20" y1="271.20" x2="327.70" y2="273.80" stroke="#3a3a3a" stroke-width="0.80"/></g>
<g font-size="7" fill="#222"><text x="176.85" y="20.80" text-anchor="end">0</text><text x="182.95" y="18.00">100</text><text x="35.10" y="283.50" text-anchor="middle">0</text><text x="160.68" y="46.06" text-anchor="end">10</text><text x="197.54" y="43.26">90</text><text x="64.27" y="283.50" text-anchor="middle">10</text><text x="146.10" y="71.32" text-anchor="end">20</text><text x="212.14" y="68.52">80</text><text x="93.44" y="283.50" text-anchor="middle">20</text><text x="131.53" y="96.58" text-anchor="end">30</text><text x="226.73" y="93.78">70</text><text x="122.61" y="283.50" text-anchor="middle">30</text><text x="116.95" y="121.84" text-anchor="end">40</text><text x="241.33" y="119.04">60</text><text x="151.78" y="283.50" text-anchor="middle">40</text><text x="102.38" y="147.10" text-anchor="end">50</text><text x="255.92" y="144.30">50</text><text x="180.95" y="283.50" text-anchor="middle">50</text><text x="87.80" y="172.36" text-anchor="end">60</text><text x="270.52" y="169.56">40</text><text x="210.12" y="283.50" text-anchor="middle">60</text><text x="73.23" y="197.62" text-anchor="end">70</text><text x="285.11" y="194.82">30</text><text x="239.29" y="283.50" text-anchor="middle">70</text><text x="58.65" y="222.88" text-anchor="end">80</text><text x="299.71" y="220.08">20</text><text x="268.46" y="283.50" text-anchor="middle">80</text><text x="44.07" y="248.14" text-anchor="end">90</text><text x="314.31" y="245.34">10</text><text x="297.63" y="283.50" text-anchor="middle">90</text><text x="29.50" y="273.40" text-anchor="end">100</text><text x="328.90" y="270.60">0</text><text x="326.80" y="283.50" text-anchor="middle">100</text></g>
<text x="170.6" y="7.6" font-size="9.2" fill="#222">SiO<tspan font-size="6.4" dy="2">2</tspan></text>
<text x="12.4" y="290.8" font-size="9.1" fill="#222">CaO</text>
<text x="327" y="290.4" font-size="9.1" fill="#222">Al<tspan font-size="6.4" dy="2">2</tspan><tspan dy="-2">O</tspan><tspan font-size="6.4" dy="2">3</tspan></text>
<g font-weight="bold"><text x="170.1" y="28.8" font-size="8.60" text-anchor="end" fill="#e2604c">Silica fume</text><text x="164.6" y="37.2" font-size="7.45" text-anchor="end" fill="#e2604c">(585/496)</text><text x="156.0" y="53.7" text-anchor="end" fill="#b57b90"><tspan font-size="8.6">Biomass ashes</tspan><tspan font-size="7.5" dx="1.5">(431/161)</tspan></text><text x="151.2" y="62.2" text-anchor="end" fill="#5ef2f2"><tspan font-size="8.6">Glasses</tspan><tspan font-size="7.5" dx="1.5">(317/142)</tspan></text><text x="141.7" y="79.0" font-size="8.60" text-anchor="end" fill="#8fb5d3">Other byproduct/wastes</text><text x="136.8" y="86.9" font-size="7.45" text-anchor="end" fill="#8fb5d3">(421/256)</text><text x="127.7" y="103.9" font-size="8.60" text-anchor="end" fill="#957d66">C&amp;D wastes</text><text x="122.1" y="112.4" font-size="7.45" text-anchor="end" fill="#957d66">(426/192)</text><text x="112.7" y="130.0" font-size="8.60" text-anchor="end" fill="#f3a7a7">Other minerals</text><text x="107.1" y="138.0" font-size="7.45" text-anchor="end" fill="#f3a7a7">(904/535)</text><text x="97.4" y="153.8" font-size="8.60" text-anchor="end" fill="#5ef25e">Slags</text><text x="94.3" y="162.3" font-size="7.45" text-anchor="end" fill="#5ef25e">(1346/919)</text><text x="83.3" y="179.9" font-size="8.60" text-anchor="end" fill="#4b2b82">Clinkers</text><text x="78.6" y="188.0" font-size="7.45" text-anchor="end" fill="#4b2b82">(492/237)</text><text x="68.9" y="205.2" font-size="8.60" text-anchor="end" fill="#ee3c1e">Cements</text><text x="64.7" y="213.4" font-size="7.45" text-anchor="end" fill="#ee3c1e">(3436/2576)</text><text x="54.5" y="229.0" font-size="8.60" text-anchor="end" fill="#f28232">Lime species</text><text x="49.4" y="237.5" font-size="7.45" text-anchor="end" fill="#f28232">(506/366)</text><text x="202.6" y="51.7" text-anchor="start" fill="#d63ad8"><tspan font-size="8.6">Natural pozzolans</tspan><tspan font-size="7.5" dx="1.5">(516/276)</tspan></text><text x="206.8" y="60.0" text-anchor="start" fill="#bcf55c"><tspan font-size="8.6">Granite</tspan><tspan font-size="7.5" dx="1.5">(55/32)</tspan></text><text x="215.5" y="76.7" text-anchor="start" fill="#d8306f"><tspan font-size="8.6">Clays</tspan><tspan font-size="7.5" dx="1.5">(359/220)</tspan></text><text x="222.6" y="85.4" text-anchor="start" fill="#111"><tspan font-size="8.6">Bottom ashes</tspan><tspan font-size="7.5" dx="1.5">(201/96)</tspan></text><text x="231.7" y="101.6" font-size="8.60" text-anchor="start" fill="#3a58b8">Fly ashes</text><text x="236.8" y="111.0" font-size="7.45" text-anchor="start" fill="#3a58b8">(2028/1239)</text><text x="246.8" y="127.5" text-anchor="start" fill="#c9d842"><tspan font-size="8.6">Calcined clays</tspan><tspan font-size="7.5" dx="1.5">(83/22)</tspan></text><text x="252.6" y="136.0" text-anchor="start" fill="#3f9e30"><tspan font-size="8.6">Metakaolin</tspan><tspan font-size="7.5" dx="1.5">(242/211)</tspan></text><text x="259.5" y="152.8" font-size="8.60" text-anchor="start" fill="#8f2a18">Other ashes</text><text x="265.8" y="160.4" font-size="7.45" text-anchor="start" fill="#8f2a18">(255/139)</text><text x="275.0" y="177.8" font-size="8.60" text-anchor="start" fill="#82f0c8">Mine tailings</text><text x="280.6" y="186.0" font-size="7.45" text-anchor="start" fill="#82f0c8">(295/171)</text></g>
<g font-weight="bold" font-size="17" fill="#000" stroke="#000" stroke-width="0.45"><text x="5.4" y="14">a</text><text x="364" y="13.6">b</text><text x="365.3" y="161.5">c</text></g>
<g stroke-linecap="round" fill="none"><path stroke="#ee3c1e" stroke-width="2.40" d="M621.2 78.3h0M619.2 89.3h0M585.8 118.0h0M577.0 78.9h0M585.3 123.7h0M580.0 93.7h0M590.8 122.2h0M582.3 84.9h0M638.3 76.5h0M561.1 63.7h0M559.3 88.9h0M570.4 94.7h0M576.7 78.4h0M624.3 117.8h0M599.1 104.5h0M591.3 105.3h0M596.2 84.8h0M609.9 96.6h0M562.4 96.9h0M591.6 110.2h0M624.4 81.2h0M575.0 35.3h0M626.8 87.9h0M587.4 76.7h0M637.9 65.8h0M596.8 105.9h0M595.6 114.3h0M619.8 101.2h0M598.8 77.3h0M607.5 65.6h0M648.4 96.9h0M636.7 89.6h0M579.9 108.4h0M565.3 87.9h0M601.1 90.5h0M644.5 95.6h0M627.4 100.5h0M604.6 122.2h0M619.2 91.2h0M575.4 89.6h0"/>
<path stroke="#e2604c" stroke-width="2.40" d="M509.8 119.1h0M491.0 120.0h0M467.7 115.8h0M544.5 123.5h0M490.8 119.6h0M522.8 115.3h0M479.9 107.2h0M524.8 124.9h0M494.5 110.6h0M477.7 122.2h0M479.9 115.6h0M494.2 115.1h0M536.6 131.5h0M516.2 130.8h0M500.4 122.6h0M511.2 108.4h0M490.3 108.0h0M479.9 118.0h0M529.5 121.4h0M483.7 118.1h0M480.9 120.0h0M513.1 113.7h0M491.2 107.8h0M488.0 112.0h0M509.3 111.1h0M520.1 132.9h0M499.7 121.1h0M475.9 115.2h0"/>
<path stroke="#d8306f" stroke-width="2.40" d="M488.5 97.7h0M479.7 47.9h0M455.8 98.2h0M482.6 57.1h0M446.8 76.2h0M503.4 98.1h0M468.4 60.2h0M474.7 94.9h0M543.2 50.2h0M457.2 59.6h0M483.7 75.2h0M509.6 71.5h0M501.0 72.8h0M512.8 49.1h0M444.4 73.1h0M501.6 77.4h0M502.6 81.5h0M475.9 69.9h0M465.2 97.7h0M467.6 58.5h0M500.1 86.6h0M485.9 70.4h0M532.9 68.5h0M478.0 57.5h0M497.6 107.1h0M477.0 90.3h0M513.8 57.6h0M486.2 85.9h0M506.1 57.5h0M497.5 89.4h0M539.3 62.9h0M543.9 67.2h0M508.5 57.5h0M482.8 86.9h0M453.2 60.6h0M498.7 95.9h0M485.2 79.4h0M459.2 89.0h0M517.1 59.2h0M484.2 92.8h0"/>
<path stroke="#f3a7a7" stroke-width="2.40" d="M536.7 38.8h0M489.6 80.8h0M543.2 80.3h0M463.8 86.6h0M528.3 45.6h0M554.5 27.4h0M502.6 59.1h0M485.8 95.5h0M559.3 29.7h0M473.0 85.3h0M595.1 39.5h0M509.9 128.1h0M507.5 93.6h0M463.2 82.7h0M503.1 68.1h0M584.5 29.2h0M543.9 42.5h0M470.8 53.6h0M517.3 43.4h0M475.4 92.9h0M505.4 50.3h0"/>
<path stroke="#4b2b82" stroke-width="2.40" d="M566.5 128.0h0M638.3 102.1h0M601.8 111.6h0M615.6 84.6h0M572.7 111.4h0M563.7 112.0h0M593.5 39.8h0M581.9 91.3h0M624.0 87.2h0M546.9 118.6h0M642.3 89.6h0M549.4 126.1h0M603.0 67.1h0M566.8 135.3h0M634.6 91.2h0M556.7 125.5h0M581.3 87.7h0M592.1 125.5h0M564.4 21.5h0M575.1 21.3h0M574.7 127.3h0M562.9 112.9h0M626.2 103.9h0M557.6 133.3h0M570.3 131.1h0M626.9 82.5h0M556.2 124.2h0M616.5 107.9h0M541.3 68.1h0M557.0 115.3h0M574.8 94.8h0M576.6 83.9h0M612.4 62.5h0M601.0 114.1h0M616.3 97.5h0M567.7 125.9h0M617.2 115.7h0M556.6 132.4h0M591.1 93.0h0M619.5 95.0h0"/>
<path stroke="#3a58b8" stroke-width="2.40" d="M491.9 63.3h0M450.0 54.3h0M501.8 57.3h0M523.7 39.4h0M495.6 68.3h0M456.5 74.4h0M500.8 50.4h0M523.6 28.7h0M452.9 69.6h0M483.9 50.5h0M554.0 70.0h0M536.1 65.7h0M517.8 103.0h0M492.1 68.0h0M507.0 45.3h0M544.3 69.6h0M474.1 52.5h0M548.1 72.6h0M508.0 46.7h0M475.3 57.2h0M477.3 56.3h0M533.7 79.2h0M531.0 48.7h0M452.4 65.9h0M464.5 94.6h0M466.6 58.1h0M501.0 51.9h0M514.1 46.6h0M445.0 78.6h0M443.3 62.0h0M486.2 71.2h0M495.5 79.0h0M494.2 68.7h0M562.0 70.9h0M492.5 57.9h0M474.8 61.3h0M517.3 60.2h0M459.6 92.2h0M536.3 71.8h0M481.5 68.2h0"/>
<path stroke="#b57b90" stroke-width="2.40" d="M517.2 34.0h0M526.9 124.5h0M491.3 105.8h0M568.2 57.5h0M503.7 117.9h0M487.7 101.7h0M521.5 93.8h0M497.2 104.8h0M475.4 70.7h0M500.6 102.8h0M521.2 53.2h0M495.3 104.9h0M448.7 68.3h0M570.8 62.0h0M543.1 71.7h0M463.1 94.0h0M519.5 29.0h0M472.2 86.4h0M453.6 89.4h0M498.4 108.2h0M517.3 99.6h0M571.5 115.5h0M514.9 54.0h0M515.0 88.5h0M525.3 42.7h0M478.9 94.1h0M497.7 106.8h0M572.1 31.6h0M490.3 99.7h0M497.6 56.7h0M570.7 58.7h0M557.6 26.1h0M521.3 36.1h0M578.7 31.3h0M578.7 51.5h0M564.9 32.2h0M492.8 102.8h0M634.2 88.5h0M527.0 120.1h0M519.7 122.9h0"/>
<path stroke="#ee3c1e" stroke-width="2.40" d="M614.6 71.2h0M608.0 96.1h0M615.7 109.8h0M585.5 125.4h0M572.8 120.7h0M574.8 125.7h0M614.5 85.8h0M618.1 103.6h0M610.7 82.4h0M580.0 72.2h0M592.2 119.7h0M619.2 68.6h0M587.4 84.6h0M585.6 37.8h0M606.2 128.8h0M583.0 121.5h0M570.7 116.3h0M621.0 101.2h0M616.5 97.0h0M597.9 112.4h0M632.9 85.2h0M647.9 68.1h0M577.4 126.5h0M591.6 108.9h0M551.4 69.1h0M593.0 99.9h0M621.7 71.5h0M577.9 79.8h0M568.2 129.6h0M626.4 104.2h0M639.3 81.9h0M580.5 96.2h0M635.8 102.6h0M570.0 100.8h0M640.8 91.7h0M645.4 93.2h0M581.1 122.8h0M589.4 86.0h0M595.4 129.6h0M644.8 103.9h0"/>
<path stroke="#141414" stroke-width="2.40" d="M612.3 68.7h0M529.1 70.7h0M570.8 88.7h0M542.9 94.6h0M514.7 128.5h0M523.4 65.3h0M464.5 74.5h0M494.3 93.9h0M548.0 97.9h0M448.5 66.6h0M473.0 81.3h0M480.4 91.6h0M460.8 78.8h0M570.8 75.4h0M441.7 70.1h0M526.7 70.6h0M485.3 43.8h0M498.7 104.8h0M638.2 70.4h0M478.9 56.4h0M493.0 108.9h0M553.0 116.8h0M502.8 61.3h0M491.3 90.2h0M483.9 61.4h0M525.8 126.0h0M492.7 104.3h0M542.3 72.2h0M458.7 83.2h0M555.3 112.0h0M541.5 60.5h0M487.8 45.7h0M519.1 71.5h0M562.9 78.8h0M516.0 66.3h0M472.1 64.2h0M557.3 70.6h0M530.8 73.1h0M494.4 97.3h0M530.5 103.5h0"/>
<path stroke="#4b2b82" stroke-width="2.40" d="M631.0 112.9h0M576.9 112.5h0M606.4 87.1h0M590.9 73.5h0M560.2 117.1h0M592.6 90.4h0M616.6 117.8h0M573.1 129.6h0M547.9 111.7h0M603.2 78.9h0M573.3 127.7h0M553.6 121.7h0M586.1 29.7h0M602.4 94.2h0M567.4 121.3h0M548.0 128.4h0M618.8 76.7h0M563.2 121.4h0M552.7 121.7h0M624.0 94.2h0M591.0 75.0h0M558.7 117.7h0M603.7 105.6h0M548.4 116.5h0M598.4 76.4h0M609.5 113.7h0M569.1 36.6h0M592.7 119.9h0M557.6 127.8h0M652.2 91.3h0M522.0 72.8h0M646.3 93.1h0M570.5 125.6h0M558.7 124.6h0M547.2 116.1h0M590.7 69.1h0M600.7 92.1h0M568.0 72.7h0M578.2 33.1h0M617.6 122.7h0"/>
<path stroke="#d63ad8" stroke-width="2.40" d="M458.9 104.7h0M516.9 64.1h0M461.4 83.0h0M457.5 92.7h0M505.2 100.8h0M487.2 89.8h0M481.5 87.7h0M462.6 94.6h0M528.0 52.2h0M510.6 93.4h0M488.2 97.4h0M453.1 83.1h0M515.4 86.9h0M513.9 59.3h0M491.0 100.2h0M474.5 95.2h0M466.3 101.3h0M472.3 102.4h0M511.6 97.6h0M461.9 98.2h0M478.5 83.2h0M490.0 72.3h0M549.1 62.0h0M486.9 100.5h0M471.1 65.7h0M499.8 65.8h0M468.3 99.1h0M484.1 83.0h0M523.7 76.7h0M465.1 102.4h0M458.6 93.7h0M487.9 43.1h0M492.2 59.4h0M493.3 61.7h0M454.8 96.4h0M517.2 71.1h0M484.1 103.1h0M461.1 100.9h0M470.8 90.4h0M457.9 101.2h0"/>
<path stroke="#ee3c1e" stroke-width="2.40" d="M588.9 90.3h0M549.6 66.0h0M575.1 124.3h0M616.1 109.5h0M613.0 79.6h0M585.6 77.8h0M560.3 83.4h0M585.4 112.7h0M614.0 74.9h0M575.7 106.0h0M636.9 100.2h0M618.7 64.7h0M623.4 112.6h0M598.6 105.6h0M628.2 106.8h0M475.7 77.7h0M628.7 83.6h0M601.0 120.7h0M593.4 90.7h0M631.0 76.4h0M583.9 74.7h0M618.6 88.5h0M601.1 104.8h0M644.7 83.2h0M549.0 118.3h0M600.9 72.3h0M586.8 106.3h0M624.7 95.8h0M621.8 78.2h0M569.8 130.4h0M516.4 72.8h0M549.5 70.7h0M604.1 92.3h0M585.4 93.6h0M602.5 73.0h0M645.0 95.0h0M586.3 72.5h0M598.8 65.5h0M624.0 101.0h0M613.9 100.2h0"/>
<path stroke="#ee3c1e" stroke-width="2.40" d="M606.5 102.3h0M575.7 75.6h0M562.8 80.9h0M594.1 85.8h0M588.4 90.6h0M573.5 71.3h0M647.0 95.9h0M620.1 68.1h0M574.8 76.0h0M602.0 70.7h0M590.7 102.2h0M634.0 103.6h0M572.1 103.1h0M586.6 116.3h0M569.2 111.5h0M636.9 100.2h0M598.8 114.4h0M613.5 87.2h0M635.9 79.0h0M593.7 129.5h0M572.8 99.5h0M626.3 75.8h0M588.2 89.0h0M646.4 94.1h0M578.2 36.1h0M572.4 83.3h0M522.4 63.8h0M640.5 110.4h0M571.2 88.6h0M642.5 99.7h0M624.7 97.6h0M606.6 85.2h0M588.0 125.1h0M573.5 95.8h0M585.3 84.2h0M578.5 81.9h0M616.6 83.7h0M639.4 106.3h0M594.1 84.1h0M573.0 72.9h0"/>
<path stroke="#82f0c8" stroke-width="2.40" d="M550.0 26.9h0M527.7 32.2h0M537.7 32.6h0M546.1 51.4h0M557.8 102.4h0M544.4 64.0h0M520.5 38.4h0M539.8 96.5h0M578.3 28.8h0M483.5 95.7h0M520.3 47.7h0M466.9 62.2h0M546.8 98.4h0M471.2 99.1h0M569.9 25.0h0M548.3 62.0h0M477.7 102.0h0M529.8 82.6h0M522.4 32.3h0M536.9 37.8h0M537.4 51.0h0M511.4 42.1h0M523.8 114.0h0M519.9 109.4h0M506.7 60.6h0M638.1 68.1h0M536.8 42.5h0M496.8 100.0h0"/>
<path stroke="#ee3c1e" stroke-width="2.40" d="M605.6 71.3h0M570.6 95.2h0M573.9 79.2h0M522.0 68.2h0M571.3 89.3h0M573.2 93.0h0M580.3 85.8h0M571.2 83.8h0M586.3 110.3h0M537.5 68.1h0M588.3 78.7h0M583.8 110.0h0M615.7 75.5h0M631.9 91.6h0M575.9 119.1h0M613.7 103.1h0M590.4 106.8h0M570.7 78.6h0M605.5 113.2h0M576.0 106.0h0M625.1 117.1h0M619.2 78.5h0M572.7 98.5h0M618.0 115.2h0M587.7 92.0h0M631.4 80.4h0M590.2 94.6h0M592.4 77.7h0M623.9 110.3h0M592.0 74.9h0M643.6 101.3h0M596.6 118.1h0M646.9 102.6h0M577.0 105.8h0M602.0 96.3h0M609.8 112.0h0M628.5 98.7h0M578.2 94.9h0M621.9 70.1h0M602.8 108.2h0"/>
<path stroke="#82f0c8" stroke-width="2.40" d="M527.9 28.8h0M529.8 67.3h0M544.1 112.6h0M544.1 69.0h0M492.6 60.8h0M542.5 36.0h0M477.1 101.4h0M554.4 39.3h0M563.2 82.5h0M528.7 100.2h0M491.1 98.2h0M523.2 34.7h0M516.9 44.9h0M546.0 118.7h0M519.4 40.9h0M524.0 114.5h0M447.4 79.8h0M537.0 105.7h0M468.5 80.9h0M510.7 90.5h0M542.2 38.2h0M478.7 72.3h0M531.6 57.6h0M527.2 39.6h0M546.3 50.8h0M547.4 91.6h0M532.0 70.1h0M549.1 42.1h0M531.0 49.3h0M482.1 63.6h0M552.7 96.5h0M555.4 100.2h0M526.4 60.9h0M526.3 48.9h0M469.8 86.3h0M534.1 29.0h0M532.8 42.3h0M558.2 33.8h0M553.8 26.4h0M472.8 87.6h0"/>
<path stroke="#5ef25e" stroke-width="2.40" d="M555.8 83.6h0M525.1 96.5h0M564.8 86.8h0M567.2 82.4h0M531.4 90.5h0M564.9 103.0h0M535.8 90.4h0M537.1 90.2h0M555.8 89.3h0M545.5 81.5h0M554.9 103.2h0M561.5 102.2h0M539.6 90.3h0M530.4 57.2h0M524.6 77.8h0M541.6 89.8h0M540.6 82.2h0M565.5 95.6h0M536.0 85.9h0M591.4 111.2h0M536.7 94.9h0M524.6 45.1h0M560.9 86.3h0M556.2 79.0h0M569.0 89.5h0M535.6 102.4h0M561.1 92.6h0M569.0 80.9h0M570.5 86.0h0M544.7 102.4h0M562.6 92.4h0M581.3 54.2h0M566.7 60.9h0M577.0 54.3h0M565.7 86.8h0M568.7 51.3h0M566.6 87.8h0M538.8 105.1h0M559.3 95.2h0M530.6 89.7h0"/>
<path stroke="#5ef25e" stroke-width="2.40" d="M539.3 86.6h0M544.1 80.0h0M557.2 99.8h0M550.3 102.4h0M534.2 89.0h0M525.7 102.0h0M523.6 98.4h0M534.2 90.0h0M532.8 82.1h0M508.7 87.8h0M567.4 80.1h0M558.0 83.5h0M549.9 99.4h0M527.0 97.9h0M541.1 83.9h0M548.4 106.7h0M525.8 100.9h0M529.9 90.9h0M477.1 53.1h0M546.9 106.4h0M561.9 82.0h0M547.0 84.2h0M544.2 93.1h0M613.4 96.8h0M544.0 102.5h0M550.5 95.8h0M537.3 82.1h0M538.6 87.4h0M561.0 92.0h0M565.0 98.3h0M561.9 95.8h0M531.9 96.6h0M554.5 103.5h0M557.0 81.6h0M528.2 88.6h0M534.9 94.1h0M525.5 44.1h0M543.0 41.5h0M562.6 80.6h0M540.5 99.7h0"/>
<path stroke="#d63ad8" stroke-width="2.40" d="M464.1 102.6h0M476.8 62.2h0M484.8 70.6h0M504.1 87.0h0M469.2 100.5h0M444.2 72.2h0M496.0 73.4h0M465.7 98.7h0M462.4 92.5h0M483.4 103.3h0M457.4 93.8h0M484.0 92.1h0M481.0 88.8h0M486.9 54.1h0M459.6 61.4h0M467.9 103.7h0M533.6 77.5h0M514.4 55.2h0M484.2 58.8h0M507.7 66.1h0M474.2 105.1h0M482.5 66.3h0M518.5 92.8h0M517.8 82.8h0M478.0 82.3h0M491.9 54.1h0M509.5 68.4h0M498.3 103.0h0M513.9 97.8h0M485.8 63.0h0M465.6 104.0h0M504.6 83.2h0M459.9 95.8h0M463.5 80.8h0M468.4 103.3h0M484.2 70.8h0M504.0 86.6h0M462.8 97.8h0M458.4 90.0h0M461.7 86.3h0"/>
<path stroke="#ee3c1e" stroke-width="2.40" d="M596.2 114.2h0M620.1 74.4h0M621.3 121.4h0M569.1 107.0h0M619.5 90.2h0M610.7 106.4h0M580.7 66.7h0M608.4 64.7h0M566.3 95.8h0M629.1 72.7h0M617.8 74.6h0M606.6 110.6h0M575.1 87.0h0M593.9 81.8h0M581.4 77.2h0M591.2 115.5h0M599.3 100.6h0M610.4 75.1h0M564.4 101.7h0M589.4 76.0h0M570.1 120.2h0M627.2 78.8h0M630.6 116.2h0M574.6 79.2h0M641.5 96.4h0M582.1 118.3h0M553.3 71.9h0M634.0 93.7h0M593.6 112.3h0M627.9 102.7h0M584.0 101.0h0M610.3 92.2h0M620.9 111.4h0M614.2 102.5h0M637.2 83.4h0M602.5 76.2h0M581.9 71.5h0M609.1 94.6h0M569.6 123.2h0M599.5 114.1h0"/>
<path stroke="#6af0f0" stroke-width="2.40" d="M529.3 102.9h0M536.2 111.9h0M528.3 115.2h0M446.4 72.7h0M498.5 53.7h0M536.6 112.2h0M540.0 115.8h0M520.8 111.9h0M513.6 72.4h0M525.6 70.1h0M516.8 118.0h0M526.4 118.0h0M525.8 117.6h0M471.6 63.3h0M537.1 106.9h0M527.8 118.8h0M525.9 121.3h0M519.2 114.2h0M523.4 53.9h0M533.5 114.8h0M495.3 63.1h0M470.2 88.3h0M531.1 105.1h0M527.9 109.8h0M454.4 66.1h0M487.6 95.1h0M537.8 82.1h0M469.0 60.4h0M523.4 105.1h0M520.7 120.5h0M533.2 116.4h0M538.0 109.6h0M530.0 115.8h0M532.6 106.3h0M527.2 106.7h0M537.8 118.3h0M530.9 105.0h0"/>
<path stroke="#d8306f" stroke-width="2.40" d="M477.9 63.7h0M506.6 59.9h0M501.8 76.2h0M455.7 51.1h0M449.1 62.9h0M534.3 56.6h0M465.9 69.4h0M479.2 53.1h0M482.5 77.4h0M517.7 66.1h0M478.7 94.6h0M502.8 80.9h0M528.3 75.9h0M508.8 103.5h0M512.2 98.3h0M535.4 80.3h0M471.8 89.9h0M508.3 82.0h0M478.8 98.9h0M452.3 96.8h0M473.2 84.6h0M485.5 59.6h0M450.7 97.4h0M507.8 63.4h0M504.6 64.0h0M516.1 44.9h0M522.4 59.3h0M477.5 99.4h0M496.4 102.4h0M495.5 93.1h0M457.7 79.4h0M469.7 102.1h0M472.4 62.4h0M477.9 82.5h0M475.0 93.0h0M492.2 49.2h0M471.9 100.8h0M460.9 50.6h0M475.3 61.8h0M495.6 94.6h0"/>
<path stroke="#957d66" stroke-width="2.40" d="M464.2 82.8h0M484.2 55.0h0M502.9 107.1h0M584.4 119.0h0M538.3 35.2h0M458.6 89.3h0M522.6 40.4h0M449.6 74.9h0M450.0 70.7h0M521.3 57.7h0M502.9 78.3h0M457.1 53.2h0M499.0 97.2h0M528.7 65.5h0M539.8 67.6h0M521.6 30.7h0M457.5 69.0h0M555.0 74.1h0M471.8 96.1h0M481.5 92.8h0M499.0 111.6h0M465.1 93.8h0M482.3 78.5h0M527.6 46.5h0M542.3 36.6h0M555.6 51.3h0M494.9 107.7h0M467.1 54.9h0M643.9 86.6h0M526.6 55.0h0M566.8 84.8h0M559.0 70.5h0M622.0 91.4h0M503.4 84.0h0M644.0 92.0h0M653.1 68.7h0M479.8 41.6h0M635.0 87.8h0M498.9 106.1h0M555.7 96.3h0"/>
<path stroke="#ee3c1e" stroke-width="2.40" d="M624.2 96.8h0M608.3 95.1h0M568.7 94.2h0M570.2 92.0h0M583.0 87.1h0M625.1 110.2h0M607.2 103.7h0M584.5 86.6h0M589.2 79.5h0M575.6 81.4h0M625.2 91.8h0M632.0 79.4h0M584.1 72.6h0M570.4 80.6h0M590.9 98.8h0M600.1 91.1h0M624.2 78.0h0M600.0 74.2h0M632.4 86.4h0M563.3 83.4h0M618.8 70.6h0M510.3 61.2h0M618.3 88.7h0M621.3 75.9h0M582.5 90.8h0M634.8 78.4h0M568.3 111.2h0M599.8 89.5h0M610.8 94.5h0M595.6 125.7h0M581.0 39.9h0M628.6 96.2h0M552.0 59.2h0M579.7 114.9h0M579.3 68.7h0M579.9 88.9h0M571.1 30.3h0M611.4 79.4h0M622.8 89.6h0M623.8 68.4h0"/>
<path stroke="#bcf55c" stroke-width="2.40" d="M510.3 55.0h0M538.4 64.0h0M467.9 96.9h0M474.9 51.4h0M476.9 100.0h0M513.9 97.0h0M507.9 96.7h0M478.3 49.7h0M442.9 65.4h0M502.0 93.7h0M476.0 91.5h0M484.2 93.1h0M475.2 104.8h0M475.4 101.6h0M489.1 95.3h0M497.3 52.6h0M461.9 100.6h0M471.9 96.1h0M458.7 98.0h0M487.2 87.5h0M492.4 85.4h0M489.3 84.7h0M461.9 95.7h0M459.8 103.7h0M504.1 80.2h0M447.1 76.0h0M452.7 89.0h0M478.3 86.6h0M471.5 104.1h0M506.0 84.9h0M462.9 94.3h0M473.7 92.8h0M474.1 92.3h0M503.9 104.0h0M461.9 64.9h0M498.1 63.9h0M473.4 84.3h0M469.5 100.3h0M461.8 99.2h0M474.9 104.4h0"/>
<path stroke="#5ef25e" stroke-width="2.40" d="M525.9 104.6h0M563.0 91.8h0M561.7 95.7h0M528.0 86.8h0M564.5 96.2h0M529.7 99.2h0M612.4 83.2h0M539.9 89.2h0M523.6 93.3h0M631.7 88.4h0M553.6 84.0h0M536.4 108.9h0M544.7 79.7h0M535.3 71.7h0M571.9 52.9h0M558.5 91.5h0M526.9 94.7h0M637.0 94.5h0M539.7 80.8h0M532.1 86.2h0M571.4 89.1h0M566.2 91.7h0M520.8 53.3h0M552.8 91.5h0M618.4 74.9h0M550.5 27.6h0M527.8 103.1h0M517.8 54.3h0M531.7 90.3h0M561.3 102.4h0M557.4 101.3h0M523.3 44.9h0M534.1 81.6h0M528.0 97.9h0M542.3 77.2h0M609.2 71.7h0M557.6 101.4h0M541.0 107.4h0M526.9 98.5h0M548.1 90.0h0"/>
<path stroke="#b57b90" stroke-width="2.40" d="M512.0 95.4h0"/>
<path stroke="#6af0f0" stroke-width="2.40" d="M494.8 101.4h0M525.5 110.4h0M526.5 113.3h0M537.4 110.7h0M532.5 112.2h0M495.4 55.4h0M469.0 92.2h0M465.0 94.5h0M533.7 69.6h0M546.4 70.2h0M490.7 72.5h0M525.9 114.8h0M534.2 113.8h0M533.2 81.3h0M514.2 113.0h0M515.7 52.9h0M486.4 87.0h0M530.6 113.1h0M470.5 79.8h0M488.7 92.2h0M465.1 84.0h0M535.3 117.5h0M540.1 70.6h0M465.5 91.2h0M536.9 107.7h0M469.4 88.3h0M459.7 96.2h0M525.2 118.1h0M479.6 85.9h0M479.8 98.3h0M539.7 101.7h0M531.9 74.4h0M462.2 100.2h0M520.1 65.8h0M537.7 111.1h0M469.8 97.4h0M535.3 107.3h0M525.6 104.8h0M528.1 110.3h0M509.7 57.0h0"/>
<path stroke="#6af0f0" stroke-width="2.40" d="M517.4 105.9h0M523.6 53.7h0M455.1 86.4h0M534.6 61.7h0M511.4 101.6h0M523.2 104.8h0M538.4 112.4h0M533.9 105.4h0M516.5 96.3h0M527.0 115.4h0M498.4 86.1h0M527.2 115.1h0M527.3 66.3h0M536.9 75.0h0M512.5 70.8h0M519.5 108.3h0M529.4 110.1h0M492.6 91.2h0M478.2 78.0h0M464.1 94.1h0M540.0 111.0h0M532.0 116.5h0M536.7 117.6h0M525.9 118.1h0M540.2 120.2h0M531.4 107.9h0M498.8 95.4h0M528.6 118.3h0M490.5 91.2h0M519.2 106.0h0M525.3 106.8h0M524.2 112.4h0M536.8 111.2h0M542.3 109.8h0M526.0 117.7h0M461.7 84.8h0M530.8 65.7h0M530.4 119.9h0M535.8 109.8h0M493.3 96.0h0"/>
<path stroke="#f28232" stroke-width="2.40" d="M659.0 67.0h0M658.9 63.9h0M650.7 67.4h0M656.5 67.1h0M625.5 63.6h0M657.5 68.6h0M659.2 68.0h0M628.6 62.0h0M655.3 61.1h0M657.2 60.5h0M660.7 69.3h0M619.1 67.3h0M659.9 64.6h0M655.3 67.4h0M658.6 66.7h0M654.7 68.3h0M658.9 67.8h0M652.8 64.0h0M657.1 68.7h0M655.0 66.2h0M634.6 67.1h0M599.1 64.9h0M652.7 70.5h0M653.8 65.3h0M649.3 65.4h0M645.8 66.9h0M650.2 69.6h0M601.9 67.7h0M655.2 65.1h0M661.7 66.0h0M658.5 71.0h0M653.8 71.4h0M655.6 64.6h0M652.0 70.2h0M656.4 61.5h0M646.9 64.9h0M624.8 72.1h0"/>
<path stroke="#3a58b8" stroke-width="2.40" d="M470.9 45.7h0M491.1 51.5h0M548.8 74.4h0M495.2 42.3h0M449.5 64.0h0M454.7 77.4h0M526.7 74.5h0M466.9 85.8h0M465.3 73.2h0M464.2 45.6h0M498.2 51.7h0M495.5 66.9h0M516.1 82.3h0M507.5 80.0h0M460.5 58.6h0M480.1 83.8h0M471.9 58.0h0M454.9 62.2h0M484.7 41.9h0M545.8 57.9h0M526.1 83.5h0M491.8 54.9h0M511.7 64.8h0M474.5 49.8h0M496.2 73.2h0M471.1 48.5h0M527.6 53.2h0M550.9 74.7h0M562.2 67.0h0M446.3 76.2h0M506.8 54.4h0M476.1 59.7h0M512.6 88.6h0M448.4 65.3h0M468.1 83.1h0M500.1 54.8h0M495.8 80.4h0M471.1 83.0h0M521.3 68.7h0M459.9 67.5h0"/>
<path stroke="#ee3c1e" stroke-width="2.40" d="M596.4 70.8h0M621.0 73.4h0M594.1 126.5h0M623.6 91.5h0M603.1 77.6h0M566.6 116.4h0M569.7 111.3h0M622.8 98.4h0M633.2 82.6h0M623.0 73.6h0M615.2 79.7h0M583.7 109.5h0M602.0 95.9h0M604.9 81.0h0M595.7 69.6h0M583.6 86.8h0M632.5 81.7h0M598.6 79.7h0M598.4 95.9h0M582.3 108.6h0M573.1 89.1h0M630.2 109.1h0M623.1 69.0h0M607.9 80.8h0M603.1 74.0h0M573.2 29.7h0M642.7 95.2h0M644.8 90.2h0M634.2 90.1h0M577.3 103.8h0M570.5 100.8h0M611.5 116.3h0M571.7 82.0h0M622.3 88.1h0M591.3 69.7h0M608.5 82.7h0M647.1 94.4h0M623.9 107.6h0M574.0 123.0h0M628.5 91.9h0"/>
<path stroke="#4b2b82" stroke-width="2.40" d="M556.7 114.6h0M575.8 94.1h0M550.9 115.5h0M572.5 76.9h0M603.1 124.7h0M550.5 68.0h0M634.4 103.5h0M565.8 132.2h0M560.7 113.7h0M569.9 122.8h0M556.3 126.1h0M637.4 82.9h0M563.9 132.3h0M619.0 117.0h0M603.7 113.1h0M565.9 83.1h0M607.5 94.4h0M600.5 110.4h0M583.6 86.6h0M571.0 91.6h0M557.4 118.2h0M566.0 126.5h0M607.1 106.1h0M603.0 104.9h0M626.7 80.2h0M638.2 71.5h0M567.9 117.7h0M547.0 121.2h0M560.6 132.5h0M552.2 113.6h0M644.8 92.0h0M581.9 94.1h0M621.8 80.6h0M623.5 74.8h0M579.9 123.0h0M546.1 122.8h0M645.8 83.6h0M628.7 99.2h0M578.9 117.9h0M596.5 107.1h0"/>
<path stroke="#6af0f0" stroke-width="2.40" d="M538.2 120.1h0M540.2 70.9h0M502.0 95.0h0M517.7 112.8h0M530.7 115.1h0M523.1 115.5h0M531.8 60.6h0M478.4 96.2h0M451.7 84.5h0M529.9 115.1h0M531.8 62.0h0M524.9 112.1h0M530.3 122.8h0M526.2 112.6h0M516.0 118.0h0M499.8 91.9h0M531.5 111.9h0M462.3 96.5h0M467.4 96.8h0M532.0 115.5h0M492.5 93.4h0M522.7 69.2h0M531.4 116.9h0M525.0 74.5h0M512.9 96.2h0M498.2 96.6h0M502.3 78.4h0M477.5 93.2h0M481.9 50.4h0M516.0 108.6h0M522.7 104.7h0M492.8 101.0h0M536.4 105.8h0M529.8 114.6h0M539.3 65.4h0M476.5 88.4h0M456.2 99.2h0M533.6 112.8h0M526.6 110.3h0M544.4 72.9h0"/>
<path stroke="#141414" stroke-width="2.40" d="M546.6 61.3h0M476.1 83.0h0M469.0 67.3h0M538.4 54.4h0M480.3 56.0h0M460.6 64.4h0M467.4 44.4h0M525.0 83.9h0M470.5 85.1h0M564.5 80.1h0M490.1 80.7h0M546.1 76.1h0M506.3 97.2h0M501.6 106.6h0M542.1 72.4h0M485.7 80.2h0M567.4 98.1h0M529.3 70.8h0M489.3 47.0h0M496.6 51.2h0M549.6 71.4h0M460.9 69.8h0M530.6 67.3h0M512.9 36.4h0M510.3 34.9h0M515.8 34.8h0M472.0 46.0h0M528.7 94.7h0M521.3 72.6h0M501.2 102.3h0M547.3 63.2h0M524.7 104.5h0M538.4 85.1h0M554.5 72.6h0M499.9 92.7h0M483.8 57.6h0M471.5 84.8h0M499.0 106.9h0M493.5 102.0h0M553.8 67.4h0"/>
<path stroke="#3a58b8" stroke-width="2.40" d="M459.1 48.6h0M541.5 68.8h0M474.5 57.2h0M540.0 39.0h0M534.7 58.9h0M459.9 53.1h0M491.8 42.6h0M497.2 67.4h0M479.2 86.2h0M514.6 42.4h0M471.9 89.6h0M534.7 66.1h0M511.3 89.0h0M618.2 73.6h0M482.3 51.6h0M472.5 51.9h0M469.6 73.7h0M490.2 67.3h0M481.4 62.3h0M473.4 63.4h0M490.7 90.0h0M524.3 77.8h0M477.3 72.0h0M485.7 44.1h0M630.1 89.5h0M490.3 79.7h0M490.9 63.3h0M465.7 95.9h0M452.6 53.2h0M518.0 46.6h0M526.2 37.2h0M548.7 58.8h0M457.6 83.8h0M520.9 96.2h0M471.3 83.4h0M498.9 87.1h0M455.9 69.5h0M533.6 65.3h0M529.1 58.7h0M458.1 64.7h0"/>
<path stroke="#ee3c1e" stroke-width="2.40" d="M569.4 120.1h0M596.7 109.8h0M622.6 89.0h0M574.5 101.8h0M624.2 104.2h0M609.7 93.0h0M584.8 94.9h0M607.1 70.4h0M585.3 70.0h0M576.7 82.2h0M592.4 110.2h0M626.0 85.1h0M589.7 110.4h0M621.5 88.6h0M622.2 98.1h0M637.9 89.9h0M573.6 86.2h0M600.6 119.1h0M628.7 90.0h0M582.6 73.0h0M564.1 131.3h0M568.7 78.4h0M603.3 97.7h0M586.7 91.1h0M576.0 72.0h0M575.5 88.0h0M603.6 99.7h0M565.2 90.7h0M600.3 83.6h0M597.2 97.4h0M565.6 122.7h0M632.2 109.6h0M594.5 103.2h0M616.0 104.0h0M631.7 72.0h0M627.6 111.1h0M618.7 89.6h0M591.1 108.0h0M574.1 115.9h0M608.3 82.9h0"/>
<path stroke="#ee3c1e" stroke-width="2.40" d="M601.6 111.1h0M582.5 126.8h0M562.6 87.7h0M581.4 69.5h0M568.7 32.8h0M578.1 98.6h0M579.1 80.6h0M627.3 74.3h0M639.9 89.3h0M584.9 126.4h0M615.9 79.1h0M607.3 114.8h0M629.2 97.4h0M572.3 123.3h0M617.8 117.6h0M649.2 92.1h0M631.3 75.7h0M611.1 87.5h0M608.2 85.3h0M600.8 111.9h0M563.2 88.1h0M615.2 84.4h0M613.4 89.3h0M599.1 88.5h0M525.6 62.2h0M602.2 124.5h0M612.9 68.3h0M615.1 107.8h0M596.9 77.9h0M621.9 103.7h0M570.9 78.6h0M602.9 110.3h0M600.6 122.2h0M595.4 112.9h0M638.1 72.0h0M577.7 89.0h0M563.4 119.4h0M590.0 84.1h0M620.9 118.8h0M608.7 126.4h0"/>
<path stroke="#b57b90" stroke-width="2.40" d="M469.1 82.5h0M503.8 82.3h0M494.2 93.1h0M556.8 73.5h0M497.2 110.1h0M502.0 102.1h0M488.7 82.5h0M533.6 121.1h0M538.1 72.8h0M478.0 73.5h0M604.7 114.1h0M593.5 113.4h0M622.3 88.1h0M549.5 73.5h0M487.1 112.6h0M562.6 22.8h0M499.1 103.0h0M518.7 65.0h0M491.6 106.1h0M545.2 33.4h0M487.2 102.8h0M501.6 103.0h0M447.8 93.2h0M460.4 77.6h0M492.5 105.6h0M490.7 99.0h0M486.3 95.3h0M586.7 92.6h0M484.7 56.2h0M503.6 68.3h0M569.8 98.7h0M560.9 19.9h0M464.1 91.7h0M469.6 80.1h0M577.7 37.6h0M517.8 66.9h0M468.5 112.5h0M509.9 51.3h0M511.5 42.4h0M443.1 73.8h0"/>
<path stroke="#957d66" stroke-width="2.40" d="M578.2 64.5h0M545.8 61.7h0M487.2 85.5h0M532.3 71.7h0M469.6 90.3h0M512.5 66.9h0M533.2 49.1h0M516.6 109.0h0M514.6 102.6h0M499.7 102.2h0M551.2 61.9h0M490.2 110.3h0M486.0 79.8h0M630.2 112.5h0M468.7 94.3h0M449.2 66.6h0M458.0 64.1h0M487.6 95.8h0M462.1 101.0h0M552.4 61.4h0M498.8 127.8h0M527.8 52.1h0M598.0 89.9h0M544.6 35.2h0M467.3 96.2h0M505.0 92.8h0M550.2 47.2h0M498.5 100.5h0M613.5 66.6h0M500.3 84.0h0M490.4 124.9h0M510.6 87.5h0M504.9 83.6h0M527.1 124.2h0M461.1 53.7h0M569.6 55.8h0M503.2 105.1h0M491.7 101.2h0M476.7 97.0h0M655.0 69.5h0"/>
<path stroke="#ee3c1e" stroke-width="2.40" d="M600.9 95.8h0M594.5 122.8h0M622.9 116.7h0M629.4 103.5h0M608.3 105.2h0M567.1 87.9h0M596.9 99.3h0M619.8 76.5h0M618.9 91.5h0M634.4 76.6h0M573.8 82.1h0M573.1 73.4h0M616.7 90.6h0M640.1 102.7h0M622.4 105.7h0M584.2 92.0h0M589.2 88.2h0M602.4 75.1h0M628.4 94.0h0M609.0 122.2h0M635.1 91.3h0M579.5 93.8h0M633.8 99.9h0M586.3 78.6h0M631.5 79.8h0M626.3 80.0h0M617.8 100.6h0M553.3 119.1h0M566.0 134.6h0M569.8 102.5h0M643.0 91.8h0M573.8 86.0h0M599.5 96.5h0M574.7 34.5h0M583.7 88.3h0M624.2 100.9h0M570.9 109.5h0M606.8 85.3h0M568.4 81.5h0M487.4 66.9h0"/>
<path stroke="#4b2b82" stroke-width="2.40" d="M570.5 122.3h0M557.6 110.4h0M575.5 107.7h0M556.9 122.8h0M574.7 38.0h0M565.9 130.3h0M561.1 111.5h0M562.8 80.7h0M630.4 70.1h0M572.8 107.7h0M526.4 69.0h0M634.5 106.0h0M557.5 125.5h0M536.4 58.4h0M568.8 116.7h0M618.5 62.7h0M548.0 116.0h0M614.7 78.0h0M574.7 82.5h0M619.8 84.6h0M573.9 127.8h0M545.7 113.9h0M641.1 93.9h0M573.3 92.2h0M596.7 99.2h0M619.0 84.8h0M606.6 111.3h0M561.4 129.7h0M622.7 93.8h0M599.8 79.3h0M547.4 113.5h0M556.1 131.6h0M563.7 87.3h0M544.8 110.5h0M633.3 67.3h0M627.0 112.4h0M581.8 110.1h0M548.0 113.7h0M610.7 88.2h0M625.3 87.6h0"/>
<path stroke="#5ef25e" stroke-width="2.40" d="M565.7 52.7h0M560.9 94.0h0M572.6 47.1h0M555.4 98.7h0M553.7 83.1h0M534.4 85.5h0M532.7 86.3h0M573.8 82.4h0M551.3 96.4h0M539.2 95.5h0M551.3 100.9h0M582.8 50.0h0M526.6 100.3h0M574.0 59.8h0M561.7 91.5h0M523.6 96.4h0M555.9 88.9h0M579.3 46.1h0M544.6 94.6h0M540.8 79.2h0M544.3 83.2h0M534.6 95.1h0M555.9 95.4h0M542.6 96.6h0M552.2 107.3h0M548.2 106.8h0M542.6 91.7h0M525.3 105.0h0M564.2 90.2h0M550.4 83.9h0M550.5 52.5h0M542.4 45.2h0M542.9 108.3h0M527.1 102.6h0M532.6 91.4h0M556.1 83.8h0M564.1 84.9h0M525.3 84.6h0M561.5 89.3h0M577.4 64.3h0"/>
<path stroke="#957d66" stroke-width="2.40" d="M551.5 72.4h0M524.0 72.2h0M554.2 47.5h0M460.8 71.9h0M535.9 46.3h0M546.4 60.7h0M542.5 79.6h0M444.4 76.8h0M577.4 58.9h0M504.6 105.7h0M505.3 100.2h0M536.6 64.9h0M583.7 31.6h0M562.3 96.6h0M472.7 94.5h0M516.5 34.8h0M533.2 69.4h0M564.8 85.2h0M521.2 74.8h0M660.9 62.3h0M462.3 88.5h0M474.0 82.9h0M594.1 32.9h0M558.4 60.3h0M485.9 97.3h0M644.1 66.8h0M567.9 84.7h0M499.2 100.1h0M520.3 44.0h0M653.1 71.1h0M606.0 103.3h0M558.5 38.7h0M527.3 73.1h0M501.1 98.2h0M515.6 48.1h0M445.5 58.0h0M514.3 130.6h0M500.9 89.6h0M506.0 107.4h0M531.1 91.2h0"/>
<path stroke="#ee3c1e" stroke-width="2.40" d="M582.9 122.8h0M630.7 83.6h0M574.4 104.2h0M616.0 105.8h0M583.6 94.3h0M602.0 80.7h0M615.1 118.9h0M585.2 94.0h0M644.1 86.8h0M588.2 75.3h0M559.2 66.4h0M593.8 130.8h0M562.8 24.6h0M586.7 117.2h0M595.6 124.6h0M582.2 110.0h0M621.9 116.9h0M627.9 114.4h0M574.9 105.2h0M581.9 96.0h0M641.7 65.5h0M620.9 71.3h0M601.0 117.6h0M575.6 74.6h0M595.9 107.2h0M637.2 77.8h0M576.6 111.5h0M589.7 119.2h0M632.0 79.3h0M619.7 96.7h0M591.0 89.8h0M586.0 69.1h0M578.5 123.8h0M633.7 84.5h0M616.5 107.3h0M642.1 89.3h0M528.8 68.3h0M584.0 88.4h0M580.3 79.9h0M592.1 86.0h0"/>
<path stroke="#3a58b8" stroke-width="2.40" d="M514.7 53.4h0M505.6 73.3h0M616.6 107.8h0M500.3 85.4h0M465.9 68.1h0M462.6 65.4h0M514.2 58.7h0M452.8 50.6h0M500.2 53.9h0M505.9 67.0h0M537.8 68.4h0M467.3 98.6h0M487.3 90.6h0M485.2 59.6h0M502.5 56.5h0M471.1 60.8h0M508.7 60.5h0M607.8 94.4h0M455.2 68.1h0M546.0 66.6h0M504.8 77.4h0M461.6 69.3h0M455.3 66.8h0M517.3 50.9h0M484.9 73.4h0M549.3 56.8h0M465.9 79.8h0M456.7 72.3h0M511.8 79.1h0M487.4 82.0h0M479.4 73.9h0M529.9 51.3h0M488.5 84.1h0M477.8 71.4h0M493.5 69.8h0M510.9 45.8h0M531.2 67.9h0M508.7 54.0h0M522.5 67.5h0M452.5 69.6h0"/>
<path stroke="#5ef25e" stroke-width="2.40" d="M551.3 105.3h0M552.8 77.0h0M531.4 92.6h0M562.7 95.4h0M532.6 87.9h0M585.2 56.1h0M531.3 95.1h0M553.6 97.4h0M548.5 96.8h0M542.1 97.2h0M544.9 68.5h0M554.0 85.6h0M568.5 46.0h0M534.9 95.3h0M535.0 84.0h0M544.8 83.9h0M571.6 45.5h0M554.1 99.0h0M547.7 87.9h0M550.5 97.4h0M559.9 83.6h0M559.4 101.1h0M548.0 97.9h0M554.7 92.6h0M617.9 115.7h0M557.9 85.6h0M564.1 101.3h0M522.9 99.0h0M545.4 79.2h0M531.4 104.9h0M558.0 90.4h0M576.9 47.6h0M538.4 110.3h0M519.8 29.6h0M524.6 89.8h0M555.8 85.4h0M609.2 75.0h0M563.3 84.9h0M573.7 64.9h0M551.3 92.1h0"/>
<path stroke="#3a58b8" stroke-width="2.40" d="M523.4 69.7h0M459.3 64.7h0M464.2 71.8h0M546.4 71.7h0M537.4 62.7h0M491.7 63.3h0M476.2 68.6h0M538.1 63.5h0M525.5 41.5h0M522.1 37.0h0M527.9 35.3h0M536.1 67.4h0M514.0 90.5h0M538.4 60.4h0M526.2 35.7h0M467.7 63.8h0M496.1 53.5h0M454.2 56.3h0M524.8 41.4h0M465.1 65.2h0M467.8 56.0h0M542.3 56.9h0M484.1 89.0h0M526.5 65.7h0M460.7 65.6h0M505.9 90.7h0M456.2 77.0h0M609.9 70.7h0M446.4 70.0h0M495.4 43.9h0M469.7 66.6h0M623.5 121.4h0M485.1 69.5h0M555.1 70.9h0M445.9 55.5h0M454.8 48.4h0M515.5 63.1h0M480.6 41.4h0M453.2 56.6h0M517.9 45.1h0"/>
<path stroke="#3a58b8" stroke-width="2.40" d="M507.0 54.6h0M528.7 69.5h0M473.8 65.6h0M483.7 87.6h0M488.0 65.1h0M494.4 68.4h0M447.1 55.9h0M498.7 41.9h0M471.6 58.0h0M500.3 60.4h0M539.2 68.1h0M555.8 61.0h0M460.1 56.7h0M481.3 69.4h0M557.2 62.8h0M550.1 69.2h0M492.8 50.1h0M492.5 66.5h0M529.9 62.2h0M450.1 64.3h0M513.9 52.6h0M457.3 56.6h0M494.9 87.0h0M493.0 50.0h0M516.2 29.9h0M473.9 92.7h0M491.1 101.3h0M513.2 42.2h0M556.8 71.0h0M489.6 94.4h0M491.0 63.7h0M461.5 53.8h0M439.5 64.9h0M495.7 65.8h0M485.1 71.4h0M490.9 52.5h0M460.9 91.8h0M482.9 53.1h0M475.9 69.1h0M443.3 80.4h0"/>
<path stroke="#ee3c1e" stroke-width="2.40" d="M615.4 74.0h0M578.6 118.0h0M595.5 120.2h0M606.3 70.7h0M562.4 77.7h0M639.4 88.0h0M577.8 98.6h0M579.9 119.1h0M617.3 72.4h0M590.6 84.9h0M621.3 67.6h0M614.7 85.4h0M580.0 73.4h0M581.2 101.0h0M576.1 69.9h0M576.3 104.5h0M585.5 118.8h0M578.0 120.4h0M643.2 91.2h0M597.2 87.1h0M552.2 61.1h0M639.5 106.4h0M591.3 126.0h0M630.2 79.0h0M624.4 103.5h0M567.4 120.8h0M543.3 75.4h0M592.4 71.5h0M626.0 112.6h0M647.5 93.3h0M629.1 93.5h0M612.8 85.0h0M556.3 120.3h0M618.6 87.9h0M606.7 114.3h0M598.0 84.2h0M579.9 117.3h0M587.5 82.9h0M603.7 69.2h0M623.5 81.6h0"/>
<path stroke="#d8306f" stroke-width="2.40" d="M481.3 54.1h0M494.9 63.7h0M487.1 93.2h0M528.9 70.2h0M502.0 84.7h0M487.7 55.7h0M462.7 83.6h0M490.0 42.1h0M484.9 64.7h0M485.6 79.7h0M525.5 63.4h0M457.1 69.8h0M494.4 87.5h0M443.1 58.6h0M498.8 93.9h0M535.5 68.2h0M480.0 62.8h0M517.4 68.6h0M501.8 66.5h0M445.0 75.7h0M462.6 87.5h0M505.1 60.5h0M472.2 81.2h0M473.8 71.6h0M512.7 58.3h0M509.1 49.9h0M535.0 65.7h0M486.3 54.0h0M449.1 72.9h0M495.9 67.8h0M474.2 63.2h0M503.7 87.4h0M479.9 55.4h0M466.8 70.8h0M475.5 106.3h0M451.1 95.8h0M525.2 62.6h0"/>
<path stroke="#b57b90" stroke-width="2.40" d="M574.2 80.0h0M507.0 90.5h0M579.8 25.9h0M540.3 56.5h0M521.8 64.2h0M507.1 37.4h0M490.8 92.9h0M476.7 61.1h0M559.8 26.6h0M540.3 70.2h0M512.0 104.0h0M533.5 50.8h0M496.6 101.5h0M491.2 105.7h0M522.2 51.7h0M512.6 89.7h0M497.5 98.6h0M501.6 102.0h0M538.2 65.2h0M497.8 96.9h0M488.6 103.1h0M520.5 28.0h0M467.6 49.2h0M568.5 54.8h0M575.4 38.8h0M487.4 92.8h0M523.3 74.7h0M584.8 50.1h0M498.4 97.6h0M503.1 106.9h0M633.2 67.1h0M476.5 73.9h0M506.5 99.4h0M500.6 96.8h0M506.9 87.4h0M531.6 33.3h0M504.3 96.8h0M494.4 108.6h0M495.1 87.4h0M491.8 108.8h0"/>
<path stroke="#f3a7a7" stroke-width="2.40" d="M544.0 127.2h0M531.4 37.6h0M470.2 99.9h0M559.2 20.1h0M470.2 100.2h0M580.6 32.7h0M523.4 31.6h0M522.4 85.7h0M525.4 27.1h0M555.7 42.7h0M521.7 42.2h0M539.9 35.4h0M528.5 53.1h0M499.5 65.1h0M493.9 127.2h0M488.1 82.2h0M540.3 33.8h0M513.8 56.3h0M491.4 60.3h0M518.2 59.8h0M519.6 126.4h0M511.5 110.6h0M488.1 93.7h0M473.2 72.2h0M495.5 88.7h0M581.0 32.0h0M457.2 65.3h0M587.5 28.3h0M488.0 96.4h0M494.2 82.0h0M527.8 42.7h0M498.4 85.6h0M486.5 92.5h0M486.3 102.4h0M514.2 90.4h0M559.0 30.8h0M468.9 83.4h0M494.6 92.1h0M474.7 78.6h0M467.7 69.8h0"/>
<path stroke="#ee3c1e" stroke-width="2.40" d="M604.6 100.1h0M571.4 87.4h0M588.0 90.8h0M567.7 84.3h0M575.2 86.9h0M624.2 91.4h0M639.9 107.4h0M571.3 81.9h0M606.9 67.3h0M577.0 100.5h0M632.7 75.5h0M605.6 95.7h0M609.7 79.9h0M581.3 111.0h0M567.7 100.9h0M600.0 107.5h0M587.9 123.8h0M603.8 121.4h0M641.5 88.7h0M589.8 126.5h0M641.1 104.8h0M600.4 81.2h0M594.1 91.9h0M634.7 109.2h0M593.0 111.5h0M613.1 98.8h0M582.1 102.0h0M589.8 70.3h0M570.0 92.0h0M579.7 74.5h0M595.0 118.4h0M623.2 117.3h0M577.7 102.8h0M568.0 123.0h0M584.8 111.0h0M645.7 107.7h0M595.8 108.2h0M606.1 101.1h0M610.2 74.7h0M593.5 85.9h0"/>
<path stroke="#3f9e30" stroke-width="2.40" d="M510.2 30.1h0M513.8 47.0h0M507.6 29.5h0M480.4 35.6h0M465.8 42.5h0M485.9 32.2h0M502.0 27.8h0M464.5 42.9h0M457.2 55.0h0M488.5 32.4h0M446.3 58.2h0M471.3 36.2h0M505.9 29.9h0M495.2 57.1h0M470.3 36.4h0M471.0 39.8h0M501.6 30.5h0M508.4 31.7h0M514.2 32.1h0M456.3 47.1h0M475.3 34.9h0M461.0 35.7h0M447.4 46.1h0M457.1 45.1h0M500.6 30.0h0M492.9 32.6h0M487.3 33.7h0M495.4 30.9h0M502.6 26.8h0M483.9 35.5h0M485.7 30.9h0M450.2 51.1h0M509.4 27.3h0M464.6 44.5h0M487.4 33.8h0M492.8 26.6h0M501.2 28.6h0M510.6 29.7h0M483.3 35.6h0M510.5 33.8h0"/>
<path stroke="#957d66" stroke-width="2.40" d="M523.5 59.9h0M499.5 103.7h0M500.1 104.4h0M580.8 78.0h0M631.1 70.5h0M557.5 98.5h0M652.4 66.1h0M491.5 98.8h0M480.4 53.6h0M467.1 100.9h0M465.1 97.3h0M519.5 50.0h0M551.6 29.1h0M589.2 35.0h0M550.6 68.8h0M487.3 86.5h0M523.0 69.6h0M553.7 39.8h0M524.0 42.4h0M590.5 31.2h0M565.4 83.1h0M489.4 103.7h0M468.0 98.7h0M562.3 80.9h0M575.6 117.5h0M500.6 54.7h0M555.6 35.8h0M462.6 58.0h0M637.1 103.5h0M564.8 133.6h0M487.1 65.6h0M502.6 55.2h0M578.5 52.9h0M469.3 73.1h0M515.0 86.3h0M544.2 72.0h0M627.8 61.9h0M497.8 95.9h0M513.6 98.9h0M451.3 68.8h0"/>
<path stroke="#d63ad8" stroke-width="2.40" d="M478.6 76.8h0M504.5 103.1h0"/>
<path stroke="#4b2b82" stroke-width="2.40" d="M610.8 82.0h0M627.4 103.0h0M608.0 76.3h0M555.5 112.4h0M623.4 77.6h0M565.1 75.9h0M526.7 69.3h0M560.8 125.5h0M635.1 100.1h0M569.1 25.5h0M575.2 81.4h0M619.1 74.4h0M558.7 126.8h0M644.5 100.6h0M641.2 103.9h0M534.4 67.8h0M558.6 114.3h0M635.1 94.3h0M554.8 129.2h0M584.7 70.6h0M585.5 74.2h0M562.2 77.0h0M553.0 122.4h0M560.2 116.7h0M614.7 97.5h0M571.6 38.2h0M635.2 108.9h0M622.2 100.3h0M622.8 80.5h0M604.9 90.5h0M549.7 114.2h0M560.2 30.3h0M547.6 123.9h0M583.9 103.5h0M545.1 115.7h0M646.2 103.5h0M567.2 78.6h0M555.8 110.1h0M635.4 79.5h0M611.9 91.3h0"/>
<path stroke="#8f2a18" stroke-width="2.40" d="M472.8 73.4h0M467.3 63.7h0M567.7 21.6h0M460.7 70.4h0M484.2 80.9h0M506.4 94.4h0M567.8 33.9h0M495.4 55.6h0M505.3 56.8h0M583.1 32.7h0M544.3 68.2h0M477.7 69.2h0M495.3 96.5h0M490.0 88.7h0M548.5 72.9h0M487.6 76.7h0M553.7 68.6h0M514.0 45.6h0M495.8 44.9h0M483.2 62.7h0M575.3 25.2h0M480.2 86.6h0M503.7 98.4h0M492.7 105.4h0M436.9 55.7h0M472.2 55.9h0M487.9 91.1h0M523.0 71.7h0M537.4 73.2h0M479.0 59.7h0M539.6 66.5h0M464.6 60.5h0M544.0 65.2h0M547.6 69.9h0M463.1 65.7h0M521.0 55.2h0M549.8 72.2h0M507.7 96.4h0"/>
<path stroke="#b57b90" stroke-width="2.40" d="M498.1 107.5h0M516.4 33.8h0M576.6 22.6h0M499.1 102.8h0M551.9 40.8h0M578.5 62.4h0M535.4 128.8h0M508.7 90.2h0M536.0 121.2h0M506.6 93.0h0M484.1 81.2h0M541.5 44.7h0M459.3 82.8h0M483.4 88.0h0M497.0 110.6h0M538.5 70.5h0M502.2 103.6h0M529.7 122.1h0M521.8 43.9h0M572.0 82.7h0M518.6 37.6h0M475.7 116.9h0M523.1 64.9h0M524.1 73.3h0M508.2 101.2h0M560.1 63.1h0M513.5 81.6h0M549.4 64.8h0M496.6 77.6h0M502.4 102.6h0M607.9 64.4h0M456.8 87.4h0M497.5 102.6h0M483.3 84.8h0M533.9 130.2h0M510.9 36.5h0M516.8 44.3h0M449.3 78.1h0M490.3 114.8h0M618.3 118.1h0"/>
<path stroke="#3a58b8" stroke-width="2.40" d="M526.8 60.5h0M476.8 39.2h0M475.1 76.1h0M457.1 81.0h0M588.8 76.1h0M479.0 64.9h0M518.5 50.6h0M467.3 64.6h0M503.4 66.2h0M471.8 89.9h0M502.3 59.6h0M548.2 76.7h0M481.4 86.0h0M518.3 58.4h0M489.1 65.5h0M479.3 43.4h0M514.9 51.5h0M647.0 95.5h0M549.7 66.3h0M474.0 62.5h0M474.2 43.8h0M535.8 69.1h0M467.3 72.4h0M483.5 95.8h0M482.5 84.4h0M469.0 63.8h0M461.7 70.7h0M520.4 37.3h0M491.7 56.3h0M507.7 83.0h0M484.1 43.0h0M500.7 71.0h0M505.0 54.3h0M497.1 48.5h0M498.4 50.5h0M514.3 48.2h0M510.9 59.6h0M503.9 56.6h0M470.9 56.4h0M451.4 88.3h0"/>
<path stroke="#e2604c" stroke-width="2.40" d="M537.6 105.6h0M508.8 113.1h0M479.8 120.5h0M514.3 126.9h0M531.6 132.9h0M500.8 125.1h0M480.5 124.0h0M516.9 123.8h0M510.1 130.8h0M503.4 119.4h0M491.7 127.2h0M535.1 132.2h0M502.2 119.2h0M538.8 130.1h0M480.3 120.9h0M492.2 106.9h0M510.7 130.6h0M481.6 102.8h0M471.8 110.6h0M506.3 115.5h0M495.4 125.5h0M498.4 116.9h0M475.4 112.3h0M500.5 115.4h0M468.2 118.6h0M488.7 124.3h0M493.3 114.3h0M493.7 112.1h0M490.5 109.6h0M504.3 125.9h0M465.8 109.2h0M520.5 115.1h0M533.3 122.2h0M516.3 121.2h0M518.5 117.5h0M534.6 122.0h0M502.6 118.6h0M505.2 118.5h0M522.8 116.6h0M472.7 114.3h0"/>
<path stroke="#5ef25e" stroke-width="2.40" d="M556.1 88.3h0M527.6 98.1h0M548.0 88.3h0M570.1 89.0h0M530.7 107.0h0M526.5 103.4h0M533.4 85.5h0M542.5 109.2h0M536.2 91.0h0M568.0 82.8h0M545.5 105.1h0M583.4 52.5h0M543.0 89.0h0M533.2 78.5h0M551.2 105.2h0M558.6 83.6h0M535.5 97.4h0M547.2 82.8h0M533.0 92.8h0M543.1 94.6h0M537.1 102.2h0M548.8 87.6h0M539.7 82.3h0M563.9 93.9h0M537.5 33.4h0M529.2 101.1h0M571.0 47.4h0M523.6 82.9h0M601.3 113.7h0M535.8 99.5h0M579.6 47.7h0M550.5 99.0h0"/>
<path stroke="#ee3c1e" stroke-width="2.40" d="M595.6 94.1h0M644.9 98.8h0M583.9 70.2h0M626.7 89.5h0"/>
<path stroke="#ee3c1e" stroke-width="2.40" d="M631.3 79.5h0M622.8 82.6h0M612.9 71.2h0M571.4 124.3h0M595.9 120.1h0M641.5 96.1h0M613.0 111.4h0M593.0 81.6h0M609.5 111.6h0M580.5 73.3h0M594.2 71.7h0M639.2 93.9h0M620.6 102.1h0M644.8 92.5h0M580.5 104.2h0M586.6 72.7h0M565.3 25.0h0M581.2 104.4h0M644.0 92.7h0M618.5 96.1h0M605.6 87.5h0M599.1 78.1h0M581.2 72.9h0M634.4 100.6h0M600.5 72.6h0M598.5 104.8h0M571.2 93.7h0M591.2 127.7h0M584.8 93.8h0M561.6 116.3h0M617.1 119.6h0M569.1 114.0h0M598.7 72.0h0M602.4 96.0h0M579.3 86.6h0M573.6 114.5h0M574.9 111.9h0M600.4 73.3h0M634.6 84.4h0M602.0 112.9h0"/>
<path stroke="#8fb5d3" stroke-width="2.40" d="M496.6 76.2h0M543.4 70.7h0M471.8 67.6h0M535.1 63.1h0M503.9 45.4h0M658.4 67.8h0M532.4 66.1h0M527.4 55.8h0M571.2 55.9h0M469.4 74.8h0M539.9 58.3h0M487.7 65.8h0M556.2 72.5h0M472.3 84.3h0M454.8 58.2h0M519.9 73.2h0M636.3 63.4h0M627.7 61.8h0M510.0 54.4h0M458.0 84.8h0M532.1 58.2h0M514.4 92.1h0M543.1 74.1h0M510.3 54.6h0M450.7 69.2h0M472.8 77.0h0M463.8 66.5h0M531.2 76.8h0M554.7 62.7h0M653.4 68.9h0M617.2 69.2h0M475.8 61.7h0M474.7 56.0h0"/>
<path stroke="#3a58b8" stroke-width="2.40" d="M451.3 67.6h0M528.3 26.7h0M511.2 45.8h0M463.7 58.2h0M447.1 70.2h0M511.4 82.5h0M520.7 46.5h0M504.7 71.6h0M520.2 64.9h0M537.3 74.8h0M501.1 93.9h0M517.7 52.3h0M480.1 58.4h0M439.7 61.2h0M490.7 68.3h0M477.8 59.8h0M453.6 54.3h0M461.7 77.7h0M497.3 49.3h0M538.2 61.6h0M616.7 118.3h0M449.5 59.1h0M521.8 61.1h0M531.4 53.9h0M480.7 68.5h0M490.5 67.0h0M540.2 69.7h0M625.2 92.9h0M564.5 60.5h0M529.2 82.7h0M480.9 88.7h0M530.1 41.4h0M495.2 60.5h0M517.5 88.7h0M522.8 75.1h0M466.5 88.2h0M512.7 44.1h0M498.5 45.7h0M486.8 45.6h0M457.2 59.3h0"/>
<path stroke="#5ef25e" stroke-width="2.40" d="M535.2 99.1h0M551.4 105.5h0M527.7 96.2h0M571.9 83.5h0M528.7 96.0h0M562.7 88.6h0M528.0 101.5h0M550.2 85.5h0M565.2 88.8h0M535.2 104.1h0M562.3 96.6h0M561.8 97.2h0M541.9 83.8h0M568.2 90.3h0M552.6 95.4h0M543.5 99.4h0M542.6 80.1h0M546.5 105.1h0M523.8 94.7h0M538.4 101.2h0M567.9 86.8h0M552.9 90.9h0M538.6 95.3h0M528.8 103.8h0M543.0 89.3h0M532.5 88.2h0M531.7 88.8h0M574.2 100.0h0M574.6 51.2h0M622.5 94.0h0M533.6 106.0h0M532.2 59.1h0M537.2 82.1h0M542.6 107.5h0M561.8 102.8h0M533.6 102.6h0M536.5 93.3h0M539.0 40.4h0M564.5 89.9h0M543.6 67.6h0"/>
<path stroke="#3a58b8" stroke-width="2.40" d="M467.8 48.6h0M517.8 59.7h0M458.3 60.5h0M466.9 62.5h0M530.1 60.7h0M491.1 63.7h0M642.4 94.1h0M500.1 82.8h0M468.2 71.6h0M510.2 60.9h0M491.6 41.2h0M488.3 49.3h0M464.5 71.2h0M455.6 66.2h0M482.5 57.1h0M494.7 94.9h0M513.9 56.1h0M473.6 63.4h0M537.8 61.4h0M547.1 73.1h0M465.4 71.2h0M534.4 73.2h0M469.6 69.1h0M455.7 87.8h0M525.3 46.4h0M469.5 73.0h0M536.5 62.8h0M454.1 84.9h0M522.4 32.3h0M548.6 86.7h0M499.9 64.7h0M478.7 42.0h0M459.4 55.0h0M471.2 62.7h0M604.7 125.3h0M502.0 94.6h0M508.5 59.6h0M446.6 56.0h0M469.7 66.2h0M495.1 62.5h0"/>
<path stroke="#d63ad8" stroke-width="2.40" d="M469.1 93.9h0M503.6 95.3h0M455.0 102.4h0M472.1 94.2h0M465.5 96.4h0M479.5 71.6h0M471.0 44.6h0M471.2 88.1h0M471.8 99.3h0M466.8 63.4h0M498.1 63.3h0M474.0 64.2h0M542.9 78.5h0M474.6 92.3h0M510.6 85.5h0M514.5 93.1h0M493.8 52.1h0M486.9 87.7h0M521.7 83.1h0M489.7 90.8h0M457.9 80.5h0M483.6 80.3h0M478.4 85.7h0M459.2 97.2h0M495.7 65.2h0M455.3 82.4h0M464.4 105.3h0M489.7 82.7h0M519.3 87.2h0M462.9 59.8h0M473.0 76.1h0M510.0 69.0h0M535.1 86.0h0M486.7 100.9h0M506.9 92.8h0M468.6 83.3h0M452.9 92.6h0M490.5 82.6h0M473.6 97.4h0M530.7 55.7h0"/>
<path stroke="#ee3c1e" stroke-width="2.40" d="M574.7 116.7h0M647.1 93.7h0M611.4 105.4h0M571.8 115.0h0M594.8 78.6h0M553.9 128.7h0M571.8 87.2h0M648.5 99.7h0M581.1 103.8h0M570.9 77.3h0M640.3 109.6h0M588.2 74.5h0M613.2 98.4h0M583.0 100.4h0M581.3 118.6h0M580.2 124.8h0M621.5 111.0h0M647.3 88.1h0M572.5 71.9h0M641.0 106.1h0M627.5 89.5h0M618.5 74.6h0M606.2 107.2h0M631.9 102.7h0M604.2 112.0h0M644.4 64.6h0M607.4 93.0h0M564.7 23.4h0M559.4 65.7h0M596.5 102.0h0M646.9 105.4h0M619.7 82.5h0M568.8 113.4h0M636.6 88.4h0M632.9 97.4h0M581.5 77.6h0M596.4 81.1h0M607.5 76.0h0M568.1 94.1h0M570.8 123.5h0"/>
<path stroke="#8fb5d3" stroke-width="2.40" d="M538.9 65.7h0M472.0 91.2h0M651.5 65.8h0M469.3 55.2h0M605.7 69.9h0M583.5 47.2h0M482.1 89.3h0M460.2 77.3h0M476.2 65.0h0M443.3 72.2h0M575.3 53.8h0M498.6 53.2h0M489.7 55.4h0M482.0 66.4h0M620.3 63.6h0M644.7 68.5h0M553.2 69.8h0M651.4 65.4h0M653.1 68.4h0M523.1 73.1h0M446.0 83.6h0M472.0 66.5h0M522.0 66.2h0M472.1 63.5h0M512.3 63.7h0M485.3 56.7h0M457.5 52.9h0M480.3 60.6h0M618.1 67.5h0M572.4 52.8h0M525.6 75.1h0M492.4 58.7h0M566.4 56.4h0M463.4 57.1h0M532.4 63.7h0M461.8 74.1h0M502.7 76.3h0M496.9 54.9h0M526.7 89.9h0M629.8 69.1h0"/>
<path stroke="#ee3c1e" stroke-width="2.40" d="M607.4 112.7h0M606.9 96.1h0M602.1 107.8h0M596.3 99.0h0M570.1 117.5h0M592.1 93.5h0M633.9 97.2h0M600.1 122.5h0M647.4 96.9h0M575.3 35.6h0M630.7 115.2h0M606.6 83.3h0M615.0 106.3h0M607.8 76.1h0M566.3 73.9h0M622.6 91.9h0M647.8 90.0h0M483.2 87.9h0M602.9 93.5h0M622.3 100.8h0M573.9 117.4h0M562.5 98.0h0M601.2 71.9h0M592.1 83.0h0M587.4 90.3h0M591.0 118.6h0M565.4 124.8h0M613.8 113.7h0M637.5 102.4h0M579.5 92.1h0M634.7 101.9h0M590.1 120.9h0M630.9 104.8h0M594.6 82.6h0M597.5 91.9h0M622.9 90.1h0M632.9 104.1h0M589.1 68.3h0M614.8 71.5h0M635.3 99.0h0"/>
<path stroke="#5ef25e" stroke-width="2.40" d="M560.2 86.1h0M568.9 84.3h0M540.8 88.8h0M519.4 52.4h0M552.2 88.5h0M531.2 41.3h0M572.9 52.0h0M535.6 106.1h0M549.8 89.8h0M565.0 79.4h0M561.4 92.6h0M533.9 85.1h0M525.4 90.3h0M562.7 89.7h0M563.6 90.4h0M544.4 90.5h0M571.3 91.9h0M574.0 62.0h0M531.9 91.5h0M542.0 77.7h0M525.6 95.6h0M541.0 80.2h0M540.6 98.4h0M539.7 83.0h0M534.5 88.9h0M554.2 63.9h0M538.0 101.3h0M550.2 40.9h0M554.8 104.3h0M537.6 110.8h0M562.4 88.4h0M575.0 51.0h0M558.7 96.3h0M545.0 87.7h0M559.1 89.0h0M525.4 104.4h0M580.8 51.9h0M547.4 87.1h0M522.7 96.4h0M540.7 94.9h0"/>
<path stroke="#957d66" stroke-width="2.40" d="M519.2 49.7h0M512.0 118.9h0M574.3 30.7h0M487.6 103.5h0M468.0 47.8h0M497.8 107.6h0M527.0 68.9h0M527.7 42.4h0M568.5 93.6h0M541.7 76.7h0M566.6 47.4h0M500.5 58.1h0M581.7 34.7h0M528.1 71.8h0M459.3 92.5h0M537.4 33.6h0M575.3 58.5h0M528.0 84.1h0M528.3 90.2h0M529.2 84.4h0M483.3 54.1h0M590.6 87.5h0M467.2 95.7h0M450.5 61.4h0M509.3 79.4h0M476.4 94.7h0M473.3 120.5h0M609.2 107.6h0M606.7 105.5h0M517.5 44.3h0M474.6 47.5h0M549.6 117.5h0M501.3 87.0h0M469.3 53.9h0M628.7 84.8h0M498.5 111.4h0M484.9 80.2h0M463.9 59.9h0M574.4 59.8h0M487.9 92.3h0"/>
<path stroke="#ee3c1e" stroke-width="2.40" d="M595.3 66.5h0M581.7 127.2h0M625.8 112.2h0M568.5 119.3h0M609.3 107.9h0M583.0 126.0h0M636.7 109.1h0M608.8 68.4h0M651.0 102.1h0M586.9 106.8h0M596.1 125.0h0M650.1 100.1h0M586.5 110.3h0M586.1 83.3h0M654.3 103.5h0M642.4 100.4h0M572.5 92.3h0M586.8 72.6h0M571.3 96.6h0M619.2 85.1h0M560.2 91.1h0M601.4 97.9h0M623.0 116.6h0M636.6 82.6h0M559.1 93.6h0M566.9 77.8h0M614.5 94.5h0M606.5 108.0h0M602.5 107.7h0M599.8 106.3h0M626.6 69.3h0M588.7 128.4h0M581.7 116.0h0M600.5 127.1h0M592.4 86.6h0M617.2 91.5h0M592.4 68.3h0M570.9 81.9h0M590.6 93.3h0M586.6 116.6h0"/>
<path stroke="#957d66" stroke-width="2.40" d="M481.6 63.0h0M488.2 82.5h0M550.9 29.9h0M552.7 25.9h0M522.1 117.7h0M458.0 77.6h0M569.2 122.2h0M565.1 125.3h0M629.5 63.7h0M537.6 74.3h0M453.5 80.6h0M468.9 75.0h0M490.8 68.8h0M512.9 88.6h0M470.1 47.4h0M549.6 71.3h0M566.2 115.1h0M570.0 50.0h0M571.6 93.0h0M566.9 130.5h0M470.9 74.1h0M516.3 84.6h0M569.4 20.6h0M471.3 99.8h0M520.5 40.7h0M551.8 83.7h0M466.6 44.8h0M494.8 105.3h0M571.9 91.2h0M514.3 89.6h0M501.0 85.4h0M568.1 104.8h0M521.2 42.6h0M479.2 61.3h0M473.9 115.4h0M570.5 96.5h0M641.4 70.8h0M591.9 97.9h0M481.7 57.3h0M525.9 71.4h0"/>
<path stroke="#8f2a18" stroke-width="2.40" d="M461.6 52.7h0M526.0 61.3h0M460.8 73.3h0M506.7 102.7h0M570.7 27.6h0M499.1 84.8h0M533.0 64.7h0M525.1 76.9h0M453.9 75.0h0M476.0 67.7h0M503.3 107.1h0M466.0 46.8h0M576.5 31.4h0M493.2 82.9h0M523.4 66.5h0M496.0 104.3h0M502.3 102.7h0M477.0 97.8h0M548.7 66.0h0M502.1 110.8h0M575.2 30.8h0M500.1 55.1h0M473.8 62.9h0M491.0 79.4h0M495.7 96.8h0M493.1 84.3h0M515.4 69.7h0M457.9 61.3h0M467.1 68.9h0M497.2 71.3h0M518.6 83.2h0M488.3 106.6h0M486.1 93.3h0M496.3 103.0h0M515.2 48.4h0M501.1 85.4h0M449.8 78.1h0M499.6 56.8h0M486.6 72.4h0M536.2 69.5h0"/>
<path stroke="#8f2a18" stroke-width="2.40" d="M488.6 69.5h0M482.8 91.5h0M490.9 86.5h0M529.7 81.2h0M499.6 49.6h0M453.4 70.1h0M494.3 79.9h0M499.0 104.5h0M540.8 66.3h0M531.2 75.2h0M550.0 60.0h0M495.3 95.3h0M535.6 75.3h0M460.9 65.5h0M487.9 67.0h0M493.4 99.8h0M462.4 93.0h0M534.6 80.9h0M544.8 70.3h0M513.2 71.2h0M489.3 87.4h0M492.8 97.0h0M471.0 64.0h0M511.4 94.0h0M461.6 89.3h0M525.0 49.4h0M465.8 86.5h0M489.4 86.5h0M507.5 104.3h0M486.6 100.1h0M504.3 85.0h0M483.8 48.2h0M462.7 84.9h0M495.5 109.2h0M535.0 70.7h0M539.0 70.4h0M505.6 63.6h0M485.0 77.2h0M453.8 54.8h0M498.6 63.0h0"/>
<path stroke="#b57b90" stroke-width="2.40" d="M584.2 51.5h0M544.2 62.7h0M503.2 113.9h0M494.8 98.1h0M522.8 63.1h0M502.3 96.8h0M501.0 105.9h0M524.1 74.6h0M471.2 87.2h0M498.2 107.1h0M495.0 99.1h0M581.9 60.2h0M526.5 62.0h0M490.8 106.0h0M513.3 87.5h0M498.0 68.0h0M574.6 88.2h0M502.7 102.4h0M501.1 101.9h0M477.0 87.2h0M494.7 105.9h0M588.2 122.3h0M535.5 44.8h0M481.6 91.9h0M502.8 88.4h0M552.6 21.1h0M496.2 105.8h0M609.9 96.8h0M496.8 98.2h0M465.4 98.5h0M510.9 122.1h0M516.8 52.0h0M541.3 57.7h0M456.7 94.0h0M501.9 100.7h0M516.6 34.5h0M505.5 102.4h0M525.9 71.4h0M500.9 100.4h0M495.3 97.0h0"/>
<path stroke="#ee3c1e" stroke-width="2.40" d="M598.0 70.0h0M589.4 75.6h0M625.6 72.9h0M606.1 99.2h0M520.3 66.8h0M560.6 123.1h0M602.7 72.0h0M574.6 101.4h0M534.1 58.7h0M576.7 88.7h0M600.1 112.6h0M599.1 107.5h0M602.6 97.8h0M572.3 103.2h0M585.0 105.2h0M603.7 89.5h0M627.7 108.5h0M617.2 92.6h0M642.4 91.5h0M615.7 75.9h0M635.3 87.1h0M561.7 84.5h0M623.5 99.9h0M646.8 89.9h0M627.4 85.3h0M649.7 89.0h0M626.6 79.5h0M572.5 119.6h0M613.0 88.6h0M583.4 115.9h0M609.8 83.1h0M589.9 91.6h0M579.7 120.6h0M608.8 103.4h0M595.0 91.9h0M584.2 124.7h0M578.9 102.2h0M572.3 79.2h0M600.2 95.2h0M579.2 78.4h0"/>
<path stroke="#ee3c1e" stroke-width="2.40" d="M610.8 84.7h0M646.5 93.8h0M587.1 69.4h0M586.4 115.3h0M585.1 109.1h0M628.7 116.6h0M580.9 124.7h0M620.8 91.6h0M591.8 84.2h0M579.6 120.0h0M598.9 123.9h0M585.0 120.6h0M604.2 85.3h0M581.5 85.2h0M590.9 113.3h0M623.8 108.2h0M587.6 74.6h0M650.8 94.5h0M642.9 95.7h0M469.1 92.5h0M561.5 84.2h0M567.2 117.4h0M638.3 82.5h0M568.4 110.1h0M584.7 110.6h0M602.3 73.0h0M625.5 116.1h0M574.1 121.3h0M627.2 79.1h0M590.0 97.9h0M610.7 80.4h0M627.3 74.3h0M631.9 101.3h0M604.5 117.8h0M597.2 121.5h0M632.5 106.0h0M579.8 87.0h0M575.3 100.2h0M566.3 106.7h0M618.6 74.9h0"/>
<path stroke="#82f0c8" stroke-width="2.40" d="M469.2 87.2h0M550.3 31.0h0M527.7 46.0h0M531.3 41.1h0M459.3 87.7h0M457.6 76.9h0M514.4 47.8h0M481.9 51.1h0M513.1 38.5h0M523.8 66.6h0M545.7 60.0h0M559.8 126.9h0M527.1 46.0h0M529.2 32.5h0M464.0 71.3h0M474.3 88.6h0M554.7 126.0h0M483.3 92.8h0M519.5 47.3h0M596.9 65.9h0M569.0 94.4h0M544.7 47.2h0M509.1 46.3h0M520.1 96.0h0M499.2 91.5h0M611.8 70.5h0M527.6 41.2h0M545.1 41.0h0M545.9 93.5h0M539.5 74.8h0M522.2 40.9h0M502.2 66.2h0M535.2 64.9h0M530.2 44.2h0M576.4 36.5h0M527.4 70.9h0M541.3 34.2h0M508.9 43.5h0M528.9 64.0h0M537.5 34.2h0"/>
<path stroke="#82f0c8" stroke-width="2.40" d="M511.7 80.7h0M448.2 65.6h0M526.6 48.6h0M541.3 69.7h0M524.4 52.1h0M559.0 102.7h0M551.1 30.6h0M538.2 34.1h0M549.9 65.6h0M524.8 34.4h0M556.8 85.7h0M532.9 111.5h0M569.9 24.6h0M528.0 84.6h0M535.8 60.7h0M521.9 31.2h0M526.6 43.8h0M515.3 30.7h0M556.4 46.7h0M607.4 66.0h0M476.9 83.1h0M532.9 29.1h0M541.2 44.2h0M515.8 49.9h0M532.2 114.0h0M552.5 36.4h0M463.5 99.8h0M553.2 40.7h0M448.5 83.1h0M539.3 31.5h0M546.2 107.8h0M524.5 118.1h0M490.5 84.5h0M530.9 29.5h0M510.0 85.9h0M554.2 25.4h0M544.4 35.1h0M517.4 35.5h0M521.2 111.8h0M545.6 73.3h0"/>
<path stroke="#e2604c" stroke-width="2.40" d="M504.1 120.6h0M500.9 126.1h0M521.0 119.5h0M534.3 120.5h0M517.5 108.8h0M503.8 122.1h0M495.1 110.6h0M502.1 103.2h0M516.4 112.6h0M509.1 123.3h0M539.5 128.9h0M537.3 116.9h0M533.5 132.6h0M505.4 113.2h0M485.2 121.8h0M539.0 124.8h0M528.6 112.5h0M500.7 112.6h0M484.4 114.1h0M523.6 114.7h0M494.3 107.2h0M488.5 100.2h0M482.4 104.5h0M485.2 111.1h0M489.3 105.1h0M511.0 129.0h0M474.3 110.4h0M482.7 116.1h0M489.5 127.0h0M523.6 131.9h0M494.1 108.5h0M496.0 119.3h0M525.5 124.4h0M523.3 112.5h0M484.3 107.8h0M507.8 125.2h0M472.3 113.5h0M483.5 114.6h0M470.4 112.6h0M472.8 114.6h0"/>
<path stroke="#141414" stroke-width="2.40" d="M540.3 104.5h0M519.4 29.4h0M465.0 82.6h0M487.5 50.7h0M484.0 52.4h0M516.5 89.6h0M511.2 50.2h0M479.1 113.2h0M491.7 65.8h0M500.2 87.3h0M479.3 92.2h0M476.9 70.8h0M527.3 38.6h0M533.5 66.3h0M511.6 48.3h0M493.8 65.7h0M567.1 86.3h0M519.7 74.5h0M564.1 114.1h0M558.6 62.1h0M524.4 69.4h0M504.6 120.5h0M525.3 77.7h0M510.0 45.3h0M620.5 68.3h0M481.0 66.3h0M532.5 74.3h0M504.3 68.3h0M537.5 78.6h0M529.0 52.1h0M519.4 66.4h0M484.0 59.0h0M521.9 59.6h0M459.9 84.1h0M503.8 67.5h0M455.3 64.1h0M485.2 58.6h0M499.3 101.8h0M479.3 95.5h0M518.4 72.5h0"/>
<path stroke="#e2604c" stroke-width="2.40" d="M511.4 125.6h0M514.8 116.2h0M516.4 125.1h0M514.7 129.8h0M526.0 118.1h0M501.6 106.4h0M504.9 103.5h0M499.8 123.8h0M494.0 125.2h0M494.7 117.6h0M512.9 127.3h0M508.0 114.8h0M510.0 116.8h0M502.1 121.6h0M487.7 116.0h0M477.6 122.1h0M524.7 129.0h0M527.4 129.5h0M522.1 115.5h0M512.0 118.0h0M483.4 122.8h0M532.5 118.8h0M487.2 116.4h0M523.0 122.4h0M502.1 109.0h0M502.6 112.0h0M510.9 120.2h0M507.8 119.0h0M493.1 108.6h0M513.7 107.5h0M505.2 108.7h0M485.3 112.4h0M504.4 119.2h0M510.6 116.1h0M502.8 125.5h0M486.7 106.5h0M499.4 111.4h0M505.8 120.5h0M524.7 126.2h0M536.3 129.5h0"/>
<path stroke="#5ef25e" stroke-width="2.40" d="M564.0 98.0h0M566.5 56.1h0M546.4 65.7h0M580.8 59.6h0M546.0 83.9h0M533.6 92.5h0M559.6 100.8h0M550.6 38.1h0M524.0 103.1h0M535.1 103.5h0M540.7 95.6h0M543.6 99.5h0M582.8 58.4h0M523.4 92.3h0M533.6 83.2h0M544.8 98.5h0M559.8 93.1h0M566.1 52.5h0M539.1 109.7h0M562.1 83.5h0M558.2 87.6h0M558.8 90.9h0M532.2 101.6h0M565.8 80.0h0M567.1 98.0h0M536.5 100.6h0M552.3 75.6h0M561.3 86.4h0M564.3 97.8h0M550.1 82.0h0M551.3 86.1h0M564.7 86.7h0M560.2 92.8h0M552.3 81.3h0M538.8 96.2h0M531.8 104.3h0M536.4 91.7h0M545.4 92.2h0M540.0 91.4h0M526.1 72.0h0"/>
<path stroke="#6af0f0" stroke-width="2.40" d="M465.4 81.0h0M528.5 117.1h0M529.9 116.7h0M521.0 120.6h0M515.9 113.0h0M487.3 55.7h0M541.7 109.7h0M463.4 101.9h0M469.0 89.9h0M517.7 112.6h0M487.0 92.7h0M543.0 58.7h0M536.3 104.6h0M517.8 118.4h0M546.0 64.8h0M501.6 92.9h0M543.9 112.6h0M534.4 113.0h0M520.9 48.6h0M508.0 93.1h0M533.7 109.4h0M523.2 112.4h0M532.3 79.3h0M470.5 83.7h0M526.3 108.3h0M533.1 105.0h0M497.8 87.5h0M524.5 110.6h0M522.7 103.6h0M473.3 99.9h0M540.9 67.4h0M526.1 106.5h0M540.7 112.9h0M523.1 110.6h0M539.2 69.2h0M483.4 86.4h0M492.0 100.2h0M504.3 89.4h0M543.5 111.1h0M506.2 76.1h0"/>
<path stroke="#82f0c8" stroke-width="2.40" d="M512.1 36.6h0M562.9 67.2h0M471.4 98.8h0M506.0 38.5h0M552.3 70.2h0M525.0 96.8h0M539.6 75.6h0M535.2 38.0h0M532.6 66.1h0M563.0 93.8h0M489.3 87.2h0M532.8 86.5h0M511.5 41.5h0M546.9 82.0h0M547.3 101.3h0M464.4 78.1h0M551.1 103.1h0M504.2 37.9h0M568.4 35.6h0M448.6 80.9h0M481.1 85.3h0M499.7 82.3h0M542.3 65.3h0M556.7 73.5h0M537.3 85.3h0M523.9 53.0h0M556.3 40.1h0M543.4 88.8h0M526.1 75.6h0M556.0 66.2h0M518.6 91.6h0M524.4 40.7h0M516.8 38.3h0M451.9 86.6h0M517.5 41.8h0M538.4 48.6h0M530.4 98.0h0M541.2 91.6h0M525.7 105.0h0M511.9 43.2h0"/>
<path stroke="#4b2b82" stroke-width="2.40" d="M573.2 120.6h0M561.4 121.7h0M564.9 34.2h0M628.3 112.0h0M626.8 99.2h0M559.2 127.3h0M554.5 119.3h0M598.9 81.5h0M591.5 116.9h0M542.0 69.5h0M639.5 104.9h0M594.2 38.2h0M589.0 36.5h0M596.1 100.3h0M553.8 117.0h0M627.5 74.3h0M567.2 114.0h0M613.7 70.6h0M589.3 90.9h0M546.7 74.1h0M625.3 109.2h0M563.8 22.1h0M582.2 78.0h0M569.6 119.0h0M563.3 32.0h0M607.0 102.4h0M631.9 87.1h0M566.0 97.0h0M584.7 128.4h0M568.7 126.3h0M613.0 109.9h0M541.8 67.9h0M547.7 123.6h0M565.0 81.7h0M587.7 108.7h0M638.1 80.1h0M558.5 117.3h0M606.8 87.0h0M631.6 90.2h0M613.5 79.3h0"/>
<path stroke="#5ef25e" stroke-width="2.40" d="M541.5 90.5h0M560.4 95.8h0M539.2 97.0h0M531.9 83.8h0M550.3 103.9h0M627.9 88.9h0M559.4 100.0h0M526.7 88.4h0M565.2 94.8h0M533.7 83.2h0M546.0 108.1h0M559.7 84.6h0M542.0 89.9h0M547.8 100.6h0M571.5 64.6h0M560.7 83.7h0M550.1 98.9h0M542.7 98.4h0M563.0 82.0h0M550.7 92.3h0M547.1 83.9h0M541.3 97.7h0M561.2 89.0h0M546.8 101.1h0M567.5 88.6h0M536.3 83.1h0M566.6 87.3h0M584.2 55.3h0M514.3 43.7h0M531.2 104.6h0M555.2 83.4h0M564.3 82.5h0M572.1 64.0h0M528.0 90.2h0M563.0 90.3h0M539.8 62.8h0M546.1 84.9h0M558.9 88.2h0M544.3 82.6h0M549.1 91.0h0"/>
<path stroke="#5ef25e" stroke-width="2.40" d="M582.9 54.7h0M549.6 88.7h0M544.4 91.9h0M559.6 84.1h0M573.9 63.8h0M541.5 79.8h0M562.5 83.0h0M547.2 44.8h0M542.6 100.7h0M562.0 95.3h0M560.9 84.3h0M533.6 101.6h0M532.2 84.4h0M558.1 95.9h0M546.0 76.2h0M536.4 94.9h0M550.7 82.4h0M541.6 79.0h0M577.9 58.7h0M576.9 56.9h0M550.7 93.2h0M583.1 47.6h0M555.7 48.3h0M546.2 85.7h0M562.3 91.7h0M527.6 84.7h0M597.9 80.9h0M554.4 104.5h0M542.7 101.5h0M531.7 104.7h0M526.1 86.4h0M552.6 83.2h0M552.0 98.5h0M577.5 63.8h0M566.2 93.8h0M558.2 91.7h0M563.9 85.5h0M553.2 89.3h0M531.8 102.5h0M556.3 87.0h0"/>
<path stroke="#ee3c1e" stroke-width="2.40" d="M598.9 113.2h0M561.5 110.3h0M534.5 73.7h0M600.2 119.9h0M534.3 72.0h0M598.1 106.4h0M579.6 119.3h0M596.7 88.9h0M569.1 95.0h0M626.9 99.1h0M583.7 83.2h0M585.0 115.4h0M624.3 84.3h0M628.4 77.7h0M620.4 115.8h0M589.1 79.5h0M584.9 109.5h0M599.3 119.3h0M561.6 116.7h0M633.6 74.3h0M623.6 106.5h0M566.8 83.2h0M592.4 110.0h0M572.3 101.6h0M596.9 111.9h0M576.8 112.3h0M643.7 108.9h0M601.6 92.4h0M617.9 102.6h0M594.9 98.0h0M601.4 124.0h0M645.8 93.8h0M563.6 120.5h0M584.2 113.3h0M594.6 120.6h0M613.1 81.0h0M586.3 119.7h0M566.4 82.0h0M585.2 99.9h0M597.2 120.2h0"/>
<path stroke="#f2d22c" stroke-width="2.40" d="M480.6 82.2h0M527.1 75.5h0M476.5 66.3h0M484.3 67.1h0M479.2 93.7h0M492.7 99.6h0M514.3 88.6h0M506.1 88.2h0M517.5 61.7h0M534.9 53.5h0M472.6 90.6h0M490.5 80.5h0M508.7 92.2h0M518.7 56.3h0M521.8 97.7h0M490.0 77.7h0M483.1 83.3h0M522.9 54.5h0M484.9 90.7h0M449.6 76.2h0"/>
<path stroke="#3a58b8" stroke-width="2.40" d="M457.4 64.1h0M539.3 72.2h0M460.7 63.6h0M486.6 89.0h0M498.6 60.7h0M511.1 56.3h0M511.7 68.4h0M546.2 70.5h0M551.2 60.7h0M464.8 58.2h0M506.3 97.0h0M527.9 87.6h0M495.1 59.1h0M518.9 93.4h0M464.5 90.1h0M483.4 41.9h0M450.5 66.0h0M481.5 42.5h0M466.0 63.2h0M572.1 126.5h0M506.2 75.1h0M488.7 53.4h0M488.9 44.0h0M468.4 74.4h0M479.3 57.2h0M489.2 42.6h0M472.0 62.6h0M450.3 61.7h0M523.1 39.8h0M452.6 62.7h0M517.7 84.5h0M514.5 90.5h0M541.1 50.4h0M468.1 65.3h0M502.5 103.9h0M457.0 83.6h0M537.8 62.9h0M534.9 68.5h0M442.2 60.3h0M470.6 65.5h0"/>
<path stroke="#d63ad8" stroke-width="2.40" d="M494.8 54.9h0M489.4 58.9h0M492.7 93.0h0M475.7 81.9h0M453.9 103.7h0M533.2 55.8h0M487.0 49.2h0M474.2 100.1h0M461.6 104.4h0M528.1 74.6h0M472.6 103.1h0M494.1 93.2h0M475.6 53.5h0M531.7 74.1h0M492.3 86.3h0M448.6 58.9h0M460.5 99.1h0M479.5 86.1h0M464.2 98.5h0M482.5 62.1h0M501.0 55.7h0M519.6 57.9h0M538.3 58.5h0M511.2 95.3h0M476.2 98.7h0M467.0 49.3h0M482.0 92.7h0M533.9 62.1h0M465.1 107.8h0M466.0 95.6h0M540.5 77.8h0M463.3 92.1h0M522.6 85.8h0M469.1 86.6h0M484.7 64.6h0M492.9 84.5h0M503.1 99.1h0M467.6 94.4h0M481.8 84.6h0M474.3 63.9h0"/>
<path stroke="#ee3c1e" stroke-width="2.40" d="M567.9 121.1h0M591.0 111.0h0M574.6 75.7h0M573.2 81.7h0M610.2 99.8h0M640.7 95.0h0M584.7 115.8h0M578.1 84.6h0M606.7 84.1h0M621.5 89.2h0M575.5 79.8h0M604.9 101.2h0M640.8 98.3h0M588.0 79.6h0M599.5 111.0h0M609.8 79.7h0M570.0 107.2h0M637.3 73.8h0M563.7 82.4h0M623.0 85.3h0M618.1 83.7h0M633.6 110.3h0M610.9 76.1h0M566.5 84.1h0M577.5 119.2h0M648.9 93.2h0M598.3 114.1h0M606.6 77.5h0M586.9 88.4h0M637.5 106.0h0M576.8 84.4h0M577.3 114.4h0M569.2 113.6h0M592.4 100.9h0M639.0 102.8h0M638.4 85.4h0M589.5 117.6h0M631.0 90.2h0M640.1 103.5h0M649.2 100.3h0"/>
<path stroke="#5ef25e" stroke-width="2.40" d="M573.2 58.5h0M559.4 104.0h0M529.9 84.7h0M532.9 112.8h0M530.8 83.1h0M541.3 105.4h0M569.9 89.2h0M539.7 86.7h0M561.0 81.3h0M529.1 88.0h0M529.2 103.7h0M576.9 101.8h0M541.1 105.5h0M534.1 59.8h0M510.9 70.7h0M563.6 92.9h0M525.1 38.9h0M566.8 59.8h0M530.8 68.5h0M583.1 54.3h0M546.5 102.5h0M547.8 78.9h0M523.0 27.7h0M564.1 87.6h0M560.9 83.8h0M549.0 79.2h0M534.8 101.4h0M541.5 88.1h0M542.1 98.9h0M552.5 106.1h0M543.0 92.2h0M547.5 88.1h0M538.4 81.8h0M557.6 94.5h0M581.6 59.6h0M462.7 88.4h0M576.0 58.8h0M534.7 105.6h0M568.2 46.1h0M539.3 83.4h0"/>
<path stroke="#4b2b82" stroke-width="2.40" d="M624.3 116.1h0M557.0 115.9h0M559.7 114.8h0M564.3 122.1h0M546.9 117.0h0M557.2 113.4h0M550.4 127.8h0M619.2 99.1h0M560.6 110.3h0M579.4 104.5h0M577.3 109.3h0M586.0 38.1h0M594.9 97.2h0M562.7 125.9h0M612.8 97.1h0"/>
<path stroke="#ee3c1e" stroke-width="2.40" d="M650.1 100.8h0M542.1 66.5h0M602.9 69.1h0M594.4 68.2h0M614.2 75.7h0M638.4 105.2h0M606.7 126.0h0M596.4 93.1h0M582.1 95.7h0M566.0 84.0h0M629.4 73.6h0M640.8 88.8h0M607.9 81.8h0M624.9 93.5h0M608.4 126.5h0M614.9 83.5h0M563.4 120.0h0M585.4 93.2h0M641.7 77.6h0M609.0 125.7h0M583.7 110.6h0M618.8 78.8h0M574.4 120.9h0M612.0 103.0h0M623.3 102.1h0M605.4 124.8h0M588.7 120.5h0M586.1 70.8h0M594.2 128.3h0M631.4 104.3h0M620.0 90.9h0M574.2 82.8h0M636.3 87.8h0M586.7 87.0h0M631.6 74.9h0M591.3 93.0h0M598.1 120.9h0M473.0 61.9h0M565.4 79.1h0M641.1 97.0h0"/>
<path stroke="#5ef25e" stroke-width="2.40" d="M551.1 88.4h0M551.9 102.6h0M535.9 102.1h0M570.2 53.8h0M557.6 98.9h0M536.0 102.9h0M469.4 84.8h0M560.4 88.9h0M533.1 80.2h0M545.5 86.9h0M540.0 99.0h0M540.6 94.9h0M558.6 80.5h0M542.4 96.4h0M550.3 85.8h0M534.3 93.2h0M550.8 79.0h0M546.7 61.0h0M542.7 110.5h0M556.6 99.0h0M567.3 88.6h0M551.4 81.1h0M537.7 62.1h0M548.9 90.8h0M553.1 104.6h0M515.3 48.7h0M575.0 46.4h0M553.9 82.3h0M560.2 84.3h0M536.0 103.2h0M561.2 96.7h0M552.0 80.4h0M544.7 80.0h0M556.8 99.7h0M548.7 49.0h0M553.4 106.2h0M524.3 90.8h0M536.9 107.2h0M567.7 92.4h0M542.1 101.2h0"/>
<path stroke="#c9d842" stroke-width="2.40" d="M498.6 33.6h0M488.1 33.6h0M458.1 46.3h0M476.1 33.7h0M495.5 30.3h0M457.5 46.8h0M496.0 26.5h0M499.7 33.1h0M493.0 31.7h0M448.0 48.8h0M478.9 37.4h0M488.6 28.1h0M468.3 40.6h0M475.0 36.2h0M491.8 29.4h0M488.9 30.0h0M502.0 28.4h0M512.2 25.4h0M488.0 29.1h0M508.0 30.0h0"/>
<path stroke="#4b2b82" stroke-width="2.40" d="M625.3 91.2h0M622.8 85.1h0M637.4 111.9h0M623.3 109.3h0M608.6 103.0h0M564.2 118.5h0M558.0 118.4h0M636.8 104.5h0M529.7 77.2h0M562.7 120.3h0M592.3 68.5h0M560.9 130.6h0M553.1 114.6h0M606.6 127.1h0M565.2 32.7h0M566.9 125.0h0M558.3 130.9h0M551.5 122.7h0M625.6 89.7h0M566.0 74.0h0M575.9 67.6h0M629.6 92.2h0M558.9 113.1h0M522.7 72.5h0M566.4 88.1h0M636.1 110.9h0M568.2 123.0h0M554.3 125.8h0M570.1 86.4h0M580.6 32.3h0M576.4 85.1h0M549.1 125.0h0M585.9 97.6h0M555.7 129.0h0M550.7 116.4h0M565.1 24.1h0M553.4 115.7h0M552.4 113.7h0M611.5 81.5h0M604.8 76.1h0"/>
<path stroke="#3a58b8" stroke-width="2.40" d="M495.3 50.6h0M475.8 63.4h0M504.6 83.6h0M465.1 45.7h0M636.1 108.4h0M474.6 59.8h0M481.5 58.1h0M545.0 39.2h0M465.9 91.2h0M497.2 62.7h0M472.3 64.9h0M533.0 63.6h0M524.4 63.6h0M471.7 63.9h0M549.1 74.5h0M446.7 73.7h0M551.2 74.7h0M549.4 58.6h0M537.7 77.1h0M489.7 57.2h0M505.7 78.4h0M479.2 66.3h0M443.0 66.2h0M536.7 63.5h0M513.6 86.8h0M546.7 72.1h0M435.0 58.6h0M495.7 70.4h0M453.1 67.2h0M449.3 51.9h0M506.6 45.4h0M504.1 84.7h0M537.8 70.0h0M461.4 59.0h0M471.7 51.4h0M540.9 76.3h0M486.1 94.8h0M494.3 58.5h0M467.3 67.6h0M511.8 48.4h0"/>
<path stroke="#ee3c1e" stroke-width="2.40" d="M585.8 92.4h0M599.6 98.1h0M597.2 130.8h0M570.3 78.3h0M573.3 119.6h0M574.5 83.7h0M598.3 118.9h0M648.4 97.9h0M613.3 77.8h0M612.6 101.8h0M623.7 98.0h0M621.2 115.1h0M581.3 115.2h0M638.5 69.0h0M595.4 79.0h0M620.8 82.3h0M598.5 107.3h0M625.3 87.3h0M631.8 108.4h0M573.1 126.0h0M629.7 84.1h0M604.9 83.7h0M605.8 91.9h0M530.8 77.4h0M576.6 81.3h0M575.7 92.4h0M635.9 98.3h0M590.2 111.9h0M539.0 70.3h0M610.1 108.4h0M579.5 131.8h0M618.7 88.5h0M570.5 108.4h0M599.3 85.7h0M532.6 77.5h0M590.2 112.6h0M594.9 107.5h0M626.8 110.7h0M618.1 89.8h0M569.2 115.5h0"/>
<path stroke="#141414" stroke-width="2.40" d="M640.5 69.3h0M533.5 42.3h0M469.1 99.2h0M477.8 58.6h0M527.1 63.5h0M509.9 48.8h0M496.7 54.3h0M528.1 66.0h0M534.2 76.2h0M486.7 63.2h0M537.0 74.5h0M570.1 121.2h0M512.0 58.5h0M499.4 94.3h0M497.7 89.3h0M551.9 73.3h0M486.7 60.9h0M528.1 81.0h0M565.2 82.6h0M508.1 54.6h0M484.0 77.7h0M543.0 67.1h0M522.2 74.4h0M452.9 88.7h0M530.3 65.8h0M515.4 85.0h0M460.8 49.4h0M531.6 29.1h0M550.3 73.6h0M539.2 72.0h0M539.0 60.5h0M496.9 63.8h0M483.3 83.5h0M504.6 78.7h0M442.4 65.1h0M506.1 63.8h0M528.4 85.9h0M454.6 59.1h0M532.4 63.9h0M476.7 81.6h0"/>
<path stroke="#8f2a18" stroke-width="2.40" d="M503.7 101.5h0M534.5 49.6h0M470.5 70.2h0M523.5 57.0h0M545.6 68.3h0M473.6 69.5h0M499.3 76.7h0M477.3 55.7h0M507.7 103.5h0M463.2 76.0h0M502.7 57.5h0M540.5 68.2h0M487.4 44.7h0M479.1 52.8h0M537.9 76.4h0M518.4 91.3h0M496.0 84.9h0M521.2 53.5h0M495.2 89.3h0M489.9 80.7h0M478.6 97.6h0M530.5 63.3h0M532.8 70.0h0M487.5 51.7h0M504.7 45.9h0M520.5 93.6h0M468.2 84.8h0M503.6 60.0h0M530.0 58.8h0M472.4 96.0h0M555.2 71.9h0M463.1 82.4h0M534.6 61.7h0M530.3 75.8h0M519.8 78.7h0M492.2 67.1h0M576.7 39.7h0M506.5 63.5h0M473.7 87.4h0M579.0 32.7h0"/>
<path stroke="#bcf55c" stroke-width="2.40" d="M513.8 81.8h0M495.4 59.9h0M464.2 92.3h0M504.0 76.2h0M454.9 97.9h0M479.0 82.2h0M514.1 94.0h0M476.7 101.6h0M526.3 85.2h0M464.0 103.7h0M486.2 97.3h0M469.6 93.4h0M497.4 55.6h0M459.2 99.2h0M461.1 93.3h0M465.1 48.9h0M482.3 56.1h0M507.6 55.5h0M490.0 49.5h0"/>
<path stroke="#ee3c1e" stroke-width="2.40" d="M636.6 110.4h0M588.0 86.8h0M543.5 61.0h0M589.9 81.1h0M577.7 88.9h0M588.9 117.5h0M637.5 91.8h0M634.0 87.2h0M630.0 106.5h0M637.5 88.5h0M572.9 105.3h0M603.5 83.2h0M637.7 73.4h0M576.8 106.0h0M639.9 106.4h0M570.3 113.8h0M570.1 113.7h0M612.0 76.5h0M584.3 107.5h0M596.4 84.1h0M582.7 87.3h0M610.9 75.3h0M606.9 74.8h0M607.9 75.8h0M597.6 84.7h0M638.9 92.3h0M603.3 84.9h0M632.0 82.2h0M618.7 84.2h0M595.5 94.2h0M617.0 112.6h0M570.3 103.0h0M628.1 92.5h0M573.9 75.3h0M570.2 109.1h0M565.4 89.7h0M586.0 115.9h0M604.5 102.3h0M608.8 91.9h0M591.8 112.1h0"/>
<path stroke="#3a58b8" stroke-width="2.40" d="M509.3 76.8h0M526.7 87.1h0M485.4 72.6h0M523.5 67.5h0M539.1 77.1h0M461.2 89.2h0M463.1 59.4h0M545.9 63.8h0M474.9 85.2h0M469.4 46.4h0M509.0 59.3h0M449.6 65.3h0M480.3 62.4h0M519.8 91.9h0M512.9 45.0h0M525.2 58.7h0M502.2 45.4h0M518.3 73.7h0M485.5 60.8h0M534.3 58.4h0M459.8 56.7h0M506.4 67.9h0M505.7 88.6h0M530.5 60.3h0M535.7 72.5h0M475.2 46.1h0M528.5 28.7h0M440.3 64.6h0M491.1 68.3h0M472.9 94.1h0M475.6 86.7h0M478.0 62.8h0M465.9 64.1h0M515.2 80.9h0M556.6 70.9h0M469.2 52.2h0M522.3 53.5h0M507.0 54.6h0M475.7 58.3h0M496.4 56.1h0"/>
<path stroke="#6af0f0" stroke-width="2.40" d="M527.8 108.8h0M532.8 105.1h0M543.7 111.6h0M476.9 103.1h0M464.4 88.2h0M537.5 115.4h0M491.5 102.8h0M494.1 94.0h0M455.2 77.6h0M531.6 52.6h0M556.4 71.5h0M538.4 104.2h0M455.4 83.3h0M538.2 113.8h0M542.3 111.8h0M516.4 91.8h0M518.1 111.4h0M521.0 86.3h0M517.4 108.0h0M560.6 69.7h0M525.4 110.0h0M507.4 105.0h0M525.1 67.5h0M471.3 84.0h0M519.1 91.5h0M526.6 114.9h0M485.1 76.3h0M536.5 114.3h0M467.7 67.8h0M527.4 114.7h0M526.2 116.9h0M524.3 118.5h0M540.4 119.8h0M523.2 103.1h0M542.8 121.7h0M519.2 109.7h0M480.0 84.1h0M531.2 58.9h0M514.9 113.6h0M473.0 103.2h0"/>
<path stroke="#141414" stroke-width="2.40" d="M512.0 63.6h0M535.6 71.9h0M476.9 94.6h0M496.0 102.1h0M529.0 64.1h0M512.9 88.1h0M451.3 80.5h0M469.9 55.9h0M514.2 81.1h0M525.3 87.8h0M543.4 108.2h0M490.4 61.1h0M479.5 45.2h0M523.4 59.1h0M503.1 62.7h0M548.4 74.9h0M495.7 89.4h0M497.4 58.9h0M523.4 52.6h0M475.1 50.7h0M619.6 72.0h0M523.2 44.2h0M487.8 70.5h0M482.5 93.0h0M611.2 72.4h0M545.8 66.6h0M543.1 75.4h0M479.1 48.8h0M473.3 58.3h0M546.8 75.0h0M576.6 125.5h0M531.0 52.6h0M554.8 67.4h0M461.8 86.1h0M514.2 60.5h0M491.3 96.4h0M536.2 70.0h0M513.5 100.9h0M497.2 91.9h0M521.3 61.8h0"/>
<path stroke="#141414" stroke-width="2.40" d="M485.2 84.4h0M487.3 90.0h0M598.5 65.9h0M506.0 51.7h0M477.9 76.4h0M455.7 59.3h0M536.6 73.7h0M537.3 89.1h0M533.2 54.2h0M494.4 71.0h0M560.9 112.8h0M530.8 37.4h0M458.0 76.7h0M503.7 80.7h0M542.7 70.4h0M644.6 71.6h0M491.3 56.1h0M530.6 73.8h0M502.5 93.7h0M537.8 67.5h0M535.6 83.3h0M494.6 59.2h0M532.9 81.7h0M550.7 69.2h0M549.6 65.2h0M444.5 57.2h0M472.5 92.3h0M532.7 55.5h0M470.6 44.8h0M519.2 76.6h0M549.3 66.7h0M456.4 60.4h0M510.7 80.2h0M491.6 92.6h0M500.4 83.9h0M469.1 58.0h0M660.6 64.3h0M626.2 67.8h0M522.4 84.8h0M531.6 54.4h0"/>
<path stroke="#141414" stroke-width="2.40" d="M561.6 83.9h0M461.2 45.3h0M522.4 55.6h0M534.5 59.8h0M526.6 65.8h0M503.5 87.1h0M513.6 95.8h0M496.2 98.1h0M497.5 103.8h0M497.7 76.5h0M450.9 87.0h0M454.6 91.1h0M521.0 69.5h0M466.9 91.3h0M553.9 85.0h0M499.6 63.6h0M513.3 90.6h0M497.7 107.3h0M531.1 64.8h0M605.0 68.2h0M488.5 95.5h0M523.1 51.2h0M537.7 65.9h0"/>
<path stroke="#3f9e30" stroke-width="2.40" d="M447.9 48.9h0M495.8 24.9h0M449.7 50.8h0"/>
<path stroke="#5ef25e" stroke-width="2.40" d="M574.2 62.1h0M550.7 86.1h0M562.9 93.7h0M551.4 101.3h0M538.6 103.4h0M527.0 95.1h0M627.1 81.7h0M545.8 96.9h0M550.1 48.2h0M557.4 101.2h0M564.5 88.9h0M562.2 91.1h0M547.7 103.6h0M544.8 104.4h0M564.9 87.6h0M531.8 81.1h0M478.4 68.4h0M571.3 88.0h0M569.3 88.7h0M541.6 83.5h0M523.1 32.5h0M537.0 88.2h0M556.4 81.3h0M555.3 103.0h0M614.5 96.6h0M547.1 90.8h0M522.7 74.2h0M538.1 110.1h0M539.1 89.3h0M522.9 50.1h0M552.2 88.3h0M544.2 106.4h0M544.2 79.2h0M537.4 102.6h0M582.5 50.6h0M575.7 64.5h0M564.6 92.6h0M535.5 105.9h0M531.5 83.5h0M529.0 95.1h0"/>
<path stroke="#957d66" stroke-width="2.40" d="M469.4 99.7h0M508.6 37.8h0M485.9 88.7h0M558.8 114.4h0M556.0 106.0h0M467.6 104.7h0M535.3 45.5h0M592.1 30.7h0M543.3 42.4h0M539.7 93.7h0M587.7 101.0h0M501.9 87.1h0M562.3 22.7h0M512.0 94.8h0M551.8 28.0h0M524.4 29.7h0M524.9 131.2h0M475.4 113.1h0M529.5 51.3h0M463.0 92.9h0M530.0 33.3h0M548.6 64.6h0M485.3 104.6h0M486.5 58.8h0M461.0 58.5h0M484.7 71.7h0M597.1 88.0h0M541.1 77.4h0M551.1 36.5h0M593.1 117.9h0M537.4 87.1h0M510.4 91.6h0M616.7 109.6h0M501.9 99.4h0M501.3 102.8h0M542.1 38.0h0M534.7 95.7h0M511.6 47.0h0M542.4 47.8h0M501.1 104.2h0"/>
<path stroke="#82f0c8" stroke-width="2.40" d="M544.4 91.6h0M530.3 116.1h0M479.7 91.9h0M526.1 39.4h0M544.3 73.4h0M516.9 43.2h0M540.2 99.2h0M513.8 100.0h0M531.6 33.8h0M532.2 106.4h0M530.7 41.2h0M494.1 88.4h0M468.2 81.6h0M546.1 88.0h0M606.3 68.9h0M524.1 86.0h0M507.0 49.8h0M520.5 32.5h0M540.2 101.6h0M520.6 49.6h0M623.5 66.1h0M548.5 31.7h0M462.4 72.5h0M543.9 67.4h0M492.0 87.8h0M526.3 110.9h0M553.9 41.2h0M526.6 110.4h0M539.7 60.9h0M569.6 93.5h0M541.6 67.9h0M526.2 64.5h0M538.9 89.8h0M534.9 38.1h0M491.4 87.5h0M495.8 83.9h0M553.1 37.9h0M449.2 65.1h0M547.1 41.6h0M518.1 40.7h0"/>
<path stroke="#3f9e30" stroke-width="2.40" d="M483.2 36.1h0M484.0 30.3h0M484.5 35.5h0M445.5 45.0h0M485.0 30.1h0M500.4 31.3h0M498.8 33.1h0M449.6 47.3h0M465.3 58.4h0M499.3 49.2h0M491.1 29.8h0M481.6 37.4h0M471.1 38.9h0M493.1 26.4h0M457.2 46.6h0M498.0 24.5h0M471.8 37.9h0M456.9 56.5h0M487.9 49.4h0M474.9 36.2h0M508.3 47.9h0M485.5 31.2h0M473.7 36.2h0M448.4 49.7h0M512.4 58.2h0M507.5 32.1h0M505.0 28.9h0M470.8 36.2h0M473.5 37.9h0M471.3 38.9h0M498.8 30.4h0M456.5 46.0h0M472.4 57.8h0M488.4 27.0h0M500.3 31.4h0M460.7 35.6h0M486.4 30.3h0M493.1 32.0h0M474.4 33.8h0M499.2 30.2h0"/>
<path stroke="#4b2b82" stroke-width="2.40" d="M546.0 126.2h0M526.9 65.4h0M556.9 119.4h0M532.4 73.6h0M616.0 90.5h0M573.2 112.3h0M608.8 90.5h0M567.2 123.4h0M595.4 83.4h0M552.2 119.8h0M598.9 84.4h0M558.9 124.8h0M564.3 125.4h0M582.0 84.4h0M567.0 93.2h0M596.2 70.9h0M581.8 104.6h0M554.0 124.1h0M625.4 103.2h0M562.3 122.5h0M605.1 71.7h0M559.8 128.5h0M565.0 130.4h0M577.5 112.1h0M635.4 110.5h0M576.0 101.0h0M606.9 127.6h0M563.9 127.8h0M567.7 124.5h0M572.5 81.8h0M590.7 91.4h0M552.4 112.4h0M609.2 121.7h0M557.1 122.6h0M620.7 82.2h0M599.8 71.8h0M598.4 83.7h0M612.1 92.7h0M568.1 129.4h0M600.8 78.4h0"/>
<path stroke="#f3a7a7" stroke-width="2.40" d="M494.2 61.4h0M524.0 94.9h0M486.3 101.5h0M443.6 85.9h0M504.2 53.6h0M523.2 52.1h0M524.2 61.1h0M472.4 80.8h0M501.2 83.9h0M497.2 100.4h0M491.7 79.8h0M593.5 34.0h0M516.9 30.9h0M556.5 30.5h0M481.6 93.0h0M501.3 89.7h0M478.8 53.2h0M566.3 24.5h0M484.9 85.0h0M491.8 67.2h0M500.2 73.6h0M498.5 97.2h0M535.4 77.9h0M500.0 87.2h0M498.7 102.1h0M525.6 28.2h0M472.8 99.6h0M513.4 99.1h0M470.8 82.6h0M465.0 57.1h0M481.9 85.9h0M469.7 112.5h0M490.7 123.7h0M489.7 107.7h0M533.2 45.2h0M484.5 125.7h0M464.0 67.7h0M534.3 120.6h0M455.4 87.5h0M517.8 35.6h0"/>
<path stroke="#3a58b8" stroke-width="2.40" d="M479.8 69.8h0M453.9 80.3h0M481.4 61.6h0M463.2 60.6h0M486.9 52.7h0M529.0 86.3h0M446.7 56.7h0M496.3 70.9h0M476.5 72.5h0M517.5 51.9h0M459.6 75.1h0M472.4 46.8h0M464.2 56.0h0M506.1 50.7h0"/></g>
<g font-weight="bold" font-size="8.6"><text x="488.0" y="19.9" text-anchor="start" fill="#3f9e30">Metakaolin</text><text x="423.7" y="26.8" text-anchor="start" fill="#c9d842">Calcined clays</text><text x="419.1" y="38.8" text-anchor="start" fill="#3a58b8">Fly ashes</text><text x="411.5" y="61.3" text-anchor="start" fill="#d8306f">Clays</text><text x="554.0" y="8.9" text-anchor="middle" fill="#82f0c8">Mine</text><text x="554.0" y="16.6" text-anchor="middle" fill="#82f0c8">tailings</text><text x="593.1" y="52.8" text-anchor="start" fill="#5ef25e">Slags</text><text x="655.5" y="49.3" text-anchor="middle" fill="#f28232">Lime</text><text x="655.5" y="56.7" text-anchor="middle" fill="#f28232">species</text><text x="415.3" y="104.5" text-anchor="start" fill="#bcf55c">Granite</text><text x="434.5" y="113.4" text-anchor="middle" fill="#d63ad8">Natural</text><text x="434.5" y="120.3" text-anchor="middle" fill="#d63ad8">pozzolans</text><text x="419.9" y="131.8" text-anchor="start" fill="#b57b90">Biomass ashes</text><text x="461.3" y="140.7" text-anchor="start" fill="#e2604c">Silica fume</text><text x="516.2" y="142.8" text-anchor="start" fill="#5ef2f2">Glasses</text><text x="561.0" y="142.2" text-anchor="start" fill="#4b2b82">Clinkers</text><text x="606.9" y="135.6" text-anchor="start" fill="#ee3c1e">Cements</text></g>
<g><rect x="416.6" y="157.7" width="245.8" height="18.1" fill="#fff" stroke="#8a8a8a" stroke-width="1"/><line x1="417.10" y1="166.75" x2="661.90" y2="166.75" stroke="#eef0fa" stroke-width="0.80"/><line x1="416.60" y1="175.80" x2="662.40" y2="175.80" stroke="#6a6a6a" stroke-width="1.40"/><rect x="416.6" y="177.2" width="245.8" height="18.3" fill="#fff" stroke="#8a8a8a" stroke-width="1"/><line x1="417.10" y1="186.35" x2="661.90" y2="186.35" stroke="#eef0fa" stroke-width="0.80"/><line x1="416.60" y1="195.50" x2="662.40" y2="195.50" stroke="#6a6a6a" stroke-width="1.40"/><rect x="416.6" y="196.2" width="245.8" height="18.4" fill="#fff" stroke="#8a8a8a" stroke-width="1"/><line x1="417.10" y1="205.40" x2="661.90" y2="205.40" stroke="#eef0fa" stroke-width="0.80"/><line x1="416.60" y1="214.60" x2="662.40" y2="214.60" stroke="#6a6a6a" stroke-width="1.40"/><rect x="416.6" y="215.9" width="245.8" height="17.9" fill="#fff" stroke="#8a8a8a" stroke-width="1"/><line x1="417.10" y1="224.85" x2="661.90" y2="224.85" stroke="#eef0fa" stroke-width="0.80"/><line x1="416.60" y1="233.80" x2="662.40" y2="233.80" stroke="#6a6a6a" stroke-width="1.40"/><rect x="416.6" y="235.2" width="245.8" height="18.4" fill="#fff" stroke="#8a8a8a" stroke-width="1"/><line x1="417.10" y1="244.40" x2="661.90" y2="244.40" stroke="#eef0fa" stroke-width="0.80"/><line x1="416.60" y1="253.60" x2="662.40" y2="253.60" stroke="#6a6a6a" stroke-width="1.40"/><line x1="423.83" y1="161.07" x2="423.83" y2="174.60" stroke="#d63ad8" stroke-width="1.10"/><line x1="421.63" y1="161.07" x2="426.03" y2="161.07" stroke="#d63ad8" stroke-width="1.10"/><line x1="421.63" y1="174.60" x2="426.03" y2="174.60" stroke="#d63ad8" stroke-width="1.10"/><rect x="420.23" y="162.91" width="7.20" height="4.34" fill="#d63ad8" fill-opacity="0.95" stroke="#d63ad8" stroke-width="0.8"/><line x1="421.03" y1="165.08" x2="426.63" y2="165.08" stroke="#ffffff" stroke-width="0.50"/><line x1="423.83" y1="189.05" x2="423.83" y2="194.80" stroke="#d63ad8" stroke-width="1.10"/><line x1="421.63" y1="189.05" x2="426.03" y2="189.05" stroke="#d63ad8" stroke-width="1.10"/><line x1="421.63" y1="194.80" x2="426.03" y2="194.80" stroke="#d63ad8" stroke-width="1.10"/><rect x="420.23" y="190.58" width="7.20" height="3.21" fill="#d63ad8" fill-opacity="0.95" stroke="#d63ad8" stroke-width="0.8"/><line x1="421.03" y1="192.18" x2="426.63" y2="192.18" stroke="#ffffff" stroke-width="0.50"/><line x1="423.83" y1="204.38" x2="423.83" y2="213.90" stroke="#d63ad8" stroke-width="1.10"/><line x1="421.63" y1="204.38" x2="426.03" y2="204.38" stroke="#d63ad8" stroke-width="1.10"/><line x1="421.63" y1="213.90" x2="426.03" y2="213.90" stroke="#d63ad8" stroke-width="1.10"/><rect x="420.23" y="212.20" width="7.20" height="1.70" fill="#d63ad8" fill-opacity="0.95" stroke="#d63ad8" stroke-width="0.8"/><line x1="421.03" y1="213.05" x2="426.63" y2="213.05" stroke="#ffffff" stroke-width="0.50"/><line x1="423.83" y1="231.12" x2="423.83" y2="233.10" stroke="#d63ad8" stroke-width="1.10"/><line x1="421.63" y1="231.12" x2="426.03" y2="231.12" stroke="#d63ad8" stroke-width="1.10"/><line x1="421.63" y1="233.10" x2="426.03" y2="233.10" stroke="#d63ad8" stroke-width="1.10"/><rect x="420.23" y="231.45" width="7.20" height="1.32" fill="#d63ad8" fill-opacity="0.95" stroke="#d63ad8" stroke-width="0.8"/><line x1="421.03" y1="232.11" x2="426.63" y2="232.11" stroke="#ffffff" stroke-width="0.50"/><line x1="423.83" y1="251.54" x2="423.83" y2="252.90" stroke="#d63ad8" stroke-width="1.10"/><line x1="421.63" y1="251.54" x2="426.03" y2="251.54" stroke="#d63ad8" stroke-width="1.10"/><line x1="421.63" y1="252.90" x2="426.03" y2="252.90" stroke="#d63ad8" stroke-width="1.10"/><rect x="420.23" y="251.71" width="7.20" height="1.02" fill="#d63ad8" fill-opacity="0.95" stroke="#d63ad8" stroke-width="0.8"/><line x1="421.03" y1="252.22" x2="426.63" y2="252.22" stroke="#ffffff" stroke-width="0.50"/><line x1="438.29" y1="163.74" x2="438.29" y2="174.60" stroke="#8f2a18" stroke-width="1.10"/><line x1="436.09" y1="163.74" x2="440.49" y2="163.74" stroke="#8f2a18" stroke-width="1.10"/><line x1="436.09" y1="174.60" x2="440.49" y2="174.60" stroke="#8f2a18" stroke-width="1.10"/><rect x="434.69" y="165.08" width="7.20" height="5.51" fill="#8f2a18" fill-opacity="0.95" stroke="#8f2a18" stroke-width="0.8"/><line x1="435.49" y1="167.84" x2="441.09" y2="167.84" stroke="#ffffff" stroke-width="0.50"/><line x1="438.29" y1="188.21" x2="438.29" y2="194.80" stroke="#8f2a18" stroke-width="1.10"/><line x1="436.09" y1="188.21" x2="440.49" y2="188.21" stroke="#8f2a18" stroke-width="1.10"/><line x1="436.09" y1="194.80" x2="440.49" y2="194.80" stroke="#8f2a18" stroke-width="1.10"/><rect x="434.69" y="189.73" width="7.20" height="4.22" fill="#8f2a18" fill-opacity="0.95" stroke="#8f2a18" stroke-width="0.8"/><line x1="435.49" y1="191.84" x2="441.09" y2="191.84" stroke="#ffffff" stroke-width="0.50"/><line x1="438.29" y1="203.87" x2="438.29" y2="213.90" stroke="#8f2a18" stroke-width="1.10"/><line x1="436.09" y1="203.87" x2="440.49" y2="203.87" stroke="#8f2a18" stroke-width="1.10"/><line x1="436.09" y1="213.90" x2="440.49" y2="213.90" stroke="#8f2a18" stroke-width="1.10"/><rect x="434.69" y="209.65" width="7.20" height="4.25" fill="#8f2a18" fill-opacity="0.95" stroke="#8f2a18" stroke-width="0.8"/><line x1="435.49" y1="211.78" x2="441.09" y2="211.78" stroke="#ffffff" stroke-width="0.50"/><line x1="438.29" y1="228.98" x2="438.29" y2="233.10" stroke="#8f2a18" stroke-width="1.10"/><line x1="436.09" y1="228.98" x2="440.49" y2="228.98" stroke="#8f2a18" stroke-width="1.10"/><line x1="436.09" y1="233.10" x2="440.49" y2="233.10" stroke="#8f2a18" stroke-width="1.10"/><rect x="434.69" y="231.12" width="7.20" height="1.48" fill="#8f2a18" fill-opacity="0.95" stroke="#8f2a18" stroke-width="0.8"/><line x1="435.49" y1="231.86" x2="441.09" y2="231.86" stroke="#ffffff" stroke-width="0.50"/><line x1="438.29" y1="251.88" x2="438.29" y2="252.90" stroke="#8f2a18" stroke-width="1.10"/><line x1="436.09" y1="251.88" x2="440.49" y2="251.88" stroke="#8f2a18" stroke-width="1.10"/><line x1="436.09" y1="252.90" x2="440.49" y2="252.90" stroke="#8f2a18" stroke-width="1.10"/><rect x="434.69" y="252.05" width="7.20" height="1.00" fill="#8f2a18" fill-opacity="0.95" stroke="#8f2a18" stroke-width="0.8"/><line x1="435.49" y1="252.39" x2="441.09" y2="252.39" stroke="#ffffff" stroke-width="0.50"/><line x1="452.75" y1="169.92" x2="452.75" y2="173.43" stroke="#ee3c1e" stroke-width="1.10"/><line x1="450.55" y1="169.92" x2="454.95" y2="169.92" stroke="#ee3c1e" stroke-width="1.10"/><line x1="450.55" y1="173.43" x2="454.95" y2="173.43" stroke="#ee3c1e" stroke-width="1.10"/><rect x="449.15" y="170.59" width="7.20" height="2.34" fill="#ee3c1e" fill-opacity="0.95" stroke="#ee3c1e" stroke-width="0.8"/><line x1="449.95" y1="171.76" x2="455.55" y2="171.76" stroke="#ffffff" stroke-width="0.50"/><line x1="452.75" y1="192.77" x2="452.75" y2="194.80" stroke="#ee3c1e" stroke-width="1.10"/><line x1="450.55" y1="192.77" x2="454.95" y2="192.77" stroke="#ee3c1e" stroke-width="1.10"/><line x1="450.55" y1="194.80" x2="454.95" y2="194.80" stroke="#ee3c1e" stroke-width="1.10"/><rect x="449.15" y="193.11" width="7.20" height="1.52" fill="#ee3c1e" fill-opacity="0.95" stroke="#ee3c1e" stroke-width="0.8"/><line x1="449.95" y1="193.87" x2="455.55" y2="193.87" stroke="#ffffff" stroke-width="0.50"/><line x1="452.75" y1="202.34" x2="452.75" y2="206.42" stroke="#ee3c1e" stroke-width="1.10"/><line x1="450.55" y1="202.34" x2="454.95" y2="202.34" stroke="#ee3c1e" stroke-width="1.10"/><line x1="450.55" y1="206.42" x2="454.95" y2="206.42" stroke="#ee3c1e" stroke-width="1.10"/><rect x="449.15" y="202.51" width="7.20" height="1.70" fill="#ee3c1e" fill-opacity="0.95" stroke="#ee3c1e" stroke-width="0.8"/><line x1="449.95" y1="203.36" x2="455.55" y2="203.36" stroke="#ffffff" stroke-width="0.50"/><line x1="452.75" y1="231.95" x2="452.75" y2="233.10" stroke="#ee3c1e" stroke-width="1.10"/><line x1="450.55" y1="231.95" x2="454.95" y2="231.95" stroke="#ee3c1e" stroke-width="1.10"/><line x1="450.55" y1="233.10" x2="454.95" y2="233.10" stroke="#ee3c1e" stroke-width="1.10"/><rect x="449.15" y="232.28" width="7.20" height="1.00" fill="#ee3c1e" fill-opacity="0.95" stroke="#ee3c1e" stroke-width="0.8"/><line x1="449.95" y1="232.69" x2="455.55" y2="232.69" stroke="#ffffff" stroke-width="0.50"/><line x1="452.75" y1="252.05" x2="452.75" y2="252.90" stroke="#ee3c1e" stroke-width="1.10"/><line x1="450.55" y1="252.05" x2="454.95" y2="252.05" stroke="#ee3c1e" stroke-width="1.10"/><line x1="450.55" y1="252.90" x2="454.95" y2="252.90" stroke="#ee3c1e" stroke-width="1.10"/><rect x="449.15" y="252.22" width="7.20" height="1.00" fill="#ee3c1e" fill-opacity="0.95" stroke="#ee3c1e" stroke-width="0.8"/><line x1="449.95" y1="252.48" x2="455.55" y2="252.48" stroke="#ffffff" stroke-width="0.50"/><line x1="467.21" y1="162.91" x2="467.21" y2="172.60" stroke="#3a58b8" stroke-width="1.10"/><line x1="465.01" y1="162.91" x2="469.41" y2="162.91" stroke="#3a58b8" stroke-width="1.10"/><line x1="465.01" y1="172.60" x2="469.41" y2="172.60" stroke="#3a58b8" stroke-width="1.10"/><rect x="463.61" y="165.08" width="7.20" height="4.18" fill="#3a58b8" fill-opacity="0.95" stroke="#3a58b8" stroke-width="0.8"/><line x1="464.41" y1="167.17" x2="470.01" y2="167.17" stroke="#ffffff" stroke-width="0.50"/><line x1="467.21" y1="187.03" x2="467.21" y2="194.80" stroke="#3a58b8" stroke-width="1.10"/><line x1="465.01" y1="187.03" x2="469.41" y2="187.03" stroke="#3a58b8" stroke-width="1.10"/><line x1="465.01" y1="194.80" x2="469.41" y2="194.80" stroke="#3a58b8" stroke-width="1.10"/><rect x="463.61" y="189.22" width="7.20" height="3.55" fill="#3a58b8" fill-opacity="0.95" stroke="#3a58b8" stroke-width="0.8"/><line x1="464.41" y1="191.00" x2="470.01" y2="191.00" stroke="#ffffff" stroke-width="0.50"/><line x1="467.21" y1="208.80" x2="467.21" y2="213.90" stroke="#3a58b8" stroke-width="1.10"/><line x1="465.01" y1="208.80" x2="469.41" y2="208.80" stroke="#3a58b8" stroke-width="1.10"/><line x1="465.01" y1="213.90" x2="469.41" y2="213.90" stroke="#3a58b8" stroke-width="1.10"/><rect x="463.61" y="211.69" width="7.20" height="2.21" fill="#3a58b8" fill-opacity="0.95" stroke="#3a58b8" stroke-width="0.8"/><line x1="464.41" y1="212.80" x2="470.01" y2="212.80" stroke="#ffffff" stroke-width="0.50"/><line x1="467.21" y1="230.63" x2="467.21" y2="233.10" stroke="#3a58b8" stroke-width="1.10"/><line x1="465.01" y1="230.63" x2="469.41" y2="230.63" stroke="#3a58b8" stroke-width="1.10"/><line x1="465.01" y1="233.10" x2="469.41" y2="233.10" stroke="#3a58b8" stroke-width="1.10"/><rect x="463.61" y="230.63" width="7.20" height="1.98" fill="#3a58b8" fill-opacity="0.95" stroke="#3a58b8" stroke-width="0.8"/><line x1="464.41" y1="231.62" x2="470.01" y2="231.62" stroke="#ffffff" stroke-width="0.50"/><line x1="467.21" y1="251.88" x2="467.21" y2="252.90" stroke="#3a58b8" stroke-width="1.10"/><line x1="465.01" y1="251.88" x2="469.41" y2="251.88" stroke="#3a58b8" stroke-width="1.10"/><line x1="465.01" y1="252.90" x2="469.41" y2="252.90" stroke="#3a58b8" stroke-width="1.10"/><rect x="463.61" y="252.05" width="7.20" height="1.00" fill="#3a58b8" fill-opacity="0.95" stroke="#3a58b8" stroke-width="0.8"/><line x1="464.41" y1="252.39" x2="470.01" y2="252.39" stroke="#ffffff" stroke-width="0.50"/><line x1="481.66" y1="164.25" x2="481.66" y2="174.60" stroke="#4b2b82" stroke-width="1.10"/><line x1="479.46" y1="164.25" x2="483.86" y2="164.25" stroke="#4b2b82" stroke-width="1.10"/><line x1="479.46" y1="174.60" x2="483.86" y2="174.60" stroke="#4b2b82" stroke-width="1.10"/><rect x="478.06" y="170.93" width="7.20" height="1.67" fill="#4b2b82" fill-opacity="0.95" stroke="#4b2b82" stroke-width="0.8"/><line x1="478.86" y1="171.76" x2="484.46" y2="171.76" stroke="#ffffff" stroke-width="0.50"/><line x1="481.66" y1="187.03" x2="481.66" y2="194.80" stroke="#4b2b82" stroke-width="1.10"/><line x1="479.46" y1="187.03" x2="483.86" y2="187.03" stroke="#4b2b82" stroke-width="1.10"/><line x1="479.46" y1="194.80" x2="483.86" y2="194.80" stroke="#4b2b82" stroke-width="1.10"/><rect x="478.06" y="192.27" width="7.20" height="2.37" fill="#4b2b82" fill-opacity="0.95" stroke="#4b2b82" stroke-width="0.8"/><line x1="478.86" y1="193.45" x2="484.46" y2="193.45" stroke="#ffffff" stroke-width="0.50"/><line x1="481.66" y1="201.15" x2="481.66" y2="213.90" stroke="#4b2b82" stroke-width="1.10"/><line x1="479.46" y1="201.15" x2="483.86" y2="201.15" stroke="#4b2b82" stroke-width="1.10"/><line x1="479.46" y1="213.90" x2="483.86" y2="213.90" stroke="#4b2b82" stroke-width="1.10"/><rect x="478.06" y="202.00" width="7.20" height="1.36" fill="#4b2b82" fill-opacity="0.95" stroke="#4b2b82" stroke-width="0.8"/><line x1="478.86" y1="202.68" x2="484.46" y2="202.68" stroke="#ffffff" stroke-width="0.50"/><line x1="481.66" y1="230.46" x2="481.66" y2="233.10" stroke="#4b2b82" stroke-width="1.10"/><line x1="479.46" y1="230.46" x2="483.86" y2="230.46" stroke="#4b2b82" stroke-width="1.10"/><line x1="479.46" y1="233.10" x2="483.86" y2="233.10" stroke="#4b2b82" stroke-width="1.10"/><rect x="478.06" y="231.78" width="7.20" height="1.32" fill="#4b2b82" fill-opacity="0.95" stroke="#4b2b82" stroke-width="0.8"/><line x1="478.86" y1="232.44" x2="484.46" y2="232.44" stroke="#ffffff" stroke-width="0.50"/><line x1="481.66" y1="252.22" x2="481.66" y2="252.90" stroke="#4b2b82" stroke-width="1.10"/><line x1="479.46" y1="252.22" x2="483.86" y2="252.22" stroke="#4b2b82" stroke-width="1.10"/><line x1="479.46" y1="252.90" x2="483.86" y2="252.90" stroke="#4b2b82" stroke-width="1.10"/><rect x="478.06" y="252.22" width="7.20" height="1.00" fill="#4b2b82" fill-opacity="0.95" stroke="#4b2b82" stroke-width="0.8"/><line x1="478.86" y1="252.48" x2="484.46" y2="252.48" stroke="#ffffff" stroke-width="0.50"/><line x1="496.12" y1="167.59" x2="496.12" y2="173.76" stroke="#5ef25e" stroke-width="1.10"/><line x1="493.92" y1="167.59" x2="498.32" y2="167.59" stroke="#5ef25e" stroke-width="1.10"/><line x1="493.92" y1="173.76" x2="498.32" y2="173.76" stroke="#5ef25e" stroke-width="1.10"/><rect x="492.52" y="168.42" width="7.20" height="2.50" fill="#5ef25e" fill-opacity="0.95" stroke="#5ef25e" stroke-width="0.8"/><line x1="493.32" y1="169.67" x2="498.92" y2="169.67" stroke="#ffffff" stroke-width="0.50"/><line x1="496.12" y1="190.74" x2="496.12" y2="194.80" stroke="#5ef25e" stroke-width="1.10"/><line x1="493.92" y1="190.74" x2="498.32" y2="190.74" stroke="#5ef25e" stroke-width="1.10"/><line x1="493.92" y1="194.80" x2="498.32" y2="194.80" stroke="#5ef25e" stroke-width="1.10"/><rect x="492.52" y="191.42" width="7.20" height="2.53" fill="#5ef25e" fill-opacity="0.95" stroke="#5ef25e" stroke-width="0.8"/><line x1="493.32" y1="192.69" x2="498.92" y2="192.69" stroke="#ffffff" stroke-width="0.50"/><line x1="496.12" y1="204.21" x2="496.12" y2="213.90" stroke="#5ef25e" stroke-width="1.10"/><line x1="493.92" y1="204.21" x2="498.32" y2="204.21" stroke="#5ef25e" stroke-width="1.10"/><line x1="493.92" y1="213.90" x2="498.32" y2="213.90" stroke="#5ef25e" stroke-width="1.10"/><rect x="492.52" y="206.25" width="7.20" height="2.55" fill="#5ef25e" fill-opacity="0.95" stroke="#5ef25e" stroke-width="0.8"/><line x1="493.32" y1="207.53" x2="498.92" y2="207.53" stroke="#ffffff" stroke-width="0.50"/><line x1="496.12" y1="226.50" x2="496.12" y2="233.10" stroke="#5ef25e" stroke-width="1.10"/><line x1="493.92" y1="226.50" x2="498.32" y2="226.50" stroke="#5ef25e" stroke-width="1.10"/><line x1="493.92" y1="233.10" x2="498.32" y2="233.10" stroke="#5ef25e" stroke-width="1.10"/><rect x="492.52" y="231.78" width="7.20" height="1.16" fill="#5ef25e" fill-opacity="0.95" stroke="#5ef25e" stroke-width="0.8"/><line x1="493.32" y1="232.36" x2="498.92" y2="232.36" stroke="#ffffff" stroke-width="0.50"/><line x1="496.12" y1="251.20" x2="496.12" y2="252.90" stroke="#5ef25e" stroke-width="1.10"/><line x1="493.92" y1="251.20" x2="498.32" y2="251.20" stroke="#5ef25e" stroke-width="1.10"/><line x1="493.92" y1="252.90" x2="498.32" y2="252.90" stroke="#5ef25e" stroke-width="1.10"/><rect x="492.52" y="251.20" width="7.20" height="1.19" fill="#5ef25e" fill-opacity="0.95" stroke="#5ef25e" stroke-width="0.8"/><line x1="493.32" y1="251.80" x2="498.92" y2="251.80" stroke="#ffffff" stroke-width="0.50"/><line x1="510.58" y1="171.43" x2="510.58" y2="175.10" stroke="#f28232" stroke-width="1.10"/><line x1="508.38" y1="171.43" x2="512.78" y2="171.43" stroke="#f28232" stroke-width="1.10"/><line x1="508.38" y1="175.10" x2="512.78" y2="175.10" stroke="#f28232" stroke-width="1.10"/><rect x="506.98" y="173.43" width="7.20" height="1.50" fill="#f28232" fill-opacity="0.95" stroke="#f28232" stroke-width="0.8"/><line x1="507.78" y1="174.18" x2="513.38" y2="174.18" stroke="#ffffff" stroke-width="0.50"/><line x1="510.58" y1="193.11" x2="510.58" y2="194.80" stroke="#f28232" stroke-width="1.10"/><line x1="508.38" y1="193.11" x2="512.78" y2="193.11" stroke="#f28232" stroke-width="1.10"/><line x1="508.38" y1="194.80" x2="512.78" y2="194.80" stroke="#f28232" stroke-width="1.10"/><rect x="506.98" y="193.45" width="7.20" height="1.35" fill="#f28232" fill-opacity="0.95" stroke="#f28232" stroke-width="0.8"/><line x1="507.78" y1="194.12" x2="513.38" y2="194.12" stroke="#ffffff" stroke-width="0.50"/><line x1="510.58" y1="198.09" x2="510.58" y2="208.80" stroke="#f28232" stroke-width="1.10"/><line x1="508.38" y1="198.09" x2="512.78" y2="198.09" stroke="#f28232" stroke-width="1.10"/><line x1="508.38" y1="208.80" x2="512.78" y2="208.80" stroke="#f28232" stroke-width="1.10"/><rect x="506.98" y="202.85" width="7.20" height="3.40" fill="#f28232" fill-opacity="0.95" stroke="#f28232" stroke-width="0.8"/><line x1="507.78" y1="204.55" x2="513.38" y2="204.55" stroke="#ffffff" stroke-width="0.50"/><line x1="510.58" y1="232.44" x2="510.58" y2="233.10" stroke="#f28232" stroke-width="1.10"/><line x1="508.38" y1="232.44" x2="512.78" y2="232.44" stroke="#f28232" stroke-width="1.10"/><line x1="508.38" y1="233.10" x2="512.78" y2="233.10" stroke="#f28232" stroke-width="1.10"/><rect x="506.98" y="232.61" width="7.20" height="1.00" fill="#f28232" fill-opacity="0.95" stroke="#f28232" stroke-width="0.8"/><line x1="507.78" y1="232.85" x2="513.38" y2="232.85" stroke="#ffffff" stroke-width="0.50"/><line x1="510.58" y1="251.88" x2="510.58" y2="252.90" stroke="#f28232" stroke-width="1.10"/><line x1="508.38" y1="251.88" x2="512.78" y2="251.88" stroke="#f28232" stroke-width="1.10"/><line x1="508.38" y1="252.90" x2="512.78" y2="252.90" stroke="#f28232" stroke-width="1.10"/><rect x="506.98" y="251.88" width="7.20" height="1.00" fill="#f28232" fill-opacity="0.95" stroke="#f28232" stroke-width="0.8"/><line x1="507.78" y1="252.31" x2="513.38" y2="252.31" stroke="#ffffff" stroke-width="0.50"/><line x1="525.04" y1="158.40" x2="525.04" y2="160.40" stroke="#e2604c" stroke-width="1.10"/><line x1="522.84" y1="158.40" x2="527.24" y2="158.40" stroke="#e2604c" stroke-width="1.10"/><line x1="522.84" y1="160.40" x2="527.24" y2="160.40" stroke="#e2604c" stroke-width="1.10"/><rect x="521.44" y="158.73" width="7.20" height="1.34" fill="#e2604c" fill-opacity="0.95" stroke="#e2604c" stroke-width="0.8"/><line x1="522.24" y1="159.40" x2="527.84" y2="159.40" stroke="#ffffff" stroke-width="0.50"/><line x1="525.04" y1="194.46" x2="525.04" y2="194.80" stroke="#e2604c" stroke-width="1.10"/><line x1="522.84" y1="194.46" x2="527.24" y2="194.46" stroke="#e2604c" stroke-width="1.10"/><line x1="522.84" y1="194.80" x2="527.24" y2="194.80" stroke="#e2604c" stroke-width="1.10"/><rect x="521.44" y="194.63" width="7.20" height="1.00" fill="#e2604c" fill-opacity="0.95" stroke="#e2604c" stroke-width="0.8"/><line x1="522.24" y1="194.72" x2="527.84" y2="194.72" stroke="#ffffff" stroke-width="0.50"/><line x1="525.04" y1="213.56" x2="525.04" y2="213.90" stroke="#e2604c" stroke-width="1.10"/><line x1="522.84" y1="213.56" x2="527.24" y2="213.56" stroke="#e2604c" stroke-width="1.10"/><line x1="522.84" y1="213.90" x2="527.24" y2="213.90" stroke="#e2604c" stroke-width="1.10"/><rect x="521.44" y="213.73" width="7.20" height="1.00" fill="#e2604c" fill-opacity="0.95" stroke="#e2604c" stroke-width="0.8"/><line x1="522.24" y1="213.81" x2="527.84" y2="213.81" stroke="#ffffff" stroke-width="0.50"/><line x1="525.04" y1="232.77" x2="525.04" y2="233.10" stroke="#e2604c" stroke-width="1.10"/><line x1="522.84" y1="232.77" x2="527.24" y2="232.77" stroke="#e2604c" stroke-width="1.10"/><line x1="522.84" y1="233.10" x2="527.24" y2="233.10" stroke="#e2604c" stroke-width="1.10"/><rect x="521.44" y="232.94" width="7.20" height="1.00" fill="#e2604c" fill-opacity="0.95" stroke="#e2604c" stroke-width="0.8"/><line x1="522.24" y1="233.02" x2="527.84" y2="233.02" stroke="#ffffff" stroke-width="0.50"/><line x1="525.04" y1="252.39" x2="525.04" y2="252.90" stroke="#e2604c" stroke-width="1.10"/><line x1="522.84" y1="252.39" x2="527.24" y2="252.39" stroke="#e2604c" stroke-width="1.10"/><line x1="522.84" y1="252.90" x2="527.24" y2="252.90" stroke="#e2604c" stroke-width="1.10"/><rect x="521.44" y="252.56" width="7.20" height="1.00" fill="#e2604c" fill-opacity="0.95" stroke="#e2604c" stroke-width="0.8"/><line x1="522.24" y1="252.73" x2="527.84" y2="252.73" stroke="#ffffff" stroke-width="0.50"/><line x1="539.50" y1="162.58" x2="539.50" y2="172.26" stroke="#d8306f" stroke-width="1.10"/><line x1="537.30" y1="162.58" x2="541.70" y2="162.58" stroke="#d8306f" stroke-width="1.10"/><line x1="537.30" y1="172.26" x2="541.70" y2="172.26" stroke="#d8306f" stroke-width="1.10"/><rect x="535.90" y="164.58" width="7.20" height="3.01" fill="#d8306f" fill-opacity="0.95" stroke="#d8306f" stroke-width="0.8"/><line x1="536.70" y1="166.08" x2="542.30" y2="166.08" stroke="#ffffff" stroke-width="0.50"/><line x1="539.50" y1="187.03" x2="539.50" y2="193.28" stroke="#d8306f" stroke-width="1.10"/><line x1="537.30" y1="187.03" x2="541.70" y2="187.03" stroke="#d8306f" stroke-width="1.10"/><line x1="537.30" y1="193.28" x2="541.70" y2="193.28" stroke="#d8306f" stroke-width="1.10"/><rect x="535.90" y="188.55" width="7.20" height="4.06" fill="#d8306f" fill-opacity="0.95" stroke="#d8306f" stroke-width="0.8"/><line x1="536.70" y1="190.57" x2="542.30" y2="190.57" stroke="#ffffff" stroke-width="0.50"/><line x1="539.50" y1="211.18" x2="539.50" y2="213.90" stroke="#d8306f" stroke-width="1.10"/><line x1="537.30" y1="211.18" x2="541.70" y2="211.18" stroke="#d8306f" stroke-width="1.10"/><line x1="537.30" y1="213.90" x2="541.70" y2="213.90" stroke="#d8306f" stroke-width="1.10"/><rect x="535.90" y="212.20" width="7.20" height="1.70" fill="#d8306f" fill-opacity="0.95" stroke="#d8306f" stroke-width="0.8"/><line x1="536.70" y1="213.05" x2="542.30" y2="213.05" stroke="#ffffff" stroke-width="0.50"/><line x1="539.50" y1="230.63" x2="539.50" y2="233.10" stroke="#d8306f" stroke-width="1.10"/><line x1="537.30" y1="230.63" x2="541.70" y2="230.63" stroke="#d8306f" stroke-width="1.10"/><line x1="537.30" y1="233.10" x2="541.70" y2="233.10" stroke="#d8306f" stroke-width="1.10"/><rect x="535.90" y="231.12" width="7.20" height="1.48" fill="#d8306f" fill-opacity="0.95" stroke="#d8306f" stroke-width="0.8"/><line x1="536.70" y1="231.86" x2="542.30" y2="231.86" stroke="#ffffff" stroke-width="0.50"/><line x1="539.50" y1="251.88" x2="539.50" y2="252.90" stroke="#d8306f" stroke-width="1.10"/><line x1="537.30" y1="251.88" x2="541.70" y2="251.88" stroke="#d8306f" stroke-width="1.10"/><line x1="537.30" y1="252.90" x2="541.70" y2="252.90" stroke="#d8306f" stroke-width="1.10"/><rect x="535.90" y="252.05" width="7.20" height="1.00" fill="#d8306f" fill-opacity="0.95" stroke="#d8306f" stroke-width="0.8"/><line x1="536.70" y1="252.39" x2="542.30" y2="252.39" stroke="#ffffff" stroke-width="0.50"/><line x1="553.96" y1="163.41" x2="553.96" y2="167.25" stroke="#3f9e30" stroke-width="1.10"/><line x1="551.76" y1="163.41" x2="556.16" y2="163.41" stroke="#3f9e30" stroke-width="1.10"/><line x1="551.76" y1="167.25" x2="556.16" y2="167.25" stroke="#3f9e30" stroke-width="1.10"/><rect x="550.36" y="165.41" width="7.20" height="1.34" fill="#3f9e30" fill-opacity="0.95" stroke="#3f9e30" stroke-width="0.8"/><line x1="551.16" y1="166.08" x2="556.76" y2="166.08" stroke="#ffffff" stroke-width="0.50"/><line x1="553.96" y1="182.12" x2="553.96" y2="190.07" stroke="#3f9e30" stroke-width="1.10"/><line x1="551.76" y1="182.12" x2="556.16" y2="182.12" stroke="#3f9e30" stroke-width="1.10"/><line x1="551.76" y1="190.07" x2="556.16" y2="190.07" stroke="#3f9e30" stroke-width="1.10"/><rect x="550.36" y="184.66" width="7.20" height="2.37" fill="#3f9e30" fill-opacity="0.95" stroke="#3f9e30" stroke-width="0.8"/><line x1="551.16" y1="185.84" x2="556.76" y2="185.84" stroke="#ffffff" stroke-width="0.50"/><line x1="553.96" y1="213.22" x2="553.96" y2="213.90" stroke="#3f9e30" stroke-width="1.10"/><line x1="551.76" y1="213.22" x2="556.16" y2="213.22" stroke="#3f9e30" stroke-width="1.10"/><line x1="551.76" y1="213.90" x2="556.16" y2="213.90" stroke="#3f9e30" stroke-width="1.10"/><rect x="550.36" y="213.39" width="7.20" height="1.00" fill="#3f9e30" fill-opacity="0.95" stroke="#3f9e30" stroke-width="0.8"/><line x1="551.16" y1="213.65" x2="556.76" y2="213.65" stroke="#ffffff" stroke-width="0.50"/><line x1="553.96" y1="232.44" x2="553.96" y2="233.10" stroke="#3f9e30" stroke-width="1.10"/><line x1="551.76" y1="232.44" x2="556.16" y2="232.44" stroke="#3f9e30" stroke-width="1.10"/><line x1="551.76" y1="233.10" x2="556.16" y2="233.10" stroke="#3f9e30" stroke-width="1.10"/><rect x="550.36" y="232.61" width="7.20" height="1.00" fill="#3f9e30" fill-opacity="0.95" stroke="#3f9e30" stroke-width="0.8"/><line x1="551.16" y1="232.85" x2="556.76" y2="232.85" stroke="#ffffff" stroke-width="0.50"/><line x1="553.96" y1="252.39" x2="553.96" y2="252.90" stroke="#3f9e30" stroke-width="1.10"/><line x1="551.76" y1="252.39" x2="556.16" y2="252.39" stroke="#3f9e30" stroke-width="1.10"/><line x1="551.76" y1="252.90" x2="556.16" y2="252.90" stroke="#3f9e30" stroke-width="1.10"/><rect x="550.36" y="252.39" width="7.20" height="1.00" fill="#3f9e30" fill-opacity="0.95" stroke="#3f9e30" stroke-width="0.8"/><line x1="551.16" y1="252.56" x2="556.76" y2="252.56" stroke="#ffffff" stroke-width="0.50"/><line x1="568.42" y1="158.73" x2="568.42" y2="174.27" stroke="#b57b90" stroke-width="1.10"/><line x1="566.22" y1="158.73" x2="570.62" y2="158.73" stroke="#b57b90" stroke-width="1.10"/><line x1="566.22" y1="174.27" x2="570.62" y2="174.27" stroke="#b57b90" stroke-width="1.10"/><rect x="564.82" y="160.40" width="7.20" height="6.35" fill="#b57b90" fill-opacity="0.95" stroke="#b57b90" stroke-width="0.8"/><line x1="565.62" y1="163.58" x2="571.22" y2="163.58" stroke="#ffffff" stroke-width="0.50"/><line x1="568.42" y1="191.93" x2="568.42" y2="194.80" stroke="#b57b90" stroke-width="1.10"/><line x1="566.22" y1="191.93" x2="570.62" y2="191.93" stroke="#b57b90" stroke-width="1.10"/><line x1="566.22" y1="194.80" x2="570.62" y2="194.80" stroke="#b57b90" stroke-width="1.10"/><rect x="564.82" y="193.11" width="7.20" height="1.69" fill="#b57b90" fill-opacity="0.95" stroke="#b57b90" stroke-width="0.8"/><line x1="565.62" y1="193.96" x2="571.22" y2="193.96" stroke="#ffffff" stroke-width="0.50"/><line x1="568.42" y1="204.38" x2="568.42" y2="213.90" stroke="#b57b90" stroke-width="1.10"/><line x1="566.22" y1="204.38" x2="570.62" y2="204.38" stroke="#b57b90" stroke-width="1.10"/><line x1="566.22" y1="213.90" x2="570.62" y2="213.90" stroke="#b57b90" stroke-width="1.10"/><rect x="564.82" y="211.52" width="7.20" height="2.38" fill="#b57b90" fill-opacity="0.95" stroke="#b57b90" stroke-width="0.8"/><line x1="565.62" y1="212.71" x2="571.22" y2="212.71" stroke="#ffffff" stroke-width="0.50"/><line x1="568.42" y1="231.95" x2="568.42" y2="233.10" stroke="#b57b90" stroke-width="1.10"/><line x1="566.22" y1="231.95" x2="570.62" y2="231.95" stroke="#b57b90" stroke-width="1.10"/><line x1="566.22" y1="233.10" x2="570.62" y2="233.10" stroke="#b57b90" stroke-width="1.10"/><rect x="564.82" y="232.28" width="7.20" height="1.00" fill="#b57b90" fill-opacity="0.95" stroke="#b57b90" stroke-width="0.8"/><line x1="565.62" y1="232.69" x2="571.22" y2="232.69" stroke="#ffffff" stroke-width="0.50"/><line x1="568.42" y1="251.88" x2="568.42" y2="252.90" stroke="#b57b90" stroke-width="1.10"/><line x1="566.22" y1="251.88" x2="570.62" y2="251.88" stroke="#b57b90" stroke-width="1.10"/><line x1="566.22" y1="252.90" x2="570.62" y2="252.90" stroke="#b57b90" stroke-width="1.10"/><rect x="564.82" y="251.88" width="7.20" height="1.00" fill="#b57b90" fill-opacity="0.95" stroke="#b57b90" stroke-width="0.8"/><line x1="565.62" y1="252.31" x2="571.22" y2="252.31" stroke="#ffffff" stroke-width="0.50"/><line x1="582.88" y1="163.74" x2="582.88" y2="174.27" stroke="#82f0c8" stroke-width="1.10"/><line x1="580.68" y1="163.74" x2="585.08" y2="163.74" stroke="#82f0c8" stroke-width="1.10"/><line x1="580.68" y1="174.27" x2="585.08" y2="174.27" stroke="#82f0c8" stroke-width="1.10"/><rect x="579.28" y="168.09" width="7.20" height="5.68" fill="#82f0c8" fill-opacity="0.95" stroke="#82f0c8" stroke-width="0.8"/><line x1="580.08" y1="170.93" x2="585.68" y2="170.93" stroke="#ffffff" stroke-width="0.50"/><line x1="582.88" y1="186.86" x2="582.88" y2="194.80" stroke="#82f0c8" stroke-width="1.10"/><line x1="580.68" y1="186.86" x2="585.08" y2="186.86" stroke="#82f0c8" stroke-width="1.10"/><line x1="580.68" y1="194.80" x2="585.08" y2="194.80" stroke="#82f0c8" stroke-width="1.10"/><rect x="579.28" y="190.58" width="7.20" height="4.22" fill="#82f0c8" fill-opacity="0.95" stroke="#82f0c8" stroke-width="0.8"/><line x1="580.08" y1="192.69" x2="585.68" y2="192.69" stroke="#ffffff" stroke-width="0.50"/><line x1="582.88" y1="206.08" x2="582.88" y2="213.39" stroke="#82f0c8" stroke-width="1.10"/><line x1="580.68" y1="206.08" x2="585.08" y2="206.08" stroke="#82f0c8" stroke-width="1.10"/><line x1="580.68" y1="213.39" x2="585.08" y2="213.39" stroke="#82f0c8" stroke-width="1.10"/><rect x="579.28" y="209.48" width="7.20" height="3.57" fill="#82f0c8" fill-opacity="0.95" stroke="#82f0c8" stroke-width="0.8"/><line x1="580.08" y1="211.27" x2="585.68" y2="211.27" stroke="#ffffff" stroke-width="0.50"/><line x1="582.88" y1="224.19" x2="582.88" y2="233.10" stroke="#82f0c8" stroke-width="1.10"/><line x1="580.68" y1="224.19" x2="585.08" y2="224.19" stroke="#82f0c8" stroke-width="1.10"/><line x1="580.68" y1="233.10" x2="585.08" y2="233.10" stroke="#82f0c8" stroke-width="1.10"/><rect x="579.28" y="228.98" width="7.20" height="3.63" fill="#82f0c8" fill-opacity="0.95" stroke="#82f0c8" stroke-width="0.8"/><line x1="580.08" y1="230.79" x2="585.68" y2="230.79" stroke="#ffffff" stroke-width="0.50"/><line x1="582.88" y1="251.54" x2="582.88" y2="252.90" stroke="#82f0c8" stroke-width="1.10"/><line x1="580.68" y1="251.54" x2="585.08" y2="251.54" stroke="#82f0c8" stroke-width="1.10"/><line x1="580.68" y1="252.90" x2="585.08" y2="252.90" stroke="#82f0c8" stroke-width="1.10"/><rect x="579.28" y="251.71" width="7.20" height="1.02" fill="#82f0c8" fill-opacity="0.95" stroke="#82f0c8" stroke-width="0.8"/><line x1="580.08" y1="252.22" x2="585.68" y2="252.22" stroke="#ffffff" stroke-width="0.50"/><line x1="597.34" y1="161.41" x2="597.34" y2="174.60" stroke="#957d66" stroke-width="1.10"/><line x1="595.14" y1="161.41" x2="599.54" y2="161.41" stroke="#957d66" stroke-width="1.10"/><line x1="595.14" y1="174.60" x2="599.54" y2="174.60" stroke="#957d66" stroke-width="1.10"/><rect x="593.74" y="163.41" width="7.20" height="6.68" fill="#957d66" fill-opacity="0.95" stroke="#957d66" stroke-width="0.8"/><line x1="594.54" y1="166.75" x2="600.14" y2="166.75" stroke="#ffffff" stroke-width="0.50"/><line x1="597.34" y1="190.58" x2="597.34" y2="194.80" stroke="#957d66" stroke-width="1.10"/><line x1="595.14" y1="190.58" x2="599.54" y2="190.58" stroke="#957d66" stroke-width="1.10"/><line x1="595.14" y1="194.80" x2="599.54" y2="194.80" stroke="#957d66" stroke-width="1.10"/><rect x="593.74" y="191.93" width="7.20" height="2.87" fill="#957d66" fill-opacity="0.95" stroke="#957d66" stroke-width="0.8"/><line x1="594.54" y1="193.36" x2="600.14" y2="193.36" stroke="#ffffff" stroke-width="0.50"/><line x1="597.34" y1="202.85" x2="597.34" y2="213.90" stroke="#957d66" stroke-width="1.10"/><line x1="595.14" y1="202.85" x2="599.54" y2="202.85" stroke="#957d66" stroke-width="1.10"/><line x1="595.14" y1="213.90" x2="599.54" y2="213.90" stroke="#957d66" stroke-width="1.10"/><rect x="593.74" y="208.97" width="7.20" height="4.93" fill="#957d66" fill-opacity="0.95" stroke="#957d66" stroke-width="0.8"/><line x1="594.54" y1="211.44" x2="600.14" y2="211.44" stroke="#ffffff" stroke-width="0.50"/><line x1="597.34" y1="231.45" x2="597.34" y2="233.10" stroke="#957d66" stroke-width="1.10"/><line x1="595.14" y1="231.45" x2="599.54" y2="231.45" stroke="#957d66" stroke-width="1.10"/><line x1="595.14" y1="233.10" x2="599.54" y2="233.10" stroke="#957d66" stroke-width="1.10"/><rect x="593.74" y="231.95" width="7.20" height="1.16" fill="#957d66" fill-opacity="0.95" stroke="#957d66" stroke-width="0.8"/><line x1="594.54" y1="232.52" x2="600.14" y2="232.52" stroke="#ffffff" stroke-width="0.50"/><line x1="597.34" y1="251.88" x2="597.34" y2="252.90" stroke="#957d66" stroke-width="1.10"/><line x1="595.14" y1="251.88" x2="599.54" y2="251.88" stroke="#957d66" stroke-width="1.10"/><line x1="595.14" y1="252.90" x2="599.54" y2="252.90" stroke="#957d66" stroke-width="1.10"/><rect x="593.74" y="252.05" width="7.20" height="1.00" fill="#957d66" fill-opacity="0.95" stroke="#957d66" stroke-width="0.8"/><line x1="594.54" y1="252.39" x2="600.14" y2="252.39" stroke="#ffffff" stroke-width="0.50"/><line x1="611.79" y1="162.41" x2="611.79" y2="169.59" stroke="#6af0f0" stroke-width="1.10"/><line x1="609.59" y1="162.41" x2="613.99" y2="162.41" stroke="#6af0f0" stroke-width="1.10"/><line x1="609.59" y1="169.59" x2="613.99" y2="169.59" stroke="#6af0f0" stroke-width="1.10"/><rect x="608.19" y="162.58" width="7.20" height="3.01" fill="#6af0f0" fill-opacity="0.95" stroke="#6af0f0" stroke-width="0.8"/><line x1="608.99" y1="164.08" x2="614.59" y2="164.08" stroke="#ffffff" stroke-width="0.50"/><line x1="611.79" y1="191.76" x2="611.79" y2="194.80" stroke="#6af0f0" stroke-width="1.10"/><line x1="609.59" y1="191.76" x2="613.99" y2="191.76" stroke="#6af0f0" stroke-width="1.10"/><line x1="609.59" y1="194.80" x2="613.99" y2="194.80" stroke="#6af0f0" stroke-width="1.10"/><rect x="608.19" y="193.11" width="7.20" height="1.69" fill="#6af0f0" fill-opacity="0.95" stroke="#6af0f0" stroke-width="0.8"/><line x1="608.99" y1="193.96" x2="614.59" y2="193.96" stroke="#ffffff" stroke-width="0.50"/><line x1="611.79" y1="209.48" x2="611.79" y2="213.90" stroke="#6af0f0" stroke-width="1.10"/><line x1="609.59" y1="209.48" x2="613.99" y2="209.48" stroke="#6af0f0" stroke-width="1.10"/><line x1="609.59" y1="213.90" x2="613.99" y2="213.90" stroke="#6af0f0" stroke-width="1.10"/><rect x="608.19" y="211.69" width="7.20" height="2.21" fill="#6af0f0" fill-opacity="0.95" stroke="#6af0f0" stroke-width="0.8"/><line x1="608.99" y1="212.80" x2="614.59" y2="212.80" stroke="#ffffff" stroke-width="0.50"/><line x1="611.79" y1="231.95" x2="611.79" y2="233.10" stroke="#6af0f0" stroke-width="1.10"/><line x1="609.59" y1="231.95" x2="613.99" y2="231.95" stroke="#6af0f0" stroke-width="1.10"/><line x1="609.59" y1="233.10" x2="613.99" y2="233.10" stroke="#6af0f0" stroke-width="1.10"/><rect x="608.19" y="232.28" width="7.20" height="1.00" fill="#6af0f0" fill-opacity="0.95" stroke="#6af0f0" stroke-width="0.8"/><line x1="608.99" y1="232.69" x2="614.59" y2="232.69" stroke="#ffffff" stroke-width="0.50"/><line x1="611.79" y1="251.88" x2="611.79" y2="252.90" stroke="#6af0f0" stroke-width="1.10"/><line x1="609.59" y1="251.88" x2="613.99" y2="251.88" stroke="#6af0f0" stroke-width="1.10"/><line x1="609.59" y1="252.90" x2="613.99" y2="252.90" stroke="#6af0f0" stroke-width="1.10"/><rect x="608.19" y="252.05" width="7.20" height="1.00" fill="#6af0f0" fill-opacity="0.95" stroke="#6af0f0" stroke-width="0.8"/><line x1="608.99" y1="252.39" x2="614.59" y2="252.39" stroke="#ffffff" stroke-width="0.50"/><line x1="626.25" y1="163.91" x2="626.25" y2="173.10" stroke="#141414" stroke-width="1.10"/><line x1="624.05" y1="163.91" x2="628.45" y2="163.91" stroke="#141414" stroke-width="1.10"/><line x1="624.05" y1="173.10" x2="628.45" y2="173.10" stroke="#141414" stroke-width="1.10"/><rect x="622.65" y="165.58" width="7.20" height="2.84" fill="#141414" fill-opacity="0.95" stroke="#141414" stroke-width="0.8"/><line x1="623.45" y1="167.00" x2="629.05" y2="167.00" stroke="#ffffff" stroke-width="0.50"/><line x1="626.25" y1="189.39" x2="626.25" y2="194.80" stroke="#141414" stroke-width="1.10"/><line x1="624.05" y1="189.39" x2="628.45" y2="189.39" stroke="#141414" stroke-width="1.10"/><line x1="624.05" y1="194.80" x2="628.45" y2="194.80" stroke="#141414" stroke-width="1.10"/><rect x="622.65" y="190.07" width="7.20" height="3.89" fill="#141414" fill-opacity="0.95" stroke="#141414" stroke-width="0.8"/><line x1="623.45" y1="192.01" x2="629.05" y2="192.01" stroke="#ffffff" stroke-width="0.50"/><line x1="626.25" y1="205.40" x2="626.25" y2="213.90" stroke="#141414" stroke-width="1.10"/><line x1="624.05" y1="205.40" x2="628.45" y2="205.40" stroke="#141414" stroke-width="1.10"/><line x1="624.05" y1="213.90" x2="628.45" y2="213.90" stroke="#141414" stroke-width="1.10"/><rect x="622.65" y="210.16" width="7.20" height="3.74" fill="#141414" fill-opacity="0.95" stroke="#141414" stroke-width="0.8"/><line x1="623.45" y1="212.03" x2="629.05" y2="212.03" stroke="#ffffff" stroke-width="0.50"/><line x1="626.25" y1="230.13" x2="626.25" y2="233.10" stroke="#141414" stroke-width="1.10"/><line x1="624.05" y1="230.13" x2="628.45" y2="230.13" stroke="#141414" stroke-width="1.10"/><line x1="624.05" y1="233.10" x2="628.45" y2="233.10" stroke="#141414" stroke-width="1.10"/><rect x="622.65" y="230.63" width="7.20" height="2.14" fill="#141414" fill-opacity="0.95" stroke="#141414" stroke-width="0.8"/><line x1="623.45" y1="231.70" x2="629.05" y2="231.70" stroke="#ffffff" stroke-width="0.50"/><line x1="626.25" y1="252.22" x2="626.25" y2="252.90" stroke="#141414" stroke-width="1.10"/><line x1="624.05" y1="252.22" x2="628.45" y2="252.22" stroke="#141414" stroke-width="1.10"/><line x1="624.05" y1="252.90" x2="628.45" y2="252.90" stroke="#141414" stroke-width="1.10"/><rect x="622.65" y="252.22" width="7.20" height="1.00" fill="#141414" fill-opacity="0.95" stroke="#141414" stroke-width="0.8"/><line x1="623.45" y1="252.48" x2="629.05" y2="252.48" stroke="#ffffff" stroke-width="0.50"/><line x1="640.71" y1="160.40" x2="640.71" y2="171.93" stroke="#bcf55c" stroke-width="1.10"/><line x1="638.51" y1="160.40" x2="642.91" y2="160.40" stroke="#bcf55c" stroke-width="1.10"/><line x1="638.51" y1="171.93" x2="642.91" y2="171.93" stroke="#bcf55c" stroke-width="1.10"/><rect x="637.11" y="161.74" width="7.20" height="3.84" fill="#bcf55c" fill-opacity="0.95" stroke="#bcf55c" stroke-width="0.8"/><line x1="637.91" y1="163.66" x2="643.51" y2="163.66" stroke="#ffffff" stroke-width="0.50"/><line x1="640.71" y1="191.08" x2="640.71" y2="194.80" stroke="#bcf55c" stroke-width="1.10"/><line x1="638.51" y1="191.08" x2="642.91" y2="191.08" stroke="#bcf55c" stroke-width="1.10"/><line x1="638.51" y1="194.80" x2="642.91" y2="194.80" stroke="#bcf55c" stroke-width="1.10"/><rect x="637.11" y="191.42" width="7.20" height="2.20" fill="#bcf55c" fill-opacity="0.95" stroke="#bcf55c" stroke-width="0.8"/><line x1="637.91" y1="192.52" x2="643.51" y2="192.52" stroke="#ffffff" stroke-width="0.50"/><line x1="640.71" y1="210.50" x2="640.71" y2="213.90" stroke="#bcf55c" stroke-width="1.10"/><line x1="638.51" y1="210.50" x2="642.91" y2="210.50" stroke="#bcf55c" stroke-width="1.10"/><line x1="638.51" y1="213.90" x2="642.91" y2="213.90" stroke="#bcf55c" stroke-width="1.10"/><rect x="637.11" y="212.20" width="7.20" height="1.70" fill="#bcf55c" fill-opacity="0.95" stroke="#bcf55c" stroke-width="0.8"/><line x1="637.91" y1="213.05" x2="643.51" y2="213.05" stroke="#ffffff" stroke-width="0.50"/><line x1="640.71" y1="231.45" x2="640.71" y2="233.10" stroke="#bcf55c" stroke-width="1.10"/><line x1="638.51" y1="231.45" x2="642.91" y2="231.45" stroke="#bcf55c" stroke-width="1.10"/><line x1="638.51" y1="233.10" x2="642.91" y2="233.10" stroke="#bcf55c" stroke-width="1.10"/><rect x="637.11" y="231.78" width="7.20" height="1.16" fill="#bcf55c" fill-opacity="0.95" stroke="#bcf55c" stroke-width="0.8"/><line x1="637.91" y1="232.36" x2="643.51" y2="232.36" stroke="#ffffff" stroke-width="0.50"/><line x1="640.71" y1="252.05" x2="640.71" y2="252.90" stroke="#bcf55c" stroke-width="1.10"/><line x1="638.51" y1="252.05" x2="642.91" y2="252.05" stroke="#bcf55c" stroke-width="1.10"/><line x1="638.51" y1="252.90" x2="642.91" y2="252.90" stroke="#bcf55c" stroke-width="1.10"/><rect x="637.11" y="252.22" width="7.20" height="1.00" fill="#bcf55c" fill-opacity="0.95" stroke="#bcf55c" stroke-width="0.8"/><line x1="637.91" y1="252.48" x2="643.51" y2="252.48" stroke="#ffffff" stroke-width="0.50"/><line x1="655.17" y1="163.74" x2="655.17" y2="166.75" stroke="#c9d842" stroke-width="1.10"/><line x1="652.97" y1="163.74" x2="657.37" y2="163.74" stroke="#c9d842" stroke-width="1.10"/><line x1="652.97" y1="166.75" x2="657.37" y2="166.75" stroke="#c9d842" stroke-width="1.10"/><rect x="651.57" y="163.91" width="7.20" height="2.84" fill="#c9d842" fill-opacity="0.95" stroke="#c9d842" stroke-width="0.8"/><line x1="652.37" y1="165.33" x2="657.97" y2="165.33" stroke="#ffffff" stroke-width="0.50"/><line x1="655.17" y1="186.86" x2="655.17" y2="193.96" stroke="#c9d842" stroke-width="1.10"/><line x1="652.97" y1="186.86" x2="657.37" y2="186.86" stroke="#c9d842" stroke-width="1.10"/><line x1="652.97" y1="193.96" x2="657.37" y2="193.96" stroke="#c9d842" stroke-width="1.10"/><rect x="651.57" y="187.36" width="7.20" height="4.73" fill="#c9d842" fill-opacity="0.95" stroke="#c9d842" stroke-width="0.8"/><line x1="652.37" y1="189.73" x2="657.97" y2="189.73" stroke="#ffffff" stroke-width="0.50"/><line x1="655.17" y1="213.39" x2="655.17" y2="213.90" stroke="#c9d842" stroke-width="1.10"/><line x1="652.97" y1="213.39" x2="657.37" y2="213.39" stroke="#c9d842" stroke-width="1.10"/><line x1="652.97" y1="213.90" x2="657.37" y2="213.90" stroke="#c9d842" stroke-width="1.10"/><rect x="651.57" y="213.39" width="7.20" height="1.00" fill="#c9d842" fill-opacity="0.95" stroke="#c9d842" stroke-width="0.8"/><line x1="652.37" y1="213.65" x2="657.97" y2="213.65" stroke="#ffffff" stroke-width="0.50"/><line x1="655.17" y1="231.78" x2="655.17" y2="233.10" stroke="#c9d842" stroke-width="1.10"/><line x1="652.97" y1="231.78" x2="657.37" y2="231.78" stroke="#c9d842" stroke-width="1.10"/><line x1="652.97" y1="233.10" x2="657.37" y2="233.10" stroke="#c9d842" stroke-width="1.10"/><rect x="651.57" y="231.78" width="7.20" height="1.16" fill="#c9d842" fill-opacity="0.95" stroke="#c9d842" stroke-width="0.8"/><line x1="652.37" y1="232.36" x2="657.97" y2="232.36" stroke="#ffffff" stroke-width="0.50"/><line x1="655.17" y1="252.22" x2="655.17" y2="252.90" stroke="#c9d842" stroke-width="1.10"/><line x1="652.97" y1="252.22" x2="657.37" y2="252.22" stroke="#c9d842" stroke-width="1.10"/><line x1="652.97" y1="252.90" x2="657.37" y2="252.90" stroke="#c9d842" stroke-width="1.10"/><rect x="651.57" y="252.39" width="7.20" height="1.00" fill="#c9d842" fill-opacity="0.95" stroke="#c9d842" stroke-width="0.8"/><line x1="652.37" y1="252.56" x2="657.97" y2="252.56" stroke="#ffffff" stroke-width="0.50"/></g>
<g font-size="6" fill="#222"><text x="415.0" y="177.2" text-anchor="end">0</text><text x="415.0" y="168.8" text-anchor="end">50</text><text x="415.0" y="160.5" text-anchor="end">100</text><text x="664.2" y="196.9">0</text><text x="664.2" y="188.4">50</text><text x="664.2" y="180.0">100</text><text x="415.0" y="216.0" text-anchor="end">0</text><text x="415.0" y="207.5" text-anchor="end">50</text><text x="415.0" y="199.0" text-anchor="end">100</text><text x="664.2" y="235.2">0</text><text x="664.2" y="227.0">50</text><text x="664.2" y="218.7">100</text><text x="415.0" y="255.0" text-anchor="end">0</text><text x="415.0" y="246.5" text-anchor="end">50</text><text x="415.0" y="238.0" text-anchor="end">100</text></g>
<g font-size="7.7" fill="#222"><text transform="translate(400.9 166.8) rotate(-90)" text-anchor="middle">SiO<tspan font-size="5.5" dy="1.6">2</tspan></text><text transform="translate(400.9 205.5) rotate(-90)" text-anchor="middle">CaO</text><text transform="translate(400.9 244.4) rotate(-90)" text-anchor="middle">MgO</text><text transform="translate(679.0 186.4) rotate(90)" text-anchor="middle">Al<tspan font-size="5.5" dy="1.6">2</tspan><tspan dy="-1.6">O</tspan><tspan font-size="5.5" dy="1.6">3</tspan></text><text transform="translate(679.0 225.0) rotate(90)" text-anchor="middle">Fe<tspan font-size="5.5" dy="1.6">2</tspan><tspan dy="-1.6">O</tspan><tspan font-size="5.5" dy="1.6">3</tspan></text></g>
<g font-size="6.3" fill="#222"><text transform="translate(424.6 263.0) rotate(-32)" text-anchor="end">Natural pozzolans</text><text transform="translate(439.1 263.0) rotate(-32)" text-anchor="end">Other ashes</text><text transform="translate(453.5 263.0) rotate(-32)" text-anchor="end">Cements</text><text transform="translate(468.0 263.0) rotate(-32)" text-anchor="end">Fly ashes</text><text transform="translate(482.5 263.0) rotate(-32)" text-anchor="end">Clinkers</text><text transform="translate(496.9 263.0) rotate(-32)" text-anchor="end">Slags</text><text transform="translate(511.4 263.0) rotate(-32)" text-anchor="end">Lime species</text><text transform="translate(525.8 263.0) rotate(-32)" text-anchor="end">Silica fume</text><text transform="translate(540.3 263.0) rotate(-32)" text-anchor="end">Clays</text><text transform="translate(554.8 263.0) rotate(-32)" text-anchor="end">Metakaolin</text><text transform="translate(569.2 263.0) rotate(-32)" text-anchor="end">Biomass ashes</text><text transform="translate(583.7 263.0) rotate(-32)" text-anchor="end">Mine tailings</text><text transform="translate(598.1 263.0) rotate(-32)" text-anchor="end">C&amp;D wastes</text><text transform="translate(612.6 263.0) rotate(-32)" text-anchor="end">Glasses</text><text transform="translate(627.1 263.0) rotate(-32)" text-anchor="end">Bottom ashes</text><text transform="translate(641.5 263.0) rotate(-32)" text-anchor="end">Granite</text><text transform="translate(656.0 263.0) rotate(-32)" text-anchor="end">Calcined clays</text></g>
</svg></body></html>
